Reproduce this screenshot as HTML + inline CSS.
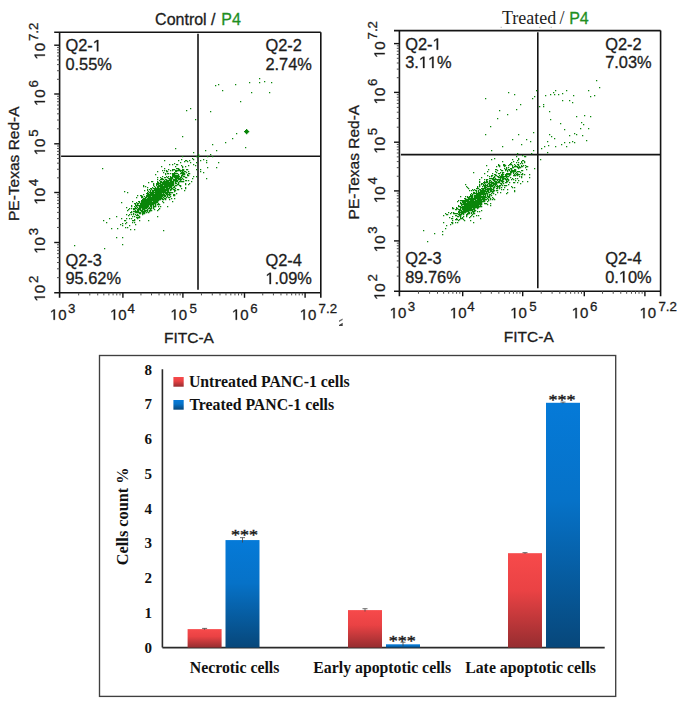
<!DOCTYPE html><html><head><meta charset="utf-8"><style>html,body{margin:0;padding:0;background:#fff;}body{width:685px;height:701px;overflow:hidden;position:relative;}</style></head><body><svg width="685" height="701" viewBox="0 0 685 701" style="position:absolute;left:0;top:0">
<rect width="685" height="701" fill="#fff"/>
<text x="155.1" y="25" font-family='"Liberation Sans", sans-serif' font-size="16" text-anchor="start" fill="#1c1c1c" font-weight="normal" stroke="#1c1c1c" stroke-width="0.3" >Control /</text>
<text x="221.3" y="25" font-family='"Liberation Sans", sans-serif' font-size="16" text-anchor="start" fill="#1f8f1f" font-weight="normal" stroke="#1f8f1f" stroke-width="0.3" >P4</text>
<text x="501.9" y="23.6" font-family='"Liberation Serif", serif' font-size="18" text-anchor="start" fill="#1c1c1c" font-weight="normal" >Treated</text>
<text x="559.4" y="23.6" font-family='"Liberation Serif", serif' font-size="18" text-anchor="start" fill="#1c1c1c" font-weight="normal" >/</text>
<text x="569.2" y="23.6" font-family='"Liberation Sans", sans-serif' font-size="16" text-anchor="start" fill="#1f8f1f" font-weight="normal" stroke="#1f8f1f" stroke-width="0.3" >P4</text>
<rect x="500.6" y="26.8" width="1.2" height="1" fill="#b0b0b0"/>
<rect x="539.2" y="26.8" width="1.2" height="1" fill="#b0b0b0"/>
<rect x="550.6" y="26.8" width="1.2" height="1" fill="#b0b0b0"/>
<line x1="54.2" y1="32.2" x2="320.8" y2="32.2" stroke="#141414" stroke-width="1.6"/>
<line x1="59.6" y1="32.2" x2="59.6" y2="297.8" stroke="#141414" stroke-width="1.6"/>
<line x1="54.2" y1="292.8" x2="320.8" y2="292.8" stroke="#141414" stroke-width="1.6"/>
<line x1="320.8" y1="32.2" x2="320.8" y2="297.8" stroke="#141414" stroke-width="1.6"/>
<line x1="57" y1="277.66" x2="59.6" y2="277.66" stroke="#505050" stroke-width="1.0"/>
<line x1="57" y1="268.8" x2="59.6" y2="268.8" stroke="#505050" stroke-width="1.0"/>
<line x1="57" y1="262.52" x2="59.6" y2="262.52" stroke="#505050" stroke-width="1.0"/>
<line x1="57" y1="257.64" x2="59.6" y2="257.64" stroke="#505050" stroke-width="1.0"/>
<line x1="57" y1="253.66" x2="59.6" y2="253.66" stroke="#505050" stroke-width="1.0"/>
<line x1="57" y1="250.29" x2="59.6" y2="250.29" stroke="#505050" stroke-width="1.0"/>
<line x1="57" y1="247.37" x2="59.6" y2="247.37" stroke="#505050" stroke-width="1.0"/>
<line x1="57" y1="244.8" x2="59.6" y2="244.8" stroke="#505050" stroke-width="1.0"/>
<line x1="54.2" y1="242.5" x2="59.6" y2="242.5" stroke="#141414" stroke-width="1.4"/>
<line x1="57" y1="227.45" x2="59.6" y2="227.45" stroke="#505050" stroke-width="1.0"/>
<line x1="57" y1="218.64" x2="59.6" y2="218.64" stroke="#505050" stroke-width="1.0"/>
<line x1="57" y1="212.4" x2="59.6" y2="212.4" stroke="#505050" stroke-width="1.0"/>
<line x1="57" y1="207.55" x2="59.6" y2="207.55" stroke="#505050" stroke-width="1.0"/>
<line x1="57" y1="203.59" x2="59.6" y2="203.59" stroke="#505050" stroke-width="1.0"/>
<line x1="57" y1="200.25" x2="59.6" y2="200.25" stroke="#505050" stroke-width="1.0"/>
<line x1="57" y1="197.35" x2="59.6" y2="197.35" stroke="#505050" stroke-width="1.0"/>
<line x1="57" y1="194.79" x2="59.6" y2="194.79" stroke="#505050" stroke-width="1.0"/>
<line x1="54.2" y1="192.5" x2="59.6" y2="192.5" stroke="#141414" stroke-width="1.4"/>
<line x1="57" y1="177.84" x2="59.6" y2="177.84" stroke="#505050" stroke-width="1.0"/>
<line x1="57" y1="169.26" x2="59.6" y2="169.26" stroke="#505050" stroke-width="1.0"/>
<line x1="57" y1="163.18" x2="59.6" y2="163.18" stroke="#505050" stroke-width="1.0"/>
<line x1="57" y1="158.46" x2="59.6" y2="158.46" stroke="#505050" stroke-width="1.0"/>
<line x1="57" y1="154.6" x2="59.6" y2="154.6" stroke="#505050" stroke-width="1.0"/>
<line x1="57" y1="151.34" x2="59.6" y2="151.34" stroke="#505050" stroke-width="1.0"/>
<line x1="57" y1="148.52" x2="59.6" y2="148.52" stroke="#505050" stroke-width="1.0"/>
<line x1="57" y1="146.03" x2="59.6" y2="146.03" stroke="#505050" stroke-width="1.0"/>
<line x1="54.2" y1="143.8" x2="59.6" y2="143.8" stroke="#141414" stroke-width="1.4"/>
<line x1="57" y1="128.81" x2="59.6" y2="128.81" stroke="#505050" stroke-width="1.0"/>
<line x1="57" y1="120.04" x2="59.6" y2="120.04" stroke="#505050" stroke-width="1.0"/>
<line x1="57" y1="113.82" x2="59.6" y2="113.82" stroke="#505050" stroke-width="1.0"/>
<line x1="57" y1="108.99" x2="59.6" y2="108.99" stroke="#505050" stroke-width="1.0"/>
<line x1="57" y1="105.05" x2="59.6" y2="105.05" stroke="#505050" stroke-width="1.0"/>
<line x1="57" y1="101.71" x2="59.6" y2="101.71" stroke="#505050" stroke-width="1.0"/>
<line x1="57" y1="98.83" x2="59.6" y2="98.83" stroke="#505050" stroke-width="1.0"/>
<line x1="57" y1="96.28" x2="59.6" y2="96.28" stroke="#505050" stroke-width="1.0"/>
<line x1="54.2" y1="94" x2="59.6" y2="94" stroke="#141414" stroke-width="1.4"/>
<line x1="57" y1="79.31" x2="59.6" y2="79.31" stroke="#505050" stroke-width="1.0"/>
<line x1="57" y1="70.72" x2="59.6" y2="70.72" stroke="#505050" stroke-width="1.0"/>
<line x1="57" y1="64.62" x2="59.6" y2="64.62" stroke="#505050" stroke-width="1.0"/>
<line x1="57" y1="59.89" x2="59.6" y2="59.89" stroke="#505050" stroke-width="1.0"/>
<line x1="57" y1="56.03" x2="59.6" y2="56.03" stroke="#505050" stroke-width="1.0"/>
<line x1="57" y1="52.76" x2="59.6" y2="52.76" stroke="#505050" stroke-width="1.0"/>
<line x1="57" y1="49.93" x2="59.6" y2="49.93" stroke="#505050" stroke-width="1.0"/>
<line x1="57" y1="47.43" x2="59.6" y2="47.43" stroke="#505050" stroke-width="1.0"/>
<line x1="54.2" y1="45.2" x2="59.6" y2="45.2" stroke="#141414" stroke-width="1.4"/>
<line x1="78.66" y1="292.8" x2="78.66" y2="295.4" stroke="#505050" stroke-width="1.0"/>
<line x1="89.8" y1="292.8" x2="89.8" y2="295.4" stroke="#505050" stroke-width="1.0"/>
<line x1="97.71" y1="292.8" x2="97.71" y2="295.4" stroke="#505050" stroke-width="1.0"/>
<line x1="103.84" y1="292.8" x2="103.84" y2="295.4" stroke="#505050" stroke-width="1.0"/>
<line x1="108.86" y1="292.8" x2="108.86" y2="295.4" stroke="#505050" stroke-width="1.0"/>
<line x1="113.09" y1="292.8" x2="113.09" y2="295.4" stroke="#505050" stroke-width="1.0"/>
<line x1="116.77" y1="292.8" x2="116.77" y2="295.4" stroke="#505050" stroke-width="1.0"/>
<line x1="120" y1="292.8" x2="120" y2="295.4" stroke="#505050" stroke-width="1.0"/>
<line x1="122.9" y1="292.8" x2="122.9" y2="297.8" stroke="#141414" stroke-width="1.4"/>
<line x1="140.96" y1="292.8" x2="140.96" y2="295.4" stroke="#505050" stroke-width="1.0"/>
<line x1="151.53" y1="292.8" x2="151.53" y2="295.4" stroke="#505050" stroke-width="1.0"/>
<line x1="159.02" y1="292.8" x2="159.02" y2="295.4" stroke="#505050" stroke-width="1.0"/>
<line x1="164.84" y1="292.8" x2="164.84" y2="295.4" stroke="#505050" stroke-width="1.0"/>
<line x1="169.59" y1="292.8" x2="169.59" y2="295.4" stroke="#505050" stroke-width="1.0"/>
<line x1="173.61" y1="292.8" x2="173.61" y2="295.4" stroke="#505050" stroke-width="1.0"/>
<line x1="177.09" y1="292.8" x2="177.09" y2="295.4" stroke="#505050" stroke-width="1.0"/>
<line x1="180.15" y1="292.8" x2="180.15" y2="295.4" stroke="#505050" stroke-width="1.0"/>
<line x1="182.9" y1="292.8" x2="182.9" y2="297.8" stroke="#141414" stroke-width="1.4"/>
<line x1="201.44" y1="292.8" x2="201.44" y2="295.4" stroke="#505050" stroke-width="1.0"/>
<line x1="212.29" y1="292.8" x2="212.29" y2="295.4" stroke="#505050" stroke-width="1.0"/>
<line x1="219.99" y1="292.8" x2="219.99" y2="295.4" stroke="#505050" stroke-width="1.0"/>
<line x1="225.96" y1="292.8" x2="225.96" y2="295.4" stroke="#505050" stroke-width="1.0"/>
<line x1="230.83" y1="292.8" x2="230.83" y2="295.4" stroke="#505050" stroke-width="1.0"/>
<line x1="234.96" y1="292.8" x2="234.96" y2="295.4" stroke="#505050" stroke-width="1.0"/>
<line x1="238.53" y1="292.8" x2="238.53" y2="295.4" stroke="#505050" stroke-width="1.0"/>
<line x1="241.68" y1="292.8" x2="241.68" y2="295.4" stroke="#505050" stroke-width="1.0"/>
<line x1="244.5" y1="292.8" x2="244.5" y2="297.8" stroke="#141414" stroke-width="1.4"/>
<line x1="262.74" y1="292.8" x2="262.74" y2="295.4" stroke="#505050" stroke-width="1.0"/>
<line x1="273.41" y1="292.8" x2="273.41" y2="295.4" stroke="#505050" stroke-width="1.0"/>
<line x1="280.98" y1="292.8" x2="280.98" y2="295.4" stroke="#505050" stroke-width="1.0"/>
<line x1="286.86" y1="292.8" x2="286.86" y2="295.4" stroke="#505050" stroke-width="1.0"/>
<line x1="291.66" y1="292.8" x2="291.66" y2="295.4" stroke="#505050" stroke-width="1.0"/>
<line x1="295.71" y1="292.8" x2="295.71" y2="295.4" stroke="#505050" stroke-width="1.0"/>
<line x1="299.23" y1="292.8" x2="299.23" y2="295.4" stroke="#505050" stroke-width="1.0"/>
<line x1="302.33" y1="292.8" x2="302.33" y2="295.4" stroke="#505050" stroke-width="1.0"/>
<line x1="305.1" y1="292.8" x2="305.1" y2="297.8" stroke="#141414" stroke-width="1.4"/>
<line x1="198" y1="33.8" x2="198" y2="289.8" stroke="#141414" stroke-width="1.6"/>
<line x1="61.1" y1="156.2" x2="320.8" y2="156.2" stroke="#141414" stroke-width="1.6"/>
<rect x="166" y="190" width="1.25" height="1.25" fill="#0a860a"/>
<rect x="155" y="188" width="1.25" height="1.25" fill="#0a860a"/>
<rect x="153" y="193" width="1.25" height="1.25" fill="#0a860a"/>
<rect x="158" y="187" width="1.25" height="1.25" fill="#0a860a"/>
<rect x="169" y="186" width="1.25" height="1.25" fill="#0a860a"/>
<rect x="184" y="173" width="1.25" height="1.25" fill="#0a860a"/>
<rect x="166" y="185" width="1.25" height="1.25" fill="#0a860a"/>
<rect x="153" y="205" width="1.25" height="1.25" fill="#0a860a"/>
<rect x="160" y="194" width="1.25" height="1.25" fill="#0a860a"/>
<rect x="163" y="193" width="1.25" height="1.25" fill="#0a860a"/>
<rect x="131" y="208" width="1.25" height="1.25" fill="#0a860a"/>
<rect x="169" y="194" width="1.25" height="1.25" fill="#0a860a"/>
<rect x="131" y="214" width="1.25" height="1.25" fill="#0a860a"/>
<rect x="158" y="191" width="1.25" height="1.25" fill="#0a860a"/>
<rect x="152" y="197" width="1.25" height="1.25" fill="#0a860a"/>
<rect x="168" y="184" width="1.25" height="1.25" fill="#0a860a"/>
<rect x="156" y="189" width="1.25" height="1.25" fill="#0a860a"/>
<rect x="168" y="192" width="1.25" height="1.25" fill="#0a860a"/>
<rect x="163" y="187" width="1.25" height="1.25" fill="#0a860a"/>
<rect x="142" y="210" width="1.25" height="1.25" fill="#0a860a"/>
<rect x="161" y="189" width="1.25" height="1.25" fill="#0a860a"/>
<rect x="126" y="218" width="1.25" height="1.25" fill="#0a860a"/>
<rect x="140" y="205" width="1.25" height="1.25" fill="#0a860a"/>
<rect x="156" y="190" width="1.25" height="1.25" fill="#0a860a"/>
<rect x="156" y="201" width="1.25" height="1.25" fill="#0a860a"/>
<rect x="146" y="203" width="1.25" height="1.25" fill="#0a860a"/>
<rect x="161" y="187" width="1.25" height="1.25" fill="#0a860a"/>
<rect x="138" y="212" width="1.25" height="1.25" fill="#0a860a"/>
<rect x="161" y="181" width="1.25" height="1.25" fill="#0a860a"/>
<rect x="150" y="197" width="1.25" height="1.25" fill="#0a860a"/>
<rect x="167" y="177" width="1.25" height="1.25" fill="#0a860a"/>
<rect x="148" y="194" width="1.25" height="1.25" fill="#0a860a"/>
<rect x="143" y="206" width="1.25" height="1.25" fill="#0a860a"/>
<rect x="150" y="199" width="1.25" height="1.25" fill="#0a860a"/>
<rect x="142" y="199" width="1.25" height="1.25" fill="#0a860a"/>
<rect x="170" y="189" width="1.25" height="1.25" fill="#0a860a"/>
<rect x="154" y="195" width="1.25" height="1.25" fill="#0a860a"/>
<rect x="172" y="182" width="1.25" height="1.25" fill="#0a860a"/>
<rect x="160" y="195" width="1.25" height="1.25" fill="#0a860a"/>
<rect x="142" y="203" width="1.25" height="1.25" fill="#0a860a"/>
<rect x="153" y="191" width="1.25" height="1.25" fill="#0a860a"/>
<rect x="156" y="196" width="1.25" height="1.25" fill="#0a860a"/>
<rect x="163" y="190" width="1.25" height="1.25" fill="#0a860a"/>
<rect x="138" y="210" width="1.25" height="1.25" fill="#0a860a"/>
<rect x="162" y="194" width="1.25" height="1.25" fill="#0a860a"/>
<rect x="166" y="184" width="1.25" height="1.25" fill="#0a860a"/>
<rect x="150" y="194" width="1.25" height="1.25" fill="#0a860a"/>
<rect x="147" y="198" width="1.25" height="1.25" fill="#0a860a"/>
<rect x="138" y="209" width="1.25" height="1.25" fill="#0a860a"/>
<rect x="171" y="189" width="1.25" height="1.25" fill="#0a860a"/>
<rect x="158" y="192" width="1.25" height="1.25" fill="#0a860a"/>
<rect x="161" y="194" width="1.25" height="1.25" fill="#0a860a"/>
<rect x="162" y="191" width="1.25" height="1.25" fill="#0a860a"/>
<rect x="184" y="174" width="1.25" height="1.25" fill="#0a860a"/>
<rect x="146" y="207" width="1.25" height="1.25" fill="#0a860a"/>
<rect x="146" y="204" width="1.25" height="1.25" fill="#0a860a"/>
<rect x="150" y="202" width="1.25" height="1.25" fill="#0a860a"/>
<rect x="148" y="200" width="1.25" height="1.25" fill="#0a860a"/>
<rect x="163" y="192" width="1.25" height="1.25" fill="#0a860a"/>
<rect x="137" y="218" width="1.25" height="1.25" fill="#0a860a"/>
<rect x="126" y="214" width="1.25" height="1.25" fill="#0a860a"/>
<rect x="153" y="195" width="1.25" height="1.25" fill="#0a860a"/>
<rect x="157" y="198" width="1.25" height="1.25" fill="#0a860a"/>
<rect x="153" y="208" width="1.25" height="1.25" fill="#0a860a"/>
<rect x="171" y="181" width="1.25" height="1.25" fill="#0a860a"/>
<rect x="157" y="195" width="1.25" height="1.25" fill="#0a860a"/>
<rect x="166" y="188" width="1.25" height="1.25" fill="#0a860a"/>
<rect x="144" y="201" width="1.25" height="1.25" fill="#0a860a"/>
<rect x="166" y="179" width="1.25" height="1.25" fill="#0a860a"/>
<rect x="149" y="207" width="1.25" height="1.25" fill="#0a860a"/>
<rect x="140" y="212" width="1.25" height="1.25" fill="#0a860a"/>
<rect x="175" y="190" width="1.25" height="1.25" fill="#0a860a"/>
<rect x="173" y="181" width="1.25" height="1.25" fill="#0a860a"/>
<rect x="147" y="209" width="1.25" height="1.25" fill="#0a860a"/>
<rect x="175" y="185" width="1.25" height="1.25" fill="#0a860a"/>
<rect x="175" y="178" width="1.25" height="1.25" fill="#0a860a"/>
<rect x="150" y="195" width="1.25" height="1.25" fill="#0a860a"/>
<rect x="164" y="192" width="1.25" height="1.25" fill="#0a860a"/>
<rect x="172" y="188" width="1.25" height="1.25" fill="#0a860a"/>
<rect x="147" y="202" width="1.25" height="1.25" fill="#0a860a"/>
<rect x="143" y="202" width="1.25" height="1.25" fill="#0a860a"/>
<rect x="169" y="188" width="1.25" height="1.25" fill="#0a860a"/>
<rect x="151" y="198" width="1.25" height="1.25" fill="#0a860a"/>
<rect x="154" y="206" width="1.25" height="1.25" fill="#0a860a"/>
<rect x="149" y="200" width="1.25" height="1.25" fill="#0a860a"/>
<rect x="148" y="205" width="1.25" height="1.25" fill="#0a860a"/>
<rect x="146" y="195" width="1.25" height="1.25" fill="#0a860a"/>
<rect x="160" y="192" width="1.25" height="1.25" fill="#0a860a"/>
<rect x="155" y="197" width="1.25" height="1.25" fill="#0a860a"/>
<rect x="161" y="193" width="1.25" height="1.25" fill="#0a860a"/>
<rect x="172" y="184" width="1.25" height="1.25" fill="#0a860a"/>
<rect x="171" y="185" width="1.25" height="1.25" fill="#0a860a"/>
<rect x="162" y="189" width="1.25" height="1.25" fill="#0a860a"/>
<rect x="154" y="190" width="1.25" height="1.25" fill="#0a860a"/>
<rect x="175" y="188" width="1.25" height="1.25" fill="#0a860a"/>
<rect x="160" y="190" width="1.25" height="1.25" fill="#0a860a"/>
<rect x="164" y="180" width="1.25" height="1.25" fill="#0a860a"/>
<rect x="179" y="181" width="1.25" height="1.25" fill="#0a860a"/>
<rect x="157" y="184" width="1.25" height="1.25" fill="#0a860a"/>
<rect x="157" y="202" width="1.25" height="1.25" fill="#0a860a"/>
<rect x="158" y="193" width="1.25" height="1.25" fill="#0a860a"/>
<rect x="142" y="207" width="1.25" height="1.25" fill="#0a860a"/>
<rect x="170" y="187" width="1.25" height="1.25" fill="#0a860a"/>
<rect x="170" y="184" width="1.25" height="1.25" fill="#0a860a"/>
<rect x="149" y="201" width="1.25" height="1.25" fill="#0a860a"/>
<rect x="182" y="175" width="1.25" height="1.25" fill="#0a860a"/>
<rect x="163" y="183" width="1.25" height="1.25" fill="#0a860a"/>
<rect x="171" y="183" width="1.25" height="1.25" fill="#0a860a"/>
<rect x="175" y="176" width="1.25" height="1.25" fill="#0a860a"/>
<rect x="155" y="195" width="1.25" height="1.25" fill="#0a860a"/>
<rect x="165" y="196" width="1.25" height="1.25" fill="#0a860a"/>
<rect x="165" y="190" width="1.25" height="1.25" fill="#0a860a"/>
<rect x="153" y="207" width="1.25" height="1.25" fill="#0a860a"/>
<rect x="142" y="197" width="1.25" height="1.25" fill="#0a860a"/>
<rect x="159" y="194" width="1.25" height="1.25" fill="#0a860a"/>
<rect x="149" y="208" width="1.25" height="1.25" fill="#0a860a"/>
<rect x="133" y="208" width="1.25" height="1.25" fill="#0a860a"/>
<rect x="154" y="194" width="1.25" height="1.25" fill="#0a860a"/>
<rect x="155" y="199" width="1.25" height="1.25" fill="#0a860a"/>
<rect x="158" y="200" width="1.25" height="1.25" fill="#0a860a"/>
<rect x="182" y="172" width="1.25" height="1.25" fill="#0a860a"/>
<rect x="125" y="220" width="1.25" height="1.25" fill="#0a860a"/>
<rect x="170" y="182" width="1.25" height="1.25" fill="#0a860a"/>
<rect x="147" y="205" width="1.25" height="1.25" fill="#0a860a"/>
<rect x="157" y="197" width="1.25" height="1.25" fill="#0a860a"/>
<rect x="155" y="206" width="1.25" height="1.25" fill="#0a860a"/>
<rect x="164" y="186" width="1.25" height="1.25" fill="#0a860a"/>
<rect x="166" y="187" width="1.25" height="1.25" fill="#0a860a"/>
<rect x="160" y="189" width="1.25" height="1.25" fill="#0a860a"/>
<rect x="153" y="196" width="1.25" height="1.25" fill="#0a860a"/>
<rect x="153" y="200" width="1.25" height="1.25" fill="#0a860a"/>
<rect x="147" y="200" width="1.25" height="1.25" fill="#0a860a"/>
<rect x="122" y="225" width="1.25" height="1.25" fill="#0a860a"/>
<rect x="157" y="190" width="1.25" height="1.25" fill="#0a860a"/>
<rect x="142" y="205" width="1.25" height="1.25" fill="#0a860a"/>
<rect x="153" y="194" width="1.25" height="1.25" fill="#0a860a"/>
<rect x="150" y="203" width="1.25" height="1.25" fill="#0a860a"/>
<rect x="171" y="178" width="1.25" height="1.25" fill="#0a860a"/>
<rect x="149" y="199" width="1.25" height="1.25" fill="#0a860a"/>
<rect x="151" y="199" width="1.25" height="1.25" fill="#0a860a"/>
<rect x="159" y="195" width="1.25" height="1.25" fill="#0a860a"/>
<rect x="163" y="181" width="1.25" height="1.25" fill="#0a860a"/>
<rect x="167" y="196" width="1.25" height="1.25" fill="#0a860a"/>
<rect x="151" y="206" width="1.25" height="1.25" fill="#0a860a"/>
<rect x="144" y="203" width="1.25" height="1.25" fill="#0a860a"/>
<rect x="143" y="198" width="1.25" height="1.25" fill="#0a860a"/>
<rect x="149" y="196" width="1.25" height="1.25" fill="#0a860a"/>
<rect x="166" y="180" width="1.25" height="1.25" fill="#0a860a"/>
<rect x="139" y="220" width="1.25" height="1.25" fill="#0a860a"/>
<rect x="154" y="197" width="1.25" height="1.25" fill="#0a860a"/>
<rect x="182" y="169" width="1.25" height="1.25" fill="#0a860a"/>
<rect x="137" y="210" width="1.25" height="1.25" fill="#0a860a"/>
<rect x="169" y="182" width="1.25" height="1.25" fill="#0a860a"/>
<rect x="133" y="213" width="1.25" height="1.25" fill="#0a860a"/>
<rect x="174" y="180" width="1.25" height="1.25" fill="#0a860a"/>
<rect x="162" y="188" width="1.25" height="1.25" fill="#0a860a"/>
<rect x="145" y="200" width="1.25" height="1.25" fill="#0a860a"/>
<rect x="141" y="195" width="1.25" height="1.25" fill="#0a860a"/>
<rect x="145" y="205" width="1.25" height="1.25" fill="#0a860a"/>
<rect x="163" y="188" width="1.25" height="1.25" fill="#0a860a"/>
<rect x="134" y="211" width="1.25" height="1.25" fill="#0a860a"/>
<rect x="158" y="186" width="1.25" height="1.25" fill="#0a860a"/>
<rect x="149" y="197" width="1.25" height="1.25" fill="#0a860a"/>
<rect x="157" y="194" width="1.25" height="1.25" fill="#0a860a"/>
<rect x="147" y="206" width="1.25" height="1.25" fill="#0a860a"/>
<rect x="163" y="194" width="1.25" height="1.25" fill="#0a860a"/>
<rect x="164" y="184" width="1.25" height="1.25" fill="#0a860a"/>
<rect x="164" y="194" width="1.25" height="1.25" fill="#0a860a"/>
<rect x="153" y="199" width="1.25" height="1.25" fill="#0a860a"/>
<rect x="137" y="205" width="1.25" height="1.25" fill="#0a860a"/>
<rect x="148" y="191" width="1.25" height="1.25" fill="#0a860a"/>
<rect x="174" y="186" width="1.25" height="1.25" fill="#0a860a"/>
<rect x="155" y="192" width="1.25" height="1.25" fill="#0a860a"/>
<rect x="150" y="201" width="1.25" height="1.25" fill="#0a860a"/>
<rect x="154" y="202" width="1.25" height="1.25" fill="#0a860a"/>
<rect x="149" y="204" width="1.25" height="1.25" fill="#0a860a"/>
<rect x="149" y="194" width="1.25" height="1.25" fill="#0a860a"/>
<rect x="156" y="193" width="1.25" height="1.25" fill="#0a860a"/>
<rect x="156" y="194" width="1.25" height="1.25" fill="#0a860a"/>
<rect x="161" y="191" width="1.25" height="1.25" fill="#0a860a"/>
<rect x="151" y="197" width="1.25" height="1.25" fill="#0a860a"/>
<rect x="150" y="200" width="1.25" height="1.25" fill="#0a860a"/>
<rect x="133" y="209" width="1.25" height="1.25" fill="#0a860a"/>
<rect x="154" y="192" width="1.25" height="1.25" fill="#0a860a"/>
<rect x="157" y="199" width="1.25" height="1.25" fill="#0a860a"/>
<rect x="141" y="203" width="1.25" height="1.25" fill="#0a860a"/>
<rect x="149" y="195" width="1.25" height="1.25" fill="#0a860a"/>
<rect x="155" y="191" width="1.25" height="1.25" fill="#0a860a"/>
<rect x="175" y="180" width="1.25" height="1.25" fill="#0a860a"/>
<rect x="135" y="212" width="1.25" height="1.25" fill="#0a860a"/>
<rect x="158" y="183" width="1.25" height="1.25" fill="#0a860a"/>
<rect x="173" y="176" width="1.25" height="1.25" fill="#0a860a"/>
<rect x="164" y="185" width="1.25" height="1.25" fill="#0a860a"/>
<rect x="181" y="172" width="1.25" height="1.25" fill="#0a860a"/>
<rect x="161" y="182" width="1.25" height="1.25" fill="#0a860a"/>
<rect x="129" y="218" width="1.25" height="1.25" fill="#0a860a"/>
<rect x="156" y="202" width="1.25" height="1.25" fill="#0a860a"/>
<rect x="164" y="191" width="1.25" height="1.25" fill="#0a860a"/>
<rect x="145" y="207" width="1.25" height="1.25" fill="#0a860a"/>
<rect x="159" y="196" width="1.25" height="1.25" fill="#0a860a"/>
<rect x="167" y="191" width="1.25" height="1.25" fill="#0a860a"/>
<rect x="166" y="186" width="1.25" height="1.25" fill="#0a860a"/>
<rect x="141" y="206" width="1.25" height="1.25" fill="#0a860a"/>
<rect x="146" y="202" width="1.25" height="1.25" fill="#0a860a"/>
<rect x="157" y="187" width="1.25" height="1.25" fill="#0a860a"/>
<rect x="143" y="204" width="1.25" height="1.25" fill="#0a860a"/>
<rect x="156" y="199" width="1.25" height="1.25" fill="#0a860a"/>
<rect x="151" y="192" width="1.25" height="1.25" fill="#0a860a"/>
<rect x="167" y="185" width="1.25" height="1.25" fill="#0a860a"/>
<rect x="158" y="209" width="1.25" height="1.25" fill="#0a860a"/>
<rect x="144" y="208" width="1.25" height="1.25" fill="#0a860a"/>
<rect x="168" y="188" width="1.25" height="1.25" fill="#0a860a"/>
<rect x="155" y="201" width="1.25" height="1.25" fill="#0a860a"/>
<rect x="151" y="205" width="1.25" height="1.25" fill="#0a860a"/>
<rect x="143" y="209" width="1.25" height="1.25" fill="#0a860a"/>
<rect x="177" y="178" width="1.25" height="1.25" fill="#0a860a"/>
<rect x="160" y="191" width="1.25" height="1.25" fill="#0a860a"/>
<rect x="153" y="192" width="1.25" height="1.25" fill="#0a860a"/>
<rect x="170" y="177" width="1.25" height="1.25" fill="#0a860a"/>
<rect x="148" y="193" width="1.25" height="1.25" fill="#0a860a"/>
<rect x="155" y="202" width="1.25" height="1.25" fill="#0a860a"/>
<rect x="176" y="178" width="1.25" height="1.25" fill="#0a860a"/>
<rect x="134" y="206" width="1.25" height="1.25" fill="#0a860a"/>
<rect x="142" y="206" width="1.25" height="1.25" fill="#0a860a"/>
<rect x="154" y="189" width="1.25" height="1.25" fill="#0a860a"/>
<rect x="153" y="198" width="1.25" height="1.25" fill="#0a860a"/>
<rect x="175" y="177" width="1.25" height="1.25" fill="#0a860a"/>
<rect x="140" y="210" width="1.25" height="1.25" fill="#0a860a"/>
<rect x="158" y="196" width="1.25" height="1.25" fill="#0a860a"/>
<rect x="168" y="185" width="1.25" height="1.25" fill="#0a860a"/>
<rect x="177" y="176" width="1.25" height="1.25" fill="#0a860a"/>
<rect x="174" y="187" width="1.25" height="1.25" fill="#0a860a"/>
<rect x="173" y="183" width="1.25" height="1.25" fill="#0a860a"/>
<rect x="167" y="187" width="1.25" height="1.25" fill="#0a860a"/>
<rect x="178" y="175" width="1.25" height="1.25" fill="#0a860a"/>
<rect x="140" y="204" width="1.25" height="1.25" fill="#0a860a"/>
<rect x="159" y="190" width="1.25" height="1.25" fill="#0a860a"/>
<rect x="178" y="168" width="1.25" height="1.25" fill="#0a860a"/>
<rect x="146" y="201" width="1.25" height="1.25" fill="#0a860a"/>
<rect x="167" y="186" width="1.25" height="1.25" fill="#0a860a"/>
<rect x="139" y="206" width="1.25" height="1.25" fill="#0a860a"/>
<rect x="162" y="187" width="1.25" height="1.25" fill="#0a860a"/>
<rect x="153" y="190" width="1.25" height="1.25" fill="#0a860a"/>
<rect x="152" y="198" width="1.25" height="1.25" fill="#0a860a"/>
<rect x="164" y="183" width="1.25" height="1.25" fill="#0a860a"/>
<rect x="136" y="215" width="1.25" height="1.25" fill="#0a860a"/>
<rect x="159" y="193" width="1.25" height="1.25" fill="#0a860a"/>
<rect x="144" y="199" width="1.25" height="1.25" fill="#0a860a"/>
<rect x="141" y="207" width="1.25" height="1.25" fill="#0a860a"/>
<rect x="155" y="187" width="1.25" height="1.25" fill="#0a860a"/>
<rect x="142" y="201" width="1.25" height="1.25" fill="#0a860a"/>
<rect x="157" y="193" width="1.25" height="1.25" fill="#0a860a"/>
<rect x="144" y="213" width="1.25" height="1.25" fill="#0a860a"/>
<rect x="169" y="192" width="1.25" height="1.25" fill="#0a860a"/>
<rect x="148" y="208" width="1.25" height="1.25" fill="#0a860a"/>
<rect x="183" y="179" width="1.25" height="1.25" fill="#0a860a"/>
<rect x="178" y="177" width="1.25" height="1.25" fill="#0a860a"/>
<rect x="165" y="191" width="1.25" height="1.25" fill="#0a860a"/>
<rect x="146" y="206" width="1.25" height="1.25" fill="#0a860a"/>
<rect x="140" y="206" width="1.25" height="1.25" fill="#0a860a"/>
<rect x="152" y="200" width="1.25" height="1.25" fill="#0a860a"/>
<rect x="170" y="181" width="1.25" height="1.25" fill="#0a860a"/>
<rect x="164" y="187" width="1.25" height="1.25" fill="#0a860a"/>
<rect x="148" y="197" width="1.25" height="1.25" fill="#0a860a"/>
<rect x="154" y="199" width="1.25" height="1.25" fill="#0a860a"/>
<rect x="134" y="208" width="1.25" height="1.25" fill="#0a860a"/>
<rect x="143" y="207" width="1.25" height="1.25" fill="#0a860a"/>
<rect x="146" y="212" width="1.25" height="1.25" fill="#0a860a"/>
<rect x="167" y="181" width="1.25" height="1.25" fill="#0a860a"/>
<rect x="157" y="201" width="1.25" height="1.25" fill="#0a860a"/>
<rect x="142" y="209" width="1.25" height="1.25" fill="#0a860a"/>
<rect x="173" y="175" width="1.25" height="1.25" fill="#0a860a"/>
<rect x="162" y="183" width="1.25" height="1.25" fill="#0a860a"/>
<rect x="137" y="215" width="1.25" height="1.25" fill="#0a860a"/>
<rect x="172" y="176" width="1.25" height="1.25" fill="#0a860a"/>
<rect x="173" y="180" width="1.25" height="1.25" fill="#0a860a"/>
<rect x="180" y="179" width="1.25" height="1.25" fill="#0a860a"/>
<rect x="161" y="185" width="1.25" height="1.25" fill="#0a860a"/>
<rect x="142" y="211" width="1.25" height="1.25" fill="#0a860a"/>
<rect x="155" y="203" width="1.25" height="1.25" fill="#0a860a"/>
<rect x="159" y="192" width="1.25" height="1.25" fill="#0a860a"/>
<rect x="143" y="212" width="1.25" height="1.25" fill="#0a860a"/>
<rect x="160" y="186" width="1.25" height="1.25" fill="#0a860a"/>
<rect x="158" y="198" width="1.25" height="1.25" fill="#0a860a"/>
<rect x="150" y="205" width="1.25" height="1.25" fill="#0a860a"/>
<rect x="165" y="187" width="1.25" height="1.25" fill="#0a860a"/>
<rect x="150" y="209" width="1.25" height="1.25" fill="#0a860a"/>
<rect x="160" y="193" width="1.25" height="1.25" fill="#0a860a"/>
<rect x="164" y="198" width="1.25" height="1.25" fill="#0a860a"/>
<rect x="169" y="179" width="1.25" height="1.25" fill="#0a860a"/>
<rect x="137" y="211" width="1.25" height="1.25" fill="#0a860a"/>
<rect x="165" y="186" width="1.25" height="1.25" fill="#0a860a"/>
<rect x="155" y="194" width="1.25" height="1.25" fill="#0a860a"/>
<rect x="148" y="206" width="1.25" height="1.25" fill="#0a860a"/>
<rect x="150" y="198" width="1.25" height="1.25" fill="#0a860a"/>
<rect x="151" y="201" width="1.25" height="1.25" fill="#0a860a"/>
<rect x="146" y="210" width="1.25" height="1.25" fill="#0a860a"/>
<rect x="163" y="186" width="1.25" height="1.25" fill="#0a860a"/>
<rect x="155" y="200" width="1.25" height="1.25" fill="#0a860a"/>
<rect x="145" y="206" width="1.25" height="1.25" fill="#0a860a"/>
<rect x="168" y="178" width="1.25" height="1.25" fill="#0a860a"/>
<rect x="183" y="174" width="1.25" height="1.25" fill="#0a860a"/>
<rect x="143" y="200" width="1.25" height="1.25" fill="#0a860a"/>
<rect x="136" y="212" width="1.25" height="1.25" fill="#0a860a"/>
<rect x="141" y="200" width="1.25" height="1.25" fill="#0a860a"/>
<rect x="156" y="192" width="1.25" height="1.25" fill="#0a860a"/>
<rect x="151" y="194" width="1.25" height="1.25" fill="#0a860a"/>
<rect x="134" y="209" width="1.25" height="1.25" fill="#0a860a"/>
<rect x="156" y="198" width="1.25" height="1.25" fill="#0a860a"/>
<rect x="142" y="204" width="1.25" height="1.25" fill="#0a860a"/>
<rect x="158" y="195" width="1.25" height="1.25" fill="#0a860a"/>
<rect x="167" y="189" width="1.25" height="1.25" fill="#0a860a"/>
<rect x="158" y="189" width="1.25" height="1.25" fill="#0a860a"/>
<rect x="157" y="196" width="1.25" height="1.25" fill="#0a860a"/>
<rect x="176" y="175" width="1.25" height="1.25" fill="#0a860a"/>
<rect x="170" y="180" width="1.25" height="1.25" fill="#0a860a"/>
<rect x="145" y="204" width="1.25" height="1.25" fill="#0a860a"/>
<rect x="157" y="200" width="1.25" height="1.25" fill="#0a860a"/>
<rect x="144" y="207" width="1.25" height="1.25" fill="#0a860a"/>
<rect x="145" y="199" width="1.25" height="1.25" fill="#0a860a"/>
<rect x="164" y="188" width="1.25" height="1.25" fill="#0a860a"/>
<rect x="151" y="207" width="1.25" height="1.25" fill="#0a860a"/>
<rect x="155" y="193" width="1.25" height="1.25" fill="#0a860a"/>
<rect x="157" y="191" width="1.25" height="1.25" fill="#0a860a"/>
<rect x="166" y="194" width="1.25" height="1.25" fill="#0a860a"/>
<rect x="151" y="195" width="1.25" height="1.25" fill="#0a860a"/>
<rect x="159" y="197" width="1.25" height="1.25" fill="#0a860a"/>
<rect x="170" y="176" width="1.25" height="1.25" fill="#0a860a"/>
<rect x="176" y="180" width="1.25" height="1.25" fill="#0a860a"/>
<rect x="161" y="196" width="1.25" height="1.25" fill="#0a860a"/>
<rect x="137" y="207" width="1.25" height="1.25" fill="#0a860a"/>
<rect x="151" y="200" width="1.25" height="1.25" fill="#0a860a"/>
<rect x="156" y="197" width="1.25" height="1.25" fill="#0a860a"/>
<rect x="136" y="211" width="1.25" height="1.25" fill="#0a860a"/>
<rect x="176" y="177" width="1.25" height="1.25" fill="#0a860a"/>
<rect x="169" y="180" width="1.25" height="1.25" fill="#0a860a"/>
<rect x="145" y="210" width="1.25" height="1.25" fill="#0a860a"/>
<rect x="169" y="195" width="1.25" height="1.25" fill="#0a860a"/>
<rect x="162" y="190" width="1.25" height="1.25" fill="#0a860a"/>
<rect x="159" y="186" width="1.25" height="1.25" fill="#0a860a"/>
<rect x="172" y="173" width="1.25" height="1.25" fill="#0a860a"/>
<rect x="168" y="191" width="1.25" height="1.25" fill="#0a860a"/>
<rect x="176" y="179" width="1.25" height="1.25" fill="#0a860a"/>
<rect x="141" y="210" width="1.25" height="1.25" fill="#0a860a"/>
<rect x="146" y="200" width="1.25" height="1.25" fill="#0a860a"/>
<rect x="155" y="196" width="1.25" height="1.25" fill="#0a860a"/>
<rect x="168" y="189" width="1.25" height="1.25" fill="#0a860a"/>
<rect x="166" y="189" width="1.25" height="1.25" fill="#0a860a"/>
<rect x="131" y="211" width="1.25" height="1.25" fill="#0a860a"/>
<rect x="143" y="211" width="1.25" height="1.25" fill="#0a860a"/>
<rect x="165" y="199" width="1.25" height="1.25" fill="#0a860a"/>
<rect x="159" y="199" width="1.25" height="1.25" fill="#0a860a"/>
<rect x="170" y="186" width="1.25" height="1.25" fill="#0a860a"/>
<rect x="155" y="190" width="1.25" height="1.25" fill="#0a860a"/>
<rect x="154" y="200" width="1.25" height="1.25" fill="#0a860a"/>
<rect x="157" y="204" width="1.25" height="1.25" fill="#0a860a"/>
<rect x="153" y="197" width="1.25" height="1.25" fill="#0a860a"/>
<rect x="153" y="185" width="1.25" height="1.25" fill="#0a860a"/>
<rect x="174" y="177" width="1.25" height="1.25" fill="#0a860a"/>
<rect x="152" y="193" width="1.25" height="1.25" fill="#0a860a"/>
<rect x="160" y="197" width="1.25" height="1.25" fill="#0a860a"/>
<rect x="146" y="193" width="1.25" height="1.25" fill="#0a860a"/>
<rect x="145" y="203" width="1.25" height="1.25" fill="#0a860a"/>
<rect x="167" y="180" width="1.25" height="1.25" fill="#0a860a"/>
<rect x="175" y="171" width="1.25" height="1.25" fill="#0a860a"/>
<rect x="150" y="204" width="1.25" height="1.25" fill="#0a860a"/>
<rect x="148" y="201" width="1.25" height="1.25" fill="#0a860a"/>
<rect x="173" y="179" width="1.25" height="1.25" fill="#0a860a"/>
<rect x="141" y="205" width="1.25" height="1.25" fill="#0a860a"/>
<rect x="151" y="210" width="1.25" height="1.25" fill="#0a860a"/>
<rect x="176" y="168" width="1.25" height="1.25" fill="#0a860a"/>
<rect x="151" y="203" width="1.25" height="1.25" fill="#0a860a"/>
<rect x="173" y="182" width="1.25" height="1.25" fill="#0a860a"/>
<rect x="181" y="159" width="1.25" height="1.25" fill="#0a860a"/>
<rect x="145" y="198" width="1.25" height="1.25" fill="#0a860a"/>
<rect x="145" y="197" width="1.25" height="1.25" fill="#0a860a"/>
<rect x="129" y="214" width="1.25" height="1.25" fill="#0a860a"/>
<rect x="166" y="192" width="1.25" height="1.25" fill="#0a860a"/>
<rect x="147" y="204" width="1.25" height="1.25" fill="#0a860a"/>
<rect x="171" y="177" width="1.25" height="1.25" fill="#0a860a"/>
<rect x="178" y="178" width="1.25" height="1.25" fill="#0a860a"/>
<rect x="185" y="177" width="1.25" height="1.25" fill="#0a860a"/>
<rect x="140" y="209" width="1.25" height="1.25" fill="#0a860a"/>
<rect x="142" y="196" width="1.25" height="1.25" fill="#0a860a"/>
<rect x="169" y="183" width="1.25" height="1.25" fill="#0a860a"/>
<rect x="125" y="227" width="1.25" height="1.25" fill="#0a860a"/>
<rect x="148" y="199" width="1.25" height="1.25" fill="#0a860a"/>
<rect x="152" y="190" width="1.25" height="1.25" fill="#0a860a"/>
<rect x="165" y="189" width="1.25" height="1.25" fill="#0a860a"/>
<rect x="168" y="182" width="1.25" height="1.25" fill="#0a860a"/>
<rect x="138" y="217" width="1.25" height="1.25" fill="#0a860a"/>
<rect x="174" y="169" width="1.25" height="1.25" fill="#0a860a"/>
<rect x="140" y="203" width="1.25" height="1.25" fill="#0a860a"/>
<rect x="155" y="198" width="1.25" height="1.25" fill="#0a860a"/>
<rect x="162" y="186" width="1.25" height="1.25" fill="#0a860a"/>
<rect x="146" y="208" width="1.25" height="1.25" fill="#0a860a"/>
<rect x="175" y="179" width="1.25" height="1.25" fill="#0a860a"/>
<rect x="186" y="172" width="1.25" height="1.25" fill="#0a860a"/>
<rect x="164" y="195" width="1.25" height="1.25" fill="#0a860a"/>
<rect x="138" y="208" width="1.25" height="1.25" fill="#0a860a"/>
<rect x="148" y="195" width="1.25" height="1.25" fill="#0a860a"/>
<rect x="172" y="175" width="1.25" height="1.25" fill="#0a860a"/>
<rect x="133" y="220" width="1.25" height="1.25" fill="#0a860a"/>
<rect x="133" y="214" width="1.25" height="1.25" fill="#0a860a"/>
<rect x="169" y="178" width="1.25" height="1.25" fill="#0a860a"/>
<rect x="158" y="194" width="1.25" height="1.25" fill="#0a860a"/>
<rect x="147" y="196" width="1.25" height="1.25" fill="#0a860a"/>
<rect x="152" y="196" width="1.25" height="1.25" fill="#0a860a"/>
<rect x="139" y="202" width="1.25" height="1.25" fill="#0a860a"/>
<rect x="163" y="184" width="1.25" height="1.25" fill="#0a860a"/>
<rect x="174" y="176" width="1.25" height="1.25" fill="#0a860a"/>
<rect x="152" y="199" width="1.25" height="1.25" fill="#0a860a"/>
<rect x="142" y="212" width="1.25" height="1.25" fill="#0a860a"/>
<rect x="161" y="195" width="1.25" height="1.25" fill="#0a860a"/>
<rect x="150" y="208" width="1.25" height="1.25" fill="#0a860a"/>
<rect x="153" y="203" width="1.25" height="1.25" fill="#0a860a"/>
<rect x="158" y="204" width="1.25" height="1.25" fill="#0a860a"/>
<rect x="167" y="193" width="1.25" height="1.25" fill="#0a860a"/>
<rect x="144" y="210" width="1.25" height="1.25" fill="#0a860a"/>
<rect x="161" y="190" width="1.25" height="1.25" fill="#0a860a"/>
<rect x="166" y="193" width="1.25" height="1.25" fill="#0a860a"/>
<rect x="156" y="200" width="1.25" height="1.25" fill="#0a860a"/>
<rect x="148" y="202" width="1.25" height="1.25" fill="#0a860a"/>
<rect x="139" y="205" width="1.25" height="1.25" fill="#0a860a"/>
<rect x="149" y="203" width="1.25" height="1.25" fill="#0a860a"/>
<rect x="164" y="182" width="1.25" height="1.25" fill="#0a860a"/>
<rect x="161" y="197" width="1.25" height="1.25" fill="#0a860a"/>
<rect x="160" y="185" width="1.25" height="1.25" fill="#0a860a"/>
<rect x="180" y="173" width="1.25" height="1.25" fill="#0a860a"/>
<rect x="132" y="222" width="1.25" height="1.25" fill="#0a860a"/>
<rect x="161" y="186" width="1.25" height="1.25" fill="#0a860a"/>
<rect x="150" y="210" width="1.25" height="1.25" fill="#0a860a"/>
<rect x="143" y="201" width="1.25" height="1.25" fill="#0a860a"/>
<rect x="140" y="213" width="1.25" height="1.25" fill="#0a860a"/>
<rect x="165" y="184" width="1.25" height="1.25" fill="#0a860a"/>
<rect x="152" y="191" width="1.25" height="1.25" fill="#0a860a"/>
<rect x="196" y="162" width="1.25" height="1.25" fill="#0a860a"/>
<rect x="150" y="191" width="1.25" height="1.25" fill="#0a860a"/>
<rect x="142" y="200" width="1.25" height="1.25" fill="#0a860a"/>
<rect x="130" y="212" width="1.25" height="1.25" fill="#0a860a"/>
<rect x="146" y="196" width="1.25" height="1.25" fill="#0a860a"/>
<rect x="174" y="174" width="1.25" height="1.25" fill="#0a860a"/>
<rect x="158" y="203" width="1.25" height="1.25" fill="#0a860a"/>
<rect x="143" y="213" width="1.25" height="1.25" fill="#0a860a"/>
<rect x="150" y="193" width="1.25" height="1.25" fill="#0a860a"/>
<rect x="179" y="178" width="1.25" height="1.25" fill="#0a860a"/>
<rect x="139" y="213" width="1.25" height="1.25" fill="#0a860a"/>
<rect x="160" y="188" width="1.25" height="1.25" fill="#0a860a"/>
<rect x="157" y="189" width="1.25" height="1.25" fill="#0a860a"/>
<rect x="179" y="179" width="1.25" height="1.25" fill="#0a860a"/>
<rect x="149" y="210" width="1.25" height="1.25" fill="#0a860a"/>
<rect x="169" y="193" width="1.25" height="1.25" fill="#0a860a"/>
<rect x="157" y="192" width="1.25" height="1.25" fill="#0a860a"/>
<rect x="142" y="208" width="1.25" height="1.25" fill="#0a860a"/>
<rect x="163" y="189" width="1.25" height="1.25" fill="#0a860a"/>
<rect x="165" y="185" width="1.25" height="1.25" fill="#0a860a"/>
<rect x="147" y="199" width="1.25" height="1.25" fill="#0a860a"/>
<rect x="179" y="170" width="1.25" height="1.25" fill="#0a860a"/>
<rect x="138" y="211" width="1.25" height="1.25" fill="#0a860a"/>
<rect x="138" y="201" width="1.25" height="1.25" fill="#0a860a"/>
<rect x="159" y="191" width="1.25" height="1.25" fill="#0a860a"/>
<rect x="137" y="204" width="1.25" height="1.25" fill="#0a860a"/>
<rect x="135" y="211" width="1.25" height="1.25" fill="#0a860a"/>
<rect x="173" y="187" width="1.25" height="1.25" fill="#0a860a"/>
<rect x="178" y="182" width="1.25" height="1.25" fill="#0a860a"/>
<rect x="171" y="182" width="1.25" height="1.25" fill="#0a860a"/>
<rect x="152" y="204" width="1.25" height="1.25" fill="#0a860a"/>
<rect x="168" y="186" width="1.25" height="1.25" fill="#0a860a"/>
<rect x="127" y="210" width="1.25" height="1.25" fill="#0a860a"/>
<rect x="151" y="204" width="1.25" height="1.25" fill="#0a860a"/>
<rect x="176" y="171" width="1.25" height="1.25" fill="#0a860a"/>
<rect x="155" y="189" width="1.25" height="1.25" fill="#0a860a"/>
<rect x="146" y="199" width="1.25" height="1.25" fill="#0a860a"/>
<rect x="151" y="202" width="1.25" height="1.25" fill="#0a860a"/>
<rect x="156" y="195" width="1.25" height="1.25" fill="#0a860a"/>
<rect x="182" y="174" width="1.25" height="1.25" fill="#0a860a"/>
<rect x="163" y="182" width="1.25" height="1.25" fill="#0a860a"/>
<rect x="167" y="183" width="1.25" height="1.25" fill="#0a860a"/>
<rect x="135" y="210" width="1.25" height="1.25" fill="#0a860a"/>
<rect x="160" y="206" width="1.25" height="1.25" fill="#0a860a"/>
<rect x="172" y="185" width="1.25" height="1.25" fill="#0a860a"/>
<rect x="148" y="204" width="1.25" height="1.25" fill="#0a860a"/>
<rect x="179" y="185" width="1.25" height="1.25" fill="#0a860a"/>
<rect x="178" y="179" width="1.25" height="1.25" fill="#0a860a"/>
<rect x="168" y="180" width="1.25" height="1.25" fill="#0a860a"/>
<rect x="183" y="172" width="1.25" height="1.25" fill="#0a860a"/>
<rect x="171" y="179" width="1.25" height="1.25" fill="#0a860a"/>
<rect x="138" y="205" width="1.25" height="1.25" fill="#0a860a"/>
<rect x="155" y="205" width="1.25" height="1.25" fill="#0a860a"/>
<rect x="146" y="205" width="1.25" height="1.25" fill="#0a860a"/>
<rect x="152" y="202" width="1.25" height="1.25" fill="#0a860a"/>
<rect x="145" y="211" width="1.25" height="1.25" fill="#0a860a"/>
<rect x="159" y="189" width="1.25" height="1.25" fill="#0a860a"/>
<rect x="150" y="192" width="1.25" height="1.25" fill="#0a860a"/>
<rect x="167" y="188" width="1.25" height="1.25" fill="#0a860a"/>
<rect x="154" y="196" width="1.25" height="1.25" fill="#0a860a"/>
<rect x="162" y="176" width="1.25" height="1.25" fill="#0a860a"/>
<rect x="147" y="193" width="1.25" height="1.25" fill="#0a860a"/>
<rect x="139" y="208" width="1.25" height="1.25" fill="#0a860a"/>
<rect x="132" y="216" width="1.25" height="1.25" fill="#0a860a"/>
<rect x="142" y="213" width="1.25" height="1.25" fill="#0a860a"/>
<rect x="163" y="191" width="1.25" height="1.25" fill="#0a860a"/>
<rect x="154" y="188" width="1.25" height="1.25" fill="#0a860a"/>
<rect x="162" y="199" width="1.25" height="1.25" fill="#0a860a"/>
<rect x="140" y="208" width="1.25" height="1.25" fill="#0a860a"/>
<rect x="138" y="215" width="1.25" height="1.25" fill="#0a860a"/>
<rect x="159" y="204" width="1.25" height="1.25" fill="#0a860a"/>
<rect x="177" y="181" width="1.25" height="1.25" fill="#0a860a"/>
<rect x="144" y="198" width="1.25" height="1.25" fill="#0a860a"/>
<rect x="162" y="198" width="1.25" height="1.25" fill="#0a860a"/>
<rect x="148" y="196" width="1.25" height="1.25" fill="#0a860a"/>
<rect x="185" y="171" width="1.25" height="1.25" fill="#0a860a"/>
<rect x="133" y="211" width="1.25" height="1.25" fill="#0a860a"/>
<rect x="139" y="207" width="1.25" height="1.25" fill="#0a860a"/>
<rect x="131" y="218" width="1.25" height="1.25" fill="#0a860a"/>
<rect x="157" y="188" width="1.25" height="1.25" fill="#0a860a"/>
<rect x="166" y="197" width="1.25" height="1.25" fill="#0a860a"/>
<rect x="156" y="188" width="1.25" height="1.25" fill="#0a860a"/>
<rect x="137" y="203" width="1.25" height="1.25" fill="#0a860a"/>
<rect x="140" y="207" width="1.25" height="1.25" fill="#0a860a"/>
<rect x="144" y="206" width="1.25" height="1.25" fill="#0a860a"/>
<rect x="151" y="188" width="1.25" height="1.25" fill="#0a860a"/>
<rect x="149" y="211" width="1.25" height="1.25" fill="#0a860a"/>
<rect x="166" y="181" width="1.25" height="1.25" fill="#0a860a"/>
<rect x="150" y="206" width="1.25" height="1.25" fill="#0a860a"/>
<rect x="171" y="186" width="1.25" height="1.25" fill="#0a860a"/>
<rect x="182" y="167" width="1.25" height="1.25" fill="#0a860a"/>
<rect x="154" y="186" width="1.25" height="1.25" fill="#0a860a"/>
<rect x="178" y="183" width="1.25" height="1.25" fill="#0a860a"/>
<rect x="132" y="220" width="1.25" height="1.25" fill="#0a860a"/>
<rect x="177" y="173" width="1.25" height="1.25" fill="#0a860a"/>
<rect x="143" y="208" width="1.25" height="1.25" fill="#0a860a"/>
<rect x="178" y="170" width="1.25" height="1.25" fill="#0a860a"/>
<rect x="130" y="229" width="1.25" height="1.25" fill="#0a860a"/>
<rect x="124" y="220" width="1.25" height="1.25" fill="#0a860a"/>
<rect x="128" y="215" width="1.25" height="1.25" fill="#0a860a"/>
<rect x="150" y="188" width="1.25" height="1.25" fill="#0a860a"/>
<rect x="143" y="205" width="1.25" height="1.25" fill="#0a860a"/>
<rect x="160" y="187" width="1.25" height="1.25" fill="#0a860a"/>
<rect x="148" y="203" width="1.25" height="1.25" fill="#0a860a"/>
<rect x="159" y="183" width="1.25" height="1.25" fill="#0a860a"/>
<rect x="158" y="199" width="1.25" height="1.25" fill="#0a860a"/>
<rect x="168" y="194" width="1.25" height="1.25" fill="#0a860a"/>
<rect x="152" y="194" width="1.25" height="1.25" fill="#0a860a"/>
<rect x="136" y="205" width="1.25" height="1.25" fill="#0a860a"/>
<rect x="170" y="178" width="1.25" height="1.25" fill="#0a860a"/>
<rect x="153" y="188" width="1.25" height="1.25" fill="#0a860a"/>
<rect x="175" y="173" width="1.25" height="1.25" fill="#0a860a"/>
<rect x="137" y="209" width="1.25" height="1.25" fill="#0a860a"/>
<rect x="172" y="181" width="1.25" height="1.25" fill="#0a860a"/>
<rect x="152" y="203" width="1.25" height="1.25" fill="#0a860a"/>
<rect x="144" y="202" width="1.25" height="1.25" fill="#0a860a"/>
<rect x="145" y="201" width="1.25" height="1.25" fill="#0a860a"/>
<rect x="147" y="192" width="1.25" height="1.25" fill="#0a860a"/>
<rect x="146" y="197" width="1.25" height="1.25" fill="#0a860a"/>
<rect x="125" y="223" width="1.25" height="1.25" fill="#0a860a"/>
<rect x="162" y="178" width="1.25" height="1.25" fill="#0a860a"/>
<rect x="147" y="201" width="1.25" height="1.25" fill="#0a860a"/>
<rect x="120" y="224" width="1.25" height="1.25" fill="#0a860a"/>
<rect x="136" y="206" width="1.25" height="1.25" fill="#0a860a"/>
<rect x="152" y="192" width="1.25" height="1.25" fill="#0a860a"/>
<rect x="158" y="188" width="1.25" height="1.25" fill="#0a860a"/>
<rect x="166" y="182" width="1.25" height="1.25" fill="#0a860a"/>
<rect x="165" y="183" width="1.25" height="1.25" fill="#0a860a"/>
<rect x="175" y="183" width="1.25" height="1.25" fill="#0a860a"/>
<rect x="165" y="177" width="1.25" height="1.25" fill="#0a860a"/>
<rect x="144" y="196" width="1.25" height="1.25" fill="#0a860a"/>
<rect x="140" y="195" width="1.25" height="1.25" fill="#0a860a"/>
<rect x="144" y="212" width="1.25" height="1.25" fill="#0a860a"/>
<rect x="159" y="198" width="1.25" height="1.25" fill="#0a860a"/>
<rect x="153" y="184" width="1.25" height="1.25" fill="#0a860a"/>
<rect x="144" y="211" width="1.25" height="1.25" fill="#0a860a"/>
<rect x="139" y="217" width="1.25" height="1.25" fill="#0a860a"/>
<rect x="156" y="191" width="1.25" height="1.25" fill="#0a860a"/>
<rect x="136" y="208" width="1.25" height="1.25" fill="#0a860a"/>
<rect x="134" y="222" width="1.25" height="1.25" fill="#0a860a"/>
<rect x="151" y="193" width="1.25" height="1.25" fill="#0a860a"/>
<rect x="174" y="173" width="1.25" height="1.25" fill="#0a860a"/>
<rect x="144" y="209" width="1.25" height="1.25" fill="#0a860a"/>
<rect x="142" y="202" width="1.25" height="1.25" fill="#0a860a"/>
<rect x="181" y="173" width="1.25" height="1.25" fill="#0a860a"/>
<rect x="180" y="170" width="1.25" height="1.25" fill="#0a860a"/>
<rect x="162" y="195" width="1.25" height="1.25" fill="#0a860a"/>
<rect x="134" y="216" width="1.25" height="1.25" fill="#0a860a"/>
<rect x="176" y="173" width="1.25" height="1.25" fill="#0a860a"/>
<rect x="158" y="185" width="1.25" height="1.25" fill="#0a860a"/>
<rect x="161" y="198" width="1.25" height="1.25" fill="#0a860a"/>
<rect x="144" y="200" width="1.25" height="1.25" fill="#0a860a"/>
<rect x="164" y="190" width="1.25" height="1.25" fill="#0a860a"/>
<rect x="136" y="217" width="1.25" height="1.25" fill="#0a860a"/>
<rect x="160" y="184" width="1.25" height="1.25" fill="#0a860a"/>
<rect x="135" y="205" width="1.25" height="1.25" fill="#0a860a"/>
<rect x="171" y="180" width="1.25" height="1.25" fill="#0a860a"/>
<rect x="135" y="224" width="1.25" height="1.25" fill="#0a860a"/>
<rect x="134" y="219" width="1.25" height="1.25" fill="#0a860a"/>
<rect x="161" y="192" width="1.25" height="1.25" fill="#0a860a"/>
<rect x="149" y="198" width="1.25" height="1.25" fill="#0a860a"/>
<rect x="158" y="206" width="1.25" height="1.25" fill="#0a860a"/>
<rect x="170" y="179" width="1.25" height="1.25" fill="#0a860a"/>
<rect x="162" y="192" width="1.25" height="1.25" fill="#0a860a"/>
<rect x="139" y="212" width="1.25" height="1.25" fill="#0a860a"/>
<rect x="165" y="192" width="1.25" height="1.25" fill="#0a860a"/>
<rect x="169" y="187" width="1.25" height="1.25" fill="#0a860a"/>
<rect x="170" y="194" width="1.25" height="1.25" fill="#0a860a"/>
<rect x="141" y="211" width="1.25" height="1.25" fill="#0a860a"/>
<rect x="170" y="183" width="1.25" height="1.25" fill="#0a860a"/>
<rect x="177" y="170" width="1.25" height="1.25" fill="#0a860a"/>
<rect x="154" y="198" width="1.25" height="1.25" fill="#0a860a"/>
<rect x="175" y="182" width="1.25" height="1.25" fill="#0a860a"/>
<rect x="135" y="214" width="1.25" height="1.25" fill="#0a860a"/>
<rect x="169" y="199" width="1.25" height="1.25" fill="#0a860a"/>
<rect x="171" y="187" width="1.25" height="1.25" fill="#0a860a"/>
<rect x="139" y="201" width="1.25" height="1.25" fill="#0a860a"/>
<rect x="181" y="175" width="1.25" height="1.25" fill="#0a860a"/>
<rect x="165" y="181" width="1.25" height="1.25" fill="#0a860a"/>
<rect x="143" y="203" width="1.25" height="1.25" fill="#0a860a"/>
<rect x="178" y="184" width="1.25" height="1.25" fill="#0a860a"/>
<rect x="147" y="210" width="1.25" height="1.25" fill="#0a860a"/>
<rect x="176" y="176" width="1.25" height="1.25" fill="#0a860a"/>
<rect x="150" y="190" width="1.25" height="1.25" fill="#0a860a"/>
<rect x="128" y="209" width="1.25" height="1.25" fill="#0a860a"/>
<rect x="159" y="188" width="1.25" height="1.25" fill="#0a860a"/>
<rect x="139" y="209" width="1.25" height="1.25" fill="#0a860a"/>
<rect x="177" y="177" width="1.25" height="1.25" fill="#0a860a"/>
<rect x="168" y="190" width="1.25" height="1.25" fill="#0a860a"/>
<rect x="153" y="202" width="1.25" height="1.25" fill="#0a860a"/>
<rect x="174" y="175" width="1.25" height="1.25" fill="#0a860a"/>
<rect x="160" y="199" width="1.25" height="1.25" fill="#0a860a"/>
<rect x="141" y="204" width="1.25" height="1.25" fill="#0a860a"/>
<rect x="177" y="175" width="1.25" height="1.25" fill="#0a860a"/>
<rect x="162" y="185" width="1.25" height="1.25" fill="#0a860a"/>
<rect x="177" y="180" width="1.25" height="1.25" fill="#0a860a"/>
<rect x="183" y="173" width="1.25" height="1.25" fill="#0a860a"/>
<rect x="167" y="190" width="1.25" height="1.25" fill="#0a860a"/>
<rect x="151" y="208" width="1.25" height="1.25" fill="#0a860a"/>
<rect x="147" y="203" width="1.25" height="1.25" fill="#0a860a"/>
<rect x="161" y="188" width="1.25" height="1.25" fill="#0a860a"/>
<rect x="158" y="190" width="1.25" height="1.25" fill="#0a860a"/>
<rect x="188" y="165" width="1.25" height="1.25" fill="#0a860a"/>
<rect x="186" y="177" width="1.25" height="1.25" fill="#0a860a"/>
<rect x="138" y="203" width="1.25" height="1.25" fill="#0a860a"/>
<rect x="165" y="198" width="1.25" height="1.25" fill="#0a860a"/>
<rect x="150" y="196" width="1.25" height="1.25" fill="#0a860a"/>
<rect x="142" y="214" width="1.25" height="1.25" fill="#0a860a"/>
<rect x="141" y="202" width="1.25" height="1.25" fill="#0a860a"/>
<rect x="135" y="204" width="1.25" height="1.25" fill="#0a860a"/>
<rect x="148" y="212" width="1.25" height="1.25" fill="#0a860a"/>
<rect x="145" y="208" width="1.25" height="1.25" fill="#0a860a"/>
<rect x="168" y="176" width="1.25" height="1.25" fill="#0a860a"/>
<rect x="183" y="169" width="1.25" height="1.25" fill="#0a860a"/>
<rect x="173" y="185" width="1.25" height="1.25" fill="#0a860a"/>
<rect x="153" y="204" width="1.25" height="1.25" fill="#0a860a"/>
<rect x="160" y="198" width="1.25" height="1.25" fill="#0a860a"/>
<rect x="176" y="185" width="1.25" height="1.25" fill="#0a860a"/>
<rect x="174" y="190" width="1.25" height="1.25" fill="#0a860a"/>
<rect x="174" y="189" width="1.25" height="1.25" fill="#0a860a"/>
<rect x="137" y="212" width="1.25" height="1.25" fill="#0a860a"/>
<rect x="171" y="184" width="1.25" height="1.25" fill="#0a860a"/>
<rect x="183" y="170" width="1.25" height="1.25" fill="#0a860a"/>
<rect x="122" y="223" width="1.25" height="1.25" fill="#0a860a"/>
<rect x="167" y="184" width="1.25" height="1.25" fill="#0a860a"/>
<rect x="135" y="208" width="1.25" height="1.25" fill="#0a860a"/>
<rect x="137" y="217" width="1.25" height="1.25" fill="#0a860a"/>
<rect x="163" y="195" width="1.25" height="1.25" fill="#0a860a"/>
<rect x="147" y="195" width="1.25" height="1.25" fill="#0a860a"/>
<rect x="162" y="182" width="1.25" height="1.25" fill="#0a860a"/>
<rect x="153" y="201" width="1.25" height="1.25" fill="#0a860a"/>
<rect x="147" y="190" width="1.25" height="1.25" fill="#0a860a"/>
<rect x="144" y="205" width="1.25" height="1.25" fill="#0a860a"/>
<rect x="153" y="206" width="1.25" height="1.25" fill="#0a860a"/>
<rect x="167" y="182" width="1.25" height="1.25" fill="#0a860a"/>
<rect x="159" y="185" width="1.25" height="1.25" fill="#0a860a"/>
<rect x="141" y="197" width="1.25" height="1.25" fill="#0a860a"/>
<rect x="171" y="188" width="1.25" height="1.25" fill="#0a860a"/>
<rect x="131" y="205" width="1.25" height="1.25" fill="#0a860a"/>
<rect x="135" y="207" width="1.25" height="1.25" fill="#0a860a"/>
<rect x="141" y="201" width="1.25" height="1.25" fill="#0a860a"/>
<rect x="147" y="211" width="1.25" height="1.25" fill="#0a860a"/>
<rect x="154" y="203" width="1.25" height="1.25" fill="#0a860a"/>
<rect x="187" y="175" width="1.25" height="1.25" fill="#0a860a"/>
<rect x="180" y="177" width="1.25" height="1.25" fill="#0a860a"/>
<rect x="169" y="185" width="1.25" height="1.25" fill="#0a860a"/>
<rect x="173" y="174" width="1.25" height="1.25" fill="#0a860a"/>
<rect x="173" y="169" width="1.25" height="1.25" fill="#0a860a"/>
<rect x="165" y="179" width="1.25" height="1.25" fill="#0a860a"/>
<rect x="145" y="202" width="1.25" height="1.25" fill="#0a860a"/>
<rect x="160" y="196" width="1.25" height="1.25" fill="#0a860a"/>
<rect x="156" y="185" width="1.25" height="1.25" fill="#0a860a"/>
<rect x="180" y="171" width="1.25" height="1.25" fill="#0a860a"/>
<rect x="182" y="178" width="1.25" height="1.25" fill="#0a860a"/>
<rect x="187" y="169" width="1.25" height="1.25" fill="#0a860a"/>
<rect x="158" y="184" width="1.25" height="1.25" fill="#0a860a"/>
<rect x="148" y="198" width="1.25" height="1.25" fill="#0a860a"/>
<rect x="182" y="173" width="1.25" height="1.25" fill="#0a860a"/>
<rect x="154" y="209" width="1.25" height="1.25" fill="#0a860a"/>
<rect x="172" y="174" width="1.25" height="1.25" fill="#0a860a"/>
<rect x="147" y="207" width="1.25" height="1.25" fill="#0a860a"/>
<rect x="154" y="201" width="1.25" height="1.25" fill="#0a860a"/>
<rect x="158" y="197" width="1.25" height="1.25" fill="#0a860a"/>
<rect x="183" y="176" width="1.25" height="1.25" fill="#0a860a"/>
<rect x="172" y="192" width="1.25" height="1.25" fill="#0a860a"/>
<rect x="144" y="204" width="1.25" height="1.25" fill="#0a860a"/>
<rect x="178" y="174" width="1.25" height="1.25" fill="#0a860a"/>
<rect x="165" y="193" width="1.25" height="1.25" fill="#0a860a"/>
<rect x="192" y="158" width="1.25" height="1.25" fill="#0a860a"/>
<rect x="184" y="190" width="1.25" height="1.25" fill="#0a860a"/>
<rect x="188" y="173" width="1.25" height="1.25" fill="#0a860a"/>
<rect x="188" y="175" width="1.25" height="1.25" fill="#0a860a"/>
<rect x="152" y="187" width="1.25" height="1.25" fill="#0a860a"/>
<rect x="186" y="169" width="1.25" height="1.25" fill="#0a860a"/>
<rect x="182" y="171" width="1.25" height="1.25" fill="#0a860a"/>
<rect x="182" y="181" width="1.25" height="1.25" fill="#0a860a"/>
<rect x="160" y="183" width="1.25" height="1.25" fill="#0a860a"/>
<rect x="163" y="202" width="1.25" height="1.25" fill="#0a860a"/>
<rect x="178" y="176" width="1.25" height="1.25" fill="#0a860a"/>
<rect x="187" y="161" width="1.25" height="1.25" fill="#0a860a"/>
<rect x="153" y="183" width="1.25" height="1.25" fill="#0a860a"/>
<rect x="167" y="171" width="1.25" height="1.25" fill="#0a860a"/>
<rect x="172" y="183" width="1.25" height="1.25" fill="#0a860a"/>
<rect x="165" y="174" width="1.25" height="1.25" fill="#0a860a"/>
<rect x="173" y="173" width="1.25" height="1.25" fill="#0a860a"/>
<rect x="189" y="160" width="1.25" height="1.25" fill="#0a860a"/>
<rect x="164" y="189" width="1.25" height="1.25" fill="#0a860a"/>
<rect x="169" y="197" width="1.25" height="1.25" fill="#0a860a"/>
<rect x="196" y="169" width="1.25" height="1.25" fill="#0a860a"/>
<rect x="200" y="169" width="1.25" height="1.25" fill="#0a860a"/>
<rect x="184" y="176" width="1.25" height="1.25" fill="#0a860a"/>
<rect x="143" y="194" width="1.25" height="1.25" fill="#0a860a"/>
<rect x="159" y="208" width="1.25" height="1.25" fill="#0a860a"/>
<rect x="176" y="181" width="1.25" height="1.25" fill="#0a860a"/>
<rect x="157" y="186" width="1.25" height="1.25" fill="#0a860a"/>
<rect x="180" y="180" width="1.25" height="1.25" fill="#0a860a"/>
<rect x="163" y="199" width="1.25" height="1.25" fill="#0a860a"/>
<rect x="207" y="156" width="1.25" height="1.25" fill="#0a860a"/>
<rect x="160" y="181" width="1.25" height="1.25" fill="#0a860a"/>
<rect x="148" y="182" width="1.25" height="1.25" fill="#0a860a"/>
<rect x="163" y="179" width="1.25" height="1.25" fill="#0a860a"/>
<rect x="193" y="159" width="1.25" height="1.25" fill="#0a860a"/>
<rect x="179" y="176" width="1.25" height="1.25" fill="#0a860a"/>
<rect x="157" y="177" width="1.25" height="1.25" fill="#0a860a"/>
<rect x="143" y="185" width="1.25" height="1.25" fill="#0a860a"/>
<rect x="162" y="184" width="1.25" height="1.25" fill="#0a860a"/>
<rect x="177" y="189" width="1.25" height="1.25" fill="#0a860a"/>
<rect x="175" y="181" width="1.25" height="1.25" fill="#0a860a"/>
<rect x="158" y="182" width="1.25" height="1.25" fill="#0a860a"/>
<rect x="144" y="190" width="1.25" height="1.25" fill="#0a860a"/>
<rect x="151" y="181" width="1.25" height="1.25" fill="#0a860a"/>
<rect x="136" y="202" width="1.25" height="1.25" fill="#0a860a"/>
<rect x="176" y="170" width="1.25" height="1.25" fill="#0a860a"/>
<rect x="169" y="184" width="1.25" height="1.25" fill="#0a860a"/>
<rect x="182" y="170" width="1.25" height="1.25" fill="#0a860a"/>
<rect x="167" y="194" width="1.25" height="1.25" fill="#0a860a"/>
<rect x="174" y="191" width="1.25" height="1.25" fill="#0a860a"/>
<rect x="186" y="180" width="1.25" height="1.25" fill="#0a860a"/>
<rect x="181" y="165" width="1.25" height="1.25" fill="#0a860a"/>
<rect x="175" y="175" width="1.25" height="1.25" fill="#0a860a"/>
<rect x="174" y="172" width="1.25" height="1.25" fill="#0a860a"/>
<rect x="176" y="183" width="1.25" height="1.25" fill="#0a860a"/>
<rect x="185" y="160" width="1.25" height="1.25" fill="#0a860a"/>
<rect x="160" y="177" width="1.25" height="1.25" fill="#0a860a"/>
<rect x="180" y="186" width="1.25" height="1.25" fill="#0a860a"/>
<rect x="173" y="189" width="1.25" height="1.25" fill="#0a860a"/>
<rect x="193" y="164" width="1.25" height="1.25" fill="#0a860a"/>
<rect x="181" y="179" width="1.25" height="1.25" fill="#0a860a"/>
<rect x="151" y="189" width="1.25" height="1.25" fill="#0a860a"/>
<rect x="164" y="168" width="1.25" height="1.25" fill="#0a860a"/>
<rect x="132" y="201" width="1.25" height="1.25" fill="#0a860a"/>
<rect x="200" y="171" width="1.25" height="1.25" fill="#0a860a"/>
<rect x="172" y="164" width="1.25" height="1.25" fill="#0a860a"/>
<rect x="165" y="173" width="1.25" height="1.25" fill="#0a860a"/>
<rect x="172" y="201" width="1.25" height="1.25" fill="#0a860a"/>
<rect x="157" y="181" width="1.25" height="1.25" fill="#0a860a"/>
<rect x="167" y="192" width="1.25" height="1.25" fill="#0a860a"/>
<rect x="161" y="179" width="1.25" height="1.25" fill="#0a860a"/>
<rect x="149" y="192" width="1.25" height="1.25" fill="#0a860a"/>
<rect x="193" y="176" width="1.25" height="1.25" fill="#0a860a"/>
<rect x="187" y="174" width="1.25" height="1.25" fill="#0a860a"/>
<rect x="181" y="177" width="1.25" height="1.25" fill="#0a860a"/>
<rect x="168" y="169" width="1.25" height="1.25" fill="#0a860a"/>
<rect x="163" y="172" width="1.25" height="1.25" fill="#0a860a"/>
<rect x="172" y="169" width="1.25" height="1.25" fill="#0a860a"/>
<rect x="157" y="179" width="1.25" height="1.25" fill="#0a860a"/>
<rect x="168" y="181" width="1.25" height="1.25" fill="#0a860a"/>
<rect x="159" y="180" width="1.25" height="1.25" fill="#0a860a"/>
<rect x="157" y="183" width="1.25" height="1.25" fill="#0a860a"/>
<rect x="181" y="170" width="1.25" height="1.25" fill="#0a860a"/>
<rect x="180" y="181" width="1.25" height="1.25" fill="#0a860a"/>
<rect x="171" y="192" width="1.25" height="1.25" fill="#0a860a"/>
<rect x="173" y="184" width="1.25" height="1.25" fill="#0a860a"/>
<rect x="152" y="181" width="1.25" height="1.25" fill="#0a860a"/>
<rect x="174" y="194" width="1.25" height="1.25" fill="#0a860a"/>
<rect x="162" y="201" width="1.25" height="1.25" fill="#0a860a"/>
<rect x="163" y="197" width="1.25" height="1.25" fill="#0a860a"/>
<rect x="193" y="152" width="1.25" height="1.25" fill="#0a860a"/>
<rect x="188" y="180" width="1.25" height="1.25" fill="#0a860a"/>
<rect x="180" y="162" width="1.25" height="1.25" fill="#0a860a"/>
<rect x="170" y="190" width="1.25" height="1.25" fill="#0a860a"/>
<rect x="172" y="177" width="1.25" height="1.25" fill="#0a860a"/>
<rect x="147" y="187" width="1.25" height="1.25" fill="#0a860a"/>
<rect x="170" y="185" width="1.25" height="1.25" fill="#0a860a"/>
<rect x="178" y="169" width="1.25" height="1.25" fill="#0a860a"/>
<rect x="147" y="194" width="1.25" height="1.25" fill="#0a860a"/>
<rect x="181" y="188" width="1.25" height="1.25" fill="#0a860a"/>
<rect x="175" y="166" width="1.25" height="1.25" fill="#0a860a"/>
<rect x="161" y="184" width="1.25" height="1.25" fill="#0a860a"/>
<rect x="177" y="164" width="1.25" height="1.25" fill="#0a860a"/>
<rect x="185" y="180" width="1.25" height="1.25" fill="#0a860a"/>
<rect x="177" y="184" width="1.25" height="1.25" fill="#0a860a"/>
<rect x="161" y="178" width="1.25" height="1.25" fill="#0a860a"/>
<rect x="176" y="193" width="1.25" height="1.25" fill="#0a860a"/>
<rect x="184" y="171" width="1.25" height="1.25" fill="#0a860a"/>
<rect x="178" y="189" width="1.25" height="1.25" fill="#0a860a"/>
<rect x="185" y="188" width="1.25" height="1.25" fill="#0a860a"/>
<rect x="164" y="177" width="1.25" height="1.25" fill="#0a860a"/>
<rect x="164" y="181" width="1.25" height="1.25" fill="#0a860a"/>
<rect x="168" y="183" width="1.25" height="1.25" fill="#0a860a"/>
<rect x="191" y="181" width="1.25" height="1.25" fill="#0a860a"/>
<rect x="156" y="184" width="1.25" height="1.25" fill="#0a860a"/>
<rect x="167" y="195" width="1.25" height="1.25" fill="#0a860a"/>
<rect x="189" y="173" width="1.25" height="1.25" fill="#0a860a"/>
<rect x="155" y="204" width="1.25" height="1.25" fill="#0a860a"/>
<rect x="162" y="196" width="1.25" height="1.25" fill="#0a860a"/>
<rect x="180" y="178" width="1.25" height="1.25" fill="#0a860a"/>
<rect x="168" y="197" width="1.25" height="1.25" fill="#0a860a"/>
<rect x="169" y="164" width="1.25" height="1.25" fill="#0a860a"/>
<rect x="196" y="156" width="1.25" height="1.25" fill="#0a860a"/>
<rect x="183" y="181" width="1.25" height="1.25" fill="#0a860a"/>
<rect x="170" y="170" width="1.25" height="1.25" fill="#0a860a"/>
<rect x="188" y="184" width="1.25" height="1.25" fill="#0a860a"/>
<rect x="174" y="179" width="1.25" height="1.25" fill="#0a860a"/>
<rect x="149" y="189" width="1.25" height="1.25" fill="#0a860a"/>
<rect x="186" y="160" width="1.25" height="1.25" fill="#0a860a"/>
<rect x="168" y="173" width="1.25" height="1.25" fill="#0a860a"/>
<rect x="166" y="170" width="1.25" height="1.25" fill="#0a860a"/>
<rect x="162" y="179" width="1.25" height="1.25" fill="#0a860a"/>
<rect x="172" y="170" width="1.25" height="1.25" fill="#0a860a"/>
<rect x="170" y="192" width="1.25" height="1.25" fill="#0a860a"/>
<rect x="182" y="166" width="1.25" height="1.25" fill="#0a860a"/>
<rect x="195" y="165" width="1.25" height="1.25" fill="#0a860a"/>
<rect x="157" y="182" width="1.25" height="1.25" fill="#0a860a"/>
<rect x="176" y="164" width="1.25" height="1.25" fill="#0a860a"/>
<rect x="179" y="169" width="1.25" height="1.25" fill="#0a860a"/>
<rect x="166" y="171" width="1.25" height="1.25" fill="#0a860a"/>
<rect x="182" y="156" width="1.25" height="1.25" fill="#0a860a"/>
<rect x="156" y="183" width="1.25" height="1.25" fill="#0a860a"/>
<rect x="166" y="183" width="1.25" height="1.25" fill="#0a860a"/>
<rect x="170" y="196" width="1.25" height="1.25" fill="#0a860a"/>
<rect x="181" y="181" width="1.25" height="1.25" fill="#0a860a"/>
<rect x="145" y="186" width="1.25" height="1.25" fill="#0a860a"/>
<rect x="172" y="178" width="1.25" height="1.25" fill="#0a860a"/>
<rect x="198" y="156" width="1.25" height="1.25" fill="#0a860a"/>
<rect x="167" y="173" width="1.25" height="1.25" fill="#0a860a"/>
<rect x="162" y="170" width="1.25" height="1.25" fill="#0a860a"/>
<rect x="143" y="186" width="1.25" height="1.25" fill="#0a860a"/>
<rect x="181" y="176" width="1.25" height="1.25" fill="#0a860a"/>
<rect x="149" y="202" width="1.25" height="1.25" fill="#0a860a"/>
<rect x="192" y="178" width="1.25" height="1.25" fill="#0a860a"/>
<rect x="175" y="170" width="1.25" height="1.25" fill="#0a860a"/>
<rect x="157" y="210" width="1.25" height="1.25" fill="#0a860a"/>
<rect x="189" y="183" width="1.25" height="1.25" fill="#0a860a"/>
<rect x="190" y="162" width="1.25" height="1.25" fill="#0a860a"/>
<rect x="137" y="214" width="1.25" height="1.25" fill="#0a860a"/>
<rect x="148" y="220" width="1.25" height="1.25" fill="#0a860a"/>
<rect x="165" y="182" width="1.25" height="1.25" fill="#0a860a"/>
<rect x="166" y="176" width="1.25" height="1.25" fill="#0a860a"/>
<rect x="184" y="161" width="1.25" height="1.25" fill="#0a860a"/>
<rect x="152" y="195" width="1.25" height="1.25" fill="#0a860a"/>
<rect x="157" y="171" width="1.25" height="1.25" fill="#0a860a"/>
<rect x="165" y="195" width="1.25" height="1.25" fill="#0a860a"/>
<rect x="141" y="196" width="1.25" height="1.25" fill="#0a860a"/>
<rect x="155" y="174" width="1.25" height="1.25" fill="#0a860a"/>
<rect x="173" y="195" width="1.25" height="1.25" fill="#0a860a"/>
<rect x="121" y="218" width="1.25" height="1.25" fill="#0a860a"/>
<rect x="164" y="196" width="1.25" height="1.25" fill="#0a860a"/>
<rect x="160" y="179" width="1.25" height="1.25" fill="#0a860a"/>
<rect x="160" y="182" width="1.25" height="1.25" fill="#0a860a"/>
<rect x="136" y="197" width="1.25" height="1.25" fill="#0a860a"/>
<rect x="185" y="184" width="1.25" height="1.25" fill="#0a860a"/>
<rect x="185" y="187" width="1.25" height="1.25" fill="#0a860a"/>
<rect x="129" y="208" width="1.25" height="1.25" fill="#0a860a"/>
<rect x="188" y="171" width="1.25" height="1.25" fill="#0a860a"/>
<rect x="131" y="206" width="1.25" height="1.25" fill="#0a860a"/>
<rect x="178" y="160" width="1.25" height="1.25" fill="#0a860a"/>
<rect x="196" y="176" width="1.25" height="1.25" fill="#0a860a"/>
<rect x="137" y="195" width="1.25" height="1.25" fill="#0a860a"/>
<rect x="134" y="220" width="1.25" height="1.25" fill="#0a860a"/>
<rect x="171" y="198" width="1.25" height="1.25" fill="#0a860a"/>
<rect x="185" y="183" width="1.25" height="1.25" fill="#0a860a"/>
<rect x="126" y="207" width="1.25" height="1.25" fill="#0a860a"/>
<rect x="117" y="228" width="1.25" height="1.25" fill="#0a860a"/>
<rect x="139" y="216" width="1.25" height="1.25" fill="#0a860a"/>
<rect x="174" y="195" width="1.25" height="1.25" fill="#0a860a"/>
<rect x="135" y="203" width="1.25" height="1.25" fill="#0a860a"/>
<rect x="131" y="212" width="1.25" height="1.25" fill="#0a860a"/>
<rect x="121" y="202" width="1.25" height="1.25" fill="#0a860a"/>
<rect x="164" y="170" width="1.25" height="1.25" fill="#0a860a"/>
<rect x="104" y="248" width="1.25" height="1.25" fill="#0a860a"/>
<rect x="129" y="225" width="1.25" height="1.25" fill="#0a860a"/>
<rect x="174" y="163" width="1.25" height="1.25" fill="#0a860a"/>
<rect x="134" y="229" width="1.25" height="1.25" fill="#0a860a"/>
<rect x="106" y="222" width="1.25" height="1.25" fill="#0a860a"/>
<rect x="185" y="166" width="1.25" height="1.25" fill="#0a860a"/>
<rect x="122" y="244" width="1.25" height="1.25" fill="#0a860a"/>
<rect x="206" y="162" width="1.25" height="1.25" fill="#0a860a"/>
<rect x="170" y="173" width="1.25" height="1.25" fill="#0a860a"/>
<rect x="167" y="206" width="1.25" height="1.25" fill="#0a860a"/>
<rect x="127" y="227" width="1.25" height="1.25" fill="#0a860a"/>
<rect x="180" y="185" width="1.25" height="1.25" fill="#0a860a"/>
<rect x="147" y="189" width="1.25" height="1.25" fill="#0a860a"/>
<rect x="157" y="216" width="1.25" height="1.25" fill="#0a860a"/>
<rect x="173" y="194" width="1.25" height="1.25" fill="#0a860a"/>
<rect x="161" y="166" width="1.25" height="1.25" fill="#0a860a"/>
<rect x="116" y="237" width="1.25" height="1.25" fill="#0a860a"/>
<rect x="143" y="199" width="1.25" height="1.25" fill="#0a860a"/>
<rect x="175" y="148" width="1.25" height="1.25" fill="#0a860a"/>
<rect x="177" y="168" width="1.25" height="1.25" fill="#0a860a"/>
<rect x="174" y="198" width="1.25" height="1.25" fill="#0a860a"/>
<rect x="127" y="192" width="1.25" height="1.25" fill="#0a860a"/>
<rect x="124" y="191" width="1.25" height="1.25" fill="#0a860a"/>
<rect x="134" y="203" width="1.25" height="1.25" fill="#0a860a"/>
<rect x="215" y="85" width="1.25" height="1.25" fill="#0a860a"/>
<rect x="218" y="84" width="1.25" height="1.25" fill="#0a860a"/>
<rect x="222" y="90" width="1.25" height="1.25" fill="#0a860a"/>
<rect x="235" y="84" width="1.25" height="1.25" fill="#0a860a"/>
<rect x="249" y="82" width="1.25" height="1.25" fill="#0a860a"/>
<rect x="259" y="78" width="1.25" height="1.25" fill="#0a860a"/>
<rect x="259" y="82" width="1.25" height="1.25" fill="#0a860a"/>
<rect x="264" y="81" width="1.25" height="1.25" fill="#0a860a"/>
<rect x="271" y="82" width="1.25" height="1.25" fill="#0a860a"/>
<rect x="251" y="92" width="1.25" height="1.25" fill="#0a860a"/>
<rect x="269" y="92" width="1.25" height="1.25" fill="#0a860a"/>
<rect x="240" y="101" width="1.25" height="1.25" fill="#0a860a"/>
<rect x="210" y="111" width="1.25" height="1.25" fill="#0a860a"/>
<rect x="186" y="110" width="1.25" height="1.25" fill="#0a860a"/>
<rect x="190" y="108" width="1.25" height="1.25" fill="#0a860a"/>
<rect x="195" y="119" width="1.25" height="1.25" fill="#0a860a"/>
<rect x="182" y="136" width="1.25" height="1.25" fill="#0a860a"/>
<rect x="236" y="133" width="1.25" height="1.25" fill="#0a860a"/>
<rect x="246" y="131" width="1.25" height="1.25" fill="#0a860a"/>
<rect x="245" y="131" width="1.25" height="1.25" fill="#0a860a"/>
<rect x="247" y="131" width="1.25" height="1.25" fill="#0a860a"/>
<rect x="246" y="130" width="1.25" height="1.25" fill="#0a860a"/>
<rect x="246" y="132" width="1.25" height="1.25" fill="#0a860a"/>
<rect x="244" y="131" width="1.25" height="1.25" fill="#0a860a"/>
<rect x="248" y="131" width="1.25" height="1.25" fill="#0a860a"/>
<rect x="246" y="129" width="1.25" height="1.25" fill="#0a860a"/>
<rect x="246" y="133" width="1.25" height="1.25" fill="#0a860a"/>
<rect x="245" y="130" width="1.25" height="1.25" fill="#0a860a"/>
<rect x="247" y="130" width="1.25" height="1.25" fill="#0a860a"/>
<rect x="245" y="132" width="1.25" height="1.25" fill="#0a860a"/>
<rect x="247" y="132" width="1.25" height="1.25" fill="#0a860a"/>
<rect x="232" y="138" width="1.25" height="1.25" fill="#0a860a"/>
<rect x="225" y="142" width="1.25" height="1.25" fill="#0a860a"/>
<rect x="212" y="144" width="1.25" height="1.25" fill="#0a860a"/>
<rect x="245" y="147" width="1.25" height="1.25" fill="#0a860a"/>
<rect x="216" y="150" width="1.25" height="1.25" fill="#0a860a"/>
<rect x="205" y="150" width="1.25" height="1.25" fill="#0a860a"/>
<rect x="210" y="154" width="1.25" height="1.25" fill="#0a860a"/>
<rect x="212" y="156" width="1.25" height="1.25" fill="#0a860a"/>
<rect x="218" y="162" width="1.25" height="1.25" fill="#0a860a"/>
<rect x="216" y="167" width="1.25" height="1.25" fill="#0a860a"/>
<rect x="207" y="167" width="1.25" height="1.25" fill="#0a860a"/>
<rect x="203" y="159" width="1.25" height="1.25" fill="#0a860a"/>
<rect x="206" y="160" width="1.25" height="1.25" fill="#0a860a"/>
<rect x="200" y="160" width="1.25" height="1.25" fill="#0a860a"/>
<rect x="203" y="172" width="1.25" height="1.25" fill="#0a860a"/>
<rect x="206" y="178" width="1.25" height="1.25" fill="#0a860a"/>
<rect x="198" y="154" width="1.25" height="1.25" fill="#0a860a"/>
<rect x="102" y="168" width="1.25" height="1.25" fill="#0a860a"/>
<rect x="103" y="220" width="1.25" height="1.25" fill="#0a860a"/>
<rect x="109" y="218" width="1.25" height="1.25" fill="#0a860a"/>
<rect x="116" y="216" width="1.25" height="1.25" fill="#0a860a"/>
<rect x="111" y="228" width="1.25" height="1.25" fill="#0a860a"/>
<rect x="122" y="237" width="1.25" height="1.25" fill="#0a860a"/>
<rect x="163" y="230" width="1.25" height="1.25" fill="#0a860a"/>
<rect x="126" y="222" width="1.25" height="1.25" fill="#0a860a"/>
<rect x="164" y="160" width="1.25" height="1.25" fill="#0a860a"/>
<rect x="74" y="245" width="1.25" height="1.25" fill="#0a860a"/>
<text x="65.4" y="51.3" font-family='"Liberation Sans", sans-serif' font-size="16.4" fill="#1c1c1c" stroke="#1c1c1c" stroke-width="0.3" style="font-kerning:none">Q2- </text><path d="M515 0V1237L197 1010V1180L530 1409H696V0Z" transform="translate(92.74,51.3) scale(0.00801,-0.00801)" fill="#1c1c1c" stroke="#1c1c1c" stroke-width="37.5"/>
<text x="65.4" y="69.6" font-family='"Liberation Sans", sans-serif' font-size="16.4" fill="#1c1c1c" stroke="#1c1c1c" stroke-width="0.3" style="font-kerning:none">0.55%</text>
<text x="265.4" y="51.3" font-family='"Liberation Sans", sans-serif' font-size="16.4" fill="#1c1c1c" stroke="#1c1c1c" stroke-width="0.3" style="font-kerning:none">Q2-2</text>
<text x="265.4" y="69.6" font-family='"Liberation Sans", sans-serif' font-size="16.4" fill="#1c1c1c" stroke="#1c1c1c" stroke-width="0.3" style="font-kerning:none">2.74%</text>
<text x="65.4" y="265.8" font-family='"Liberation Sans", sans-serif' font-size="16.4" fill="#1c1c1c" stroke="#1c1c1c" stroke-width="0.3" style="font-kerning:none">Q2-3</text>
<text x="65.4" y="284.1" font-family='"Liberation Sans", sans-serif' font-size="16.4" fill="#1c1c1c" stroke="#1c1c1c" stroke-width="0.3" style="font-kerning:none">95.62%</text>
<text x="265.4" y="265.8" font-family='"Liberation Sans", sans-serif' font-size="16.4" fill="#1c1c1c" stroke="#1c1c1c" stroke-width="0.3" style="font-kerning:none">Q2-4</text>
<text x="265.4" y="284.1" font-family='"Liberation Sans", sans-serif' font-size="16.4" fill="#1c1c1c" stroke="#1c1c1c" stroke-width="0.3" style="font-kerning:none"> .09%</text><path d="M515 0V1237L197 1010V1180L530 1409H696V0Z" transform="translate(265.4,284.1) scale(0.00801,-0.00801)" fill="#1c1c1c" stroke="#1c1c1c" stroke-width="37.5"/>
<text x="49.8" y="319.8" font-family='"Liberation Sans", sans-serif' font-size="15" fill="#1c1c1c" stroke="#1c1c1c" stroke-width="0.3" style="font-kerning:none"> 0</text><path d="M515 0V1237L197 1010V1180L530 1409H696V0Z" transform="translate(49.8,319.8) scale(0.00732,-0.00732)" fill="#1c1c1c" stroke="#1c1c1c" stroke-width="41.0"/>
<text x="68" y="312.5" font-family='"Liberation Sans", sans-serif' font-size="13.3" fill="#1c1c1c" stroke="#1c1c1c" stroke-width="0.3" style="font-kerning:none">3</text>
<text x="110" y="319.8" font-family='"Liberation Sans", sans-serif' font-size="15" fill="#1c1c1c" stroke="#1c1c1c" stroke-width="0.3" style="font-kerning:none"> 0</text><path d="M515 0V1237L197 1010V1180L530 1409H696V0Z" transform="translate(110,319.8) scale(0.00732,-0.00732)" fill="#1c1c1c" stroke="#1c1c1c" stroke-width="41.0"/>
<text x="127.5" y="312.5" font-family='"Liberation Sans", sans-serif' font-size="13.3" fill="#1c1c1c" stroke="#1c1c1c" stroke-width="0.3" style="font-kerning:none">4</text>
<text x="170.4" y="319.8" font-family='"Liberation Sans", sans-serif' font-size="15" fill="#1c1c1c" stroke="#1c1c1c" stroke-width="0.3" style="font-kerning:none"> 0</text><path d="M515 0V1237L197 1010V1180L530 1409H696V0Z" transform="translate(170.4,319.8) scale(0.00732,-0.00732)" fill="#1c1c1c" stroke="#1c1c1c" stroke-width="41.0"/>
<text x="189.4" y="312.5" font-family='"Liberation Sans", sans-serif' font-size="13.3" fill="#1c1c1c" stroke="#1c1c1c" stroke-width="0.3" style="font-kerning:none">5</text>
<text x="231.9" y="319.8" font-family='"Liberation Sans", sans-serif' font-size="15" fill="#1c1c1c" stroke="#1c1c1c" stroke-width="0.3" style="font-kerning:none"> 0</text><path d="M515 0V1237L197 1010V1180L530 1409H696V0Z" transform="translate(231.9,319.8) scale(0.00732,-0.00732)" fill="#1c1c1c" stroke="#1c1c1c" stroke-width="41.0"/>
<text x="250.2" y="312.5" font-family='"Liberation Sans", sans-serif' font-size="13.3" fill="#1c1c1c" stroke="#1c1c1c" stroke-width="0.3" style="font-kerning:none">6</text>
<text x="299.7" y="319.8" font-family='"Liberation Sans", sans-serif' font-size="15" fill="#1c1c1c" stroke="#1c1c1c" stroke-width="0.3" style="font-kerning:none"> 0</text><path d="M515 0V1237L197 1010V1180L530 1409H696V0Z" transform="translate(299.7,319.8) scale(0.00732,-0.00732)" fill="#1c1c1c" stroke="#1c1c1c" stroke-width="41.0"/>
<text x="318.6" y="312.5" font-family='"Liberation Sans", sans-serif' font-size="13.3" fill="#1c1c1c" stroke="#1c1c1c" stroke-width="0.3" style="font-kerning:none">7.2</text>
<g transform="translate(44.9,300.6) rotate(-90)"><text x="-1" y="0" font-family='"Liberation Sans", sans-serif' font-size="15" fill="#1c1c1c" stroke="#1c1c1c" stroke-width="0.3" style="font-kerning:none"> 0</text><path d="M515 0V1237L197 1010V1180L530 1409H696V0Z" transform="translate(-1,0) scale(0.00732,-0.00732)" fill="#1c1c1c" stroke="#1c1c1c" stroke-width="41.0"/><text x="17.5" y="-7.3" font-family='"Liberation Sans", sans-serif' font-size="13.3" fill="#1c1c1c" stroke="#1c1c1c" stroke-width="0.3" style="font-kerning:none">2</text></g>
<g transform="translate(44.9,252.8) rotate(-90)"><text x="-1" y="0" font-family='"Liberation Sans", sans-serif' font-size="15" fill="#1c1c1c" stroke="#1c1c1c" stroke-width="0.3" style="font-kerning:none"> 0</text><path d="M515 0V1237L197 1010V1180L530 1409H696V0Z" transform="translate(-1,0) scale(0.00732,-0.00732)" fill="#1c1c1c" stroke="#1c1c1c" stroke-width="41.0"/><text x="17.5" y="-7.3" font-family='"Liberation Sans", sans-serif' font-size="13.3" fill="#1c1c1c" stroke="#1c1c1c" stroke-width="0.3" style="font-kerning:none">3</text></g>
<g transform="translate(44.9,203.7) rotate(-90)"><text x="-1" y="0" font-family='"Liberation Sans", sans-serif' font-size="15" fill="#1c1c1c" stroke="#1c1c1c" stroke-width="0.3" style="font-kerning:none"> 0</text><path d="M515 0V1237L197 1010V1180L530 1409H696V0Z" transform="translate(-1,0) scale(0.00732,-0.00732)" fill="#1c1c1c" stroke="#1c1c1c" stroke-width="41.0"/><text x="17.5" y="-7.3" font-family='"Liberation Sans", sans-serif' font-size="13.3" fill="#1c1c1c" stroke="#1c1c1c" stroke-width="0.3" style="font-kerning:none">4</text></g>
<g transform="translate(44.9,154.3) rotate(-90)"><text x="-1" y="0" font-family='"Liberation Sans", sans-serif' font-size="15" fill="#1c1c1c" stroke="#1c1c1c" stroke-width="0.3" style="font-kerning:none"> 0</text><path d="M515 0V1237L197 1010V1180L530 1409H696V0Z" transform="translate(-1,0) scale(0.00732,-0.00732)" fill="#1c1c1c" stroke="#1c1c1c" stroke-width="41.0"/><text x="17.5" y="-7.3" font-family='"Liberation Sans", sans-serif' font-size="13.3" fill="#1c1c1c" stroke="#1c1c1c" stroke-width="0.3" style="font-kerning:none">5</text></g>
<g transform="translate(44.9,105) rotate(-90)"><text x="-1" y="0" font-family='"Liberation Sans", sans-serif' font-size="15" fill="#1c1c1c" stroke="#1c1c1c" stroke-width="0.3" style="font-kerning:none"> 0</text><path d="M515 0V1237L197 1010V1180L530 1409H696V0Z" transform="translate(-1,0) scale(0.00732,-0.00732)" fill="#1c1c1c" stroke="#1c1c1c" stroke-width="41.0"/><text x="17.5" y="-7.3" font-family='"Liberation Sans", sans-serif' font-size="13.3" fill="#1c1c1c" stroke="#1c1c1c" stroke-width="0.3" style="font-kerning:none">6</text></g>
<g transform="translate(44.9,58.6) rotate(-90)"><text x="-1" y="0" font-family='"Liberation Sans", sans-serif' font-size="15" fill="#1c1c1c" stroke="#1c1c1c" stroke-width="0.3" style="font-kerning:none"> 0</text><path d="M515 0V1237L197 1010V1180L530 1409H696V0Z" transform="translate(-1,0) scale(0.00732,-0.00732)" fill="#1c1c1c" stroke="#1c1c1c" stroke-width="41.0"/><text x="17.5" y="-7.3" font-family='"Liberation Sans", sans-serif' font-size="13.3" fill="#1c1c1c" stroke="#1c1c1c" stroke-width="0.3" style="font-kerning:none">7.2</text></g>
<text x="164" y="343.4" font-family='"Liberation Sans", sans-serif' font-size="15.5" text-anchor="start" fill="#1c1c1c" font-weight="normal" stroke="#1c1c1c" stroke-width="0.3" >FITC-A</text>
<g transform="translate(18.8,163.7) rotate(-90)"><text x="0" y="0" font-family='"Liberation Sans", sans-serif' font-size="15.5" fill="#1c1c1c" stroke="#1c1c1c" stroke-width="0.3" text-anchor="middle">PE-Texas Red-A</text></g>
<line x1="394" y1="30.6" x2="660.6" y2="30.6" stroke="#141414" stroke-width="1.6"/>
<line x1="399.4" y1="30.6" x2="399.4" y2="296.2" stroke="#141414" stroke-width="1.6"/>
<line x1="394" y1="291.2" x2="660.6" y2="291.2" stroke="#141414" stroke-width="1.6"/>
<line x1="660.6" y1="30.6" x2="660.6" y2="296.2" stroke="#141414" stroke-width="1.6"/>
<line x1="396.8" y1="276.06" x2="399.4" y2="276.06" stroke="#505050" stroke-width="1.0"/>
<line x1="396.8" y1="267.2" x2="399.4" y2="267.2" stroke="#505050" stroke-width="1.0"/>
<line x1="396.8" y1="260.92" x2="399.4" y2="260.92" stroke="#505050" stroke-width="1.0"/>
<line x1="396.8" y1="256.04" x2="399.4" y2="256.04" stroke="#505050" stroke-width="1.0"/>
<line x1="396.8" y1="252.06" x2="399.4" y2="252.06" stroke="#505050" stroke-width="1.0"/>
<line x1="396.8" y1="248.69" x2="399.4" y2="248.69" stroke="#505050" stroke-width="1.0"/>
<line x1="396.8" y1="245.77" x2="399.4" y2="245.77" stroke="#505050" stroke-width="1.0"/>
<line x1="396.8" y1="243.2" x2="399.4" y2="243.2" stroke="#505050" stroke-width="1.0"/>
<line x1="394" y1="240.9" x2="399.4" y2="240.9" stroke="#141414" stroke-width="1.4"/>
<line x1="396.8" y1="225.85" x2="399.4" y2="225.85" stroke="#505050" stroke-width="1.0"/>
<line x1="396.8" y1="217.04" x2="399.4" y2="217.04" stroke="#505050" stroke-width="1.0"/>
<line x1="396.8" y1="210.8" x2="399.4" y2="210.8" stroke="#505050" stroke-width="1.0"/>
<line x1="396.8" y1="205.95" x2="399.4" y2="205.95" stroke="#505050" stroke-width="1.0"/>
<line x1="396.8" y1="201.99" x2="399.4" y2="201.99" stroke="#505050" stroke-width="1.0"/>
<line x1="396.8" y1="198.65" x2="399.4" y2="198.65" stroke="#505050" stroke-width="1.0"/>
<line x1="396.8" y1="195.75" x2="399.4" y2="195.75" stroke="#505050" stroke-width="1.0"/>
<line x1="396.8" y1="193.19" x2="399.4" y2="193.19" stroke="#505050" stroke-width="1.0"/>
<line x1="394" y1="190.9" x2="399.4" y2="190.9" stroke="#141414" stroke-width="1.4"/>
<line x1="396.8" y1="176.24" x2="399.4" y2="176.24" stroke="#505050" stroke-width="1.0"/>
<line x1="396.8" y1="167.66" x2="399.4" y2="167.66" stroke="#505050" stroke-width="1.0"/>
<line x1="396.8" y1="161.58" x2="399.4" y2="161.58" stroke="#505050" stroke-width="1.0"/>
<line x1="396.8" y1="156.86" x2="399.4" y2="156.86" stroke="#505050" stroke-width="1.0"/>
<line x1="396.8" y1="153" x2="399.4" y2="153" stroke="#505050" stroke-width="1.0"/>
<line x1="396.8" y1="149.74" x2="399.4" y2="149.74" stroke="#505050" stroke-width="1.0"/>
<line x1="396.8" y1="146.92" x2="399.4" y2="146.92" stroke="#505050" stroke-width="1.0"/>
<line x1="396.8" y1="144.43" x2="399.4" y2="144.43" stroke="#505050" stroke-width="1.0"/>
<line x1="394" y1="142.2" x2="399.4" y2="142.2" stroke="#141414" stroke-width="1.4"/>
<line x1="396.8" y1="127.21" x2="399.4" y2="127.21" stroke="#505050" stroke-width="1.0"/>
<line x1="396.8" y1="118.44" x2="399.4" y2="118.44" stroke="#505050" stroke-width="1.0"/>
<line x1="396.8" y1="112.22" x2="399.4" y2="112.22" stroke="#505050" stroke-width="1.0"/>
<line x1="396.8" y1="107.39" x2="399.4" y2="107.39" stroke="#505050" stroke-width="1.0"/>
<line x1="396.8" y1="103.45" x2="399.4" y2="103.45" stroke="#505050" stroke-width="1.0"/>
<line x1="396.8" y1="100.11" x2="399.4" y2="100.11" stroke="#505050" stroke-width="1.0"/>
<line x1="396.8" y1="97.23" x2="399.4" y2="97.23" stroke="#505050" stroke-width="1.0"/>
<line x1="396.8" y1="94.68" x2="399.4" y2="94.68" stroke="#505050" stroke-width="1.0"/>
<line x1="394" y1="92.4" x2="399.4" y2="92.4" stroke="#141414" stroke-width="1.4"/>
<line x1="396.8" y1="77.71" x2="399.4" y2="77.71" stroke="#505050" stroke-width="1.0"/>
<line x1="396.8" y1="69.12" x2="399.4" y2="69.12" stroke="#505050" stroke-width="1.0"/>
<line x1="396.8" y1="63.02" x2="399.4" y2="63.02" stroke="#505050" stroke-width="1.0"/>
<line x1="396.8" y1="58.29" x2="399.4" y2="58.29" stroke="#505050" stroke-width="1.0"/>
<line x1="396.8" y1="54.43" x2="399.4" y2="54.43" stroke="#505050" stroke-width="1.0"/>
<line x1="396.8" y1="51.16" x2="399.4" y2="51.16" stroke="#505050" stroke-width="1.0"/>
<line x1="396.8" y1="48.33" x2="399.4" y2="48.33" stroke="#505050" stroke-width="1.0"/>
<line x1="396.8" y1="45.83" x2="399.4" y2="45.83" stroke="#505050" stroke-width="1.0"/>
<line x1="394" y1="43.6" x2="399.4" y2="43.6" stroke="#141414" stroke-width="1.4"/>
<line x1="418.46" y1="291.2" x2="418.46" y2="293.8" stroke="#505050" stroke-width="1.0"/>
<line x1="429.6" y1="291.2" x2="429.6" y2="293.8" stroke="#505050" stroke-width="1.0"/>
<line x1="437.51" y1="291.2" x2="437.51" y2="293.8" stroke="#505050" stroke-width="1.0"/>
<line x1="443.64" y1="291.2" x2="443.64" y2="293.8" stroke="#505050" stroke-width="1.0"/>
<line x1="448.66" y1="291.2" x2="448.66" y2="293.8" stroke="#505050" stroke-width="1.0"/>
<line x1="452.89" y1="291.2" x2="452.89" y2="293.8" stroke="#505050" stroke-width="1.0"/>
<line x1="456.57" y1="291.2" x2="456.57" y2="293.8" stroke="#505050" stroke-width="1.0"/>
<line x1="459.8" y1="291.2" x2="459.8" y2="293.8" stroke="#505050" stroke-width="1.0"/>
<line x1="462.7" y1="291.2" x2="462.7" y2="296.2" stroke="#141414" stroke-width="1.4"/>
<line x1="480.76" y1="291.2" x2="480.76" y2="293.8" stroke="#505050" stroke-width="1.0"/>
<line x1="491.33" y1="291.2" x2="491.33" y2="293.8" stroke="#505050" stroke-width="1.0"/>
<line x1="498.82" y1="291.2" x2="498.82" y2="293.8" stroke="#505050" stroke-width="1.0"/>
<line x1="504.64" y1="291.2" x2="504.64" y2="293.8" stroke="#505050" stroke-width="1.0"/>
<line x1="509.39" y1="291.2" x2="509.39" y2="293.8" stroke="#505050" stroke-width="1.0"/>
<line x1="513.41" y1="291.2" x2="513.41" y2="293.8" stroke="#505050" stroke-width="1.0"/>
<line x1="516.89" y1="291.2" x2="516.89" y2="293.8" stroke="#505050" stroke-width="1.0"/>
<line x1="519.95" y1="291.2" x2="519.95" y2="293.8" stroke="#505050" stroke-width="1.0"/>
<line x1="522.7" y1="291.2" x2="522.7" y2="296.2" stroke="#141414" stroke-width="1.4"/>
<line x1="541.24" y1="291.2" x2="541.24" y2="293.8" stroke="#505050" stroke-width="1.0"/>
<line x1="552.09" y1="291.2" x2="552.09" y2="293.8" stroke="#505050" stroke-width="1.0"/>
<line x1="559.79" y1="291.2" x2="559.79" y2="293.8" stroke="#505050" stroke-width="1.0"/>
<line x1="565.76" y1="291.2" x2="565.76" y2="293.8" stroke="#505050" stroke-width="1.0"/>
<line x1="570.63" y1="291.2" x2="570.63" y2="293.8" stroke="#505050" stroke-width="1.0"/>
<line x1="574.76" y1="291.2" x2="574.76" y2="293.8" stroke="#505050" stroke-width="1.0"/>
<line x1="578.33" y1="291.2" x2="578.33" y2="293.8" stroke="#505050" stroke-width="1.0"/>
<line x1="581.48" y1="291.2" x2="581.48" y2="293.8" stroke="#505050" stroke-width="1.0"/>
<line x1="584.3" y1="291.2" x2="584.3" y2="296.2" stroke="#141414" stroke-width="1.4"/>
<line x1="602.54" y1="291.2" x2="602.54" y2="293.8" stroke="#505050" stroke-width="1.0"/>
<line x1="613.21" y1="291.2" x2="613.21" y2="293.8" stroke="#505050" stroke-width="1.0"/>
<line x1="620.78" y1="291.2" x2="620.78" y2="293.8" stroke="#505050" stroke-width="1.0"/>
<line x1="626.66" y1="291.2" x2="626.66" y2="293.8" stroke="#505050" stroke-width="1.0"/>
<line x1="631.46" y1="291.2" x2="631.46" y2="293.8" stroke="#505050" stroke-width="1.0"/>
<line x1="635.51" y1="291.2" x2="635.51" y2="293.8" stroke="#505050" stroke-width="1.0"/>
<line x1="639.03" y1="291.2" x2="639.03" y2="293.8" stroke="#505050" stroke-width="1.0"/>
<line x1="642.13" y1="291.2" x2="642.13" y2="293.8" stroke="#505050" stroke-width="1.0"/>
<line x1="644.9" y1="291.2" x2="644.9" y2="296.2" stroke="#141414" stroke-width="1.4"/>
<line x1="537.8" y1="32.2" x2="537.8" y2="288.2" stroke="#141414" stroke-width="1.6"/>
<line x1="400.9" y1="154.6" x2="660.6" y2="154.6" stroke="#141414" stroke-width="1.6"/>
<rect x="477" y="199" width="1.25" height="1.25" fill="#0a860a"/>
<rect x="469" y="202" width="1.25" height="1.25" fill="#0a860a"/>
<rect x="474" y="198" width="1.25" height="1.25" fill="#0a860a"/>
<rect x="480" y="196" width="1.25" height="1.25" fill="#0a860a"/>
<rect x="473" y="202" width="1.25" height="1.25" fill="#0a860a"/>
<rect x="473" y="207" width="1.25" height="1.25" fill="#0a860a"/>
<rect x="481" y="204" width="1.25" height="1.25" fill="#0a860a"/>
<rect x="472" y="210" width="1.25" height="1.25" fill="#0a860a"/>
<rect x="470" y="205" width="1.25" height="1.25" fill="#0a860a"/>
<rect x="463" y="213" width="1.25" height="1.25" fill="#0a860a"/>
<rect x="461" y="212" width="1.25" height="1.25" fill="#0a860a"/>
<rect x="475" y="201" width="1.25" height="1.25" fill="#0a860a"/>
<rect x="479" y="200" width="1.25" height="1.25" fill="#0a860a"/>
<rect x="474" y="196" width="1.25" height="1.25" fill="#0a860a"/>
<rect x="472" y="200" width="1.25" height="1.25" fill="#0a860a"/>
<rect x="477" y="205" width="1.25" height="1.25" fill="#0a860a"/>
<rect x="470" y="195" width="1.25" height="1.25" fill="#0a860a"/>
<rect x="479" y="201" width="1.25" height="1.25" fill="#0a860a"/>
<rect x="477" y="207" width="1.25" height="1.25" fill="#0a860a"/>
<rect x="460" y="209" width="1.25" height="1.25" fill="#0a860a"/>
<rect x="469" y="190" width="1.25" height="1.25" fill="#0a860a"/>
<rect x="450" y="224" width="1.25" height="1.25" fill="#0a860a"/>
<rect x="473" y="211" width="1.25" height="1.25" fill="#0a860a"/>
<rect x="483" y="198" width="1.25" height="1.25" fill="#0a860a"/>
<rect x="477" y="194" width="1.25" height="1.25" fill="#0a860a"/>
<rect x="466" y="214" width="1.25" height="1.25" fill="#0a860a"/>
<rect x="472" y="194" width="1.25" height="1.25" fill="#0a860a"/>
<rect x="469" y="210" width="1.25" height="1.25" fill="#0a860a"/>
<rect x="480" y="195" width="1.25" height="1.25" fill="#0a860a"/>
<rect x="471" y="210" width="1.25" height="1.25" fill="#0a860a"/>
<rect x="478" y="200" width="1.25" height="1.25" fill="#0a860a"/>
<rect x="483" y="192" width="1.25" height="1.25" fill="#0a860a"/>
<rect x="465" y="204" width="1.25" height="1.25" fill="#0a860a"/>
<rect x="449" y="217" width="1.25" height="1.25" fill="#0a860a"/>
<rect x="469" y="201" width="1.25" height="1.25" fill="#0a860a"/>
<rect x="476" y="198" width="1.25" height="1.25" fill="#0a860a"/>
<rect x="481" y="197" width="1.25" height="1.25" fill="#0a860a"/>
<rect x="469" y="205" width="1.25" height="1.25" fill="#0a860a"/>
<rect x="476" y="197" width="1.25" height="1.25" fill="#0a860a"/>
<rect x="470" y="204" width="1.25" height="1.25" fill="#0a860a"/>
<rect x="490" y="188" width="1.25" height="1.25" fill="#0a860a"/>
<rect x="481" y="193" width="1.25" height="1.25" fill="#0a860a"/>
<rect x="476" y="200" width="1.25" height="1.25" fill="#0a860a"/>
<rect x="472" y="202" width="1.25" height="1.25" fill="#0a860a"/>
<rect x="471" y="197" width="1.25" height="1.25" fill="#0a860a"/>
<rect x="477" y="198" width="1.25" height="1.25" fill="#0a860a"/>
<rect x="464" y="211" width="1.25" height="1.25" fill="#0a860a"/>
<rect x="467" y="206" width="1.25" height="1.25" fill="#0a860a"/>
<rect x="471" y="200" width="1.25" height="1.25" fill="#0a860a"/>
<rect x="462" y="213" width="1.25" height="1.25" fill="#0a860a"/>
<rect x="482" y="193" width="1.25" height="1.25" fill="#0a860a"/>
<rect x="479" y="203" width="1.25" height="1.25" fill="#0a860a"/>
<rect x="485" y="197" width="1.25" height="1.25" fill="#0a860a"/>
<rect x="475" y="200" width="1.25" height="1.25" fill="#0a860a"/>
<rect x="470" y="199" width="1.25" height="1.25" fill="#0a860a"/>
<rect x="462" y="212" width="1.25" height="1.25" fill="#0a860a"/>
<rect x="476" y="206" width="1.25" height="1.25" fill="#0a860a"/>
<rect x="470" y="206" width="1.25" height="1.25" fill="#0a860a"/>
<rect x="464" y="204" width="1.25" height="1.25" fill="#0a860a"/>
<rect x="490" y="190" width="1.25" height="1.25" fill="#0a860a"/>
<rect x="471" y="195" width="1.25" height="1.25" fill="#0a860a"/>
<rect x="474" y="201" width="1.25" height="1.25" fill="#0a860a"/>
<rect x="464" y="209" width="1.25" height="1.25" fill="#0a860a"/>
<rect x="468" y="203" width="1.25" height="1.25" fill="#0a860a"/>
<rect x="478" y="201" width="1.25" height="1.25" fill="#0a860a"/>
<rect x="473" y="201" width="1.25" height="1.25" fill="#0a860a"/>
<rect x="480" y="194" width="1.25" height="1.25" fill="#0a860a"/>
<rect x="465" y="210" width="1.25" height="1.25" fill="#0a860a"/>
<rect x="479" y="198" width="1.25" height="1.25" fill="#0a860a"/>
<rect x="485" y="186" width="1.25" height="1.25" fill="#0a860a"/>
<rect x="467" y="201" width="1.25" height="1.25" fill="#0a860a"/>
<rect x="472" y="201" width="1.25" height="1.25" fill="#0a860a"/>
<rect x="465" y="200" width="1.25" height="1.25" fill="#0a860a"/>
<rect x="463" y="214" width="1.25" height="1.25" fill="#0a860a"/>
<rect x="466" y="205" width="1.25" height="1.25" fill="#0a860a"/>
<rect x="472" y="196" width="1.25" height="1.25" fill="#0a860a"/>
<rect x="471" y="199" width="1.25" height="1.25" fill="#0a860a"/>
<rect x="470" y="208" width="1.25" height="1.25" fill="#0a860a"/>
<rect x="482" y="201" width="1.25" height="1.25" fill="#0a860a"/>
<rect x="465" y="203" width="1.25" height="1.25" fill="#0a860a"/>
<rect x="460" y="207" width="1.25" height="1.25" fill="#0a860a"/>
<rect x="475" y="199" width="1.25" height="1.25" fill="#0a860a"/>
<rect x="487" y="195" width="1.25" height="1.25" fill="#0a860a"/>
<rect x="481" y="192" width="1.25" height="1.25" fill="#0a860a"/>
<rect x="452" y="216" width="1.25" height="1.25" fill="#0a860a"/>
<rect x="473" y="200" width="1.25" height="1.25" fill="#0a860a"/>
<rect x="463" y="201" width="1.25" height="1.25" fill="#0a860a"/>
<rect x="474" y="209" width="1.25" height="1.25" fill="#0a860a"/>
<rect x="477" y="195" width="1.25" height="1.25" fill="#0a860a"/>
<rect x="465" y="211" width="1.25" height="1.25" fill="#0a860a"/>
<rect x="472" y="195" width="1.25" height="1.25" fill="#0a860a"/>
<rect x="471" y="206" width="1.25" height="1.25" fill="#0a860a"/>
<rect x="467" y="200" width="1.25" height="1.25" fill="#0a860a"/>
<rect x="448" y="212" width="1.25" height="1.25" fill="#0a860a"/>
<rect x="476" y="192" width="1.25" height="1.25" fill="#0a860a"/>
<rect x="466" y="204" width="1.25" height="1.25" fill="#0a860a"/>
<rect x="465" y="208" width="1.25" height="1.25" fill="#0a860a"/>
<rect x="451" y="222" width="1.25" height="1.25" fill="#0a860a"/>
<rect x="458" y="211" width="1.25" height="1.25" fill="#0a860a"/>
<rect x="464" y="206" width="1.25" height="1.25" fill="#0a860a"/>
<rect x="476" y="193" width="1.25" height="1.25" fill="#0a860a"/>
<rect x="469" y="209" width="1.25" height="1.25" fill="#0a860a"/>
<rect x="460" y="203" width="1.25" height="1.25" fill="#0a860a"/>
<rect x="484" y="200" width="1.25" height="1.25" fill="#0a860a"/>
<rect x="467" y="204" width="1.25" height="1.25" fill="#0a860a"/>
<rect x="484" y="201" width="1.25" height="1.25" fill="#0a860a"/>
<rect x="461" y="204" width="1.25" height="1.25" fill="#0a860a"/>
<rect x="462" y="204" width="1.25" height="1.25" fill="#0a860a"/>
<rect x="467" y="213" width="1.25" height="1.25" fill="#0a860a"/>
<rect x="476" y="205" width="1.25" height="1.25" fill="#0a860a"/>
<rect x="468" y="205" width="1.25" height="1.25" fill="#0a860a"/>
<rect x="482" y="197" width="1.25" height="1.25" fill="#0a860a"/>
<rect x="478" y="202" width="1.25" height="1.25" fill="#0a860a"/>
<rect x="478" y="193" width="1.25" height="1.25" fill="#0a860a"/>
<rect x="463" y="204" width="1.25" height="1.25" fill="#0a860a"/>
<rect x="473" y="205" width="1.25" height="1.25" fill="#0a860a"/>
<rect x="477" y="203" width="1.25" height="1.25" fill="#0a860a"/>
<rect x="459" y="210" width="1.25" height="1.25" fill="#0a860a"/>
<rect x="467" y="209" width="1.25" height="1.25" fill="#0a860a"/>
<rect x="488" y="199" width="1.25" height="1.25" fill="#0a860a"/>
<rect x="478" y="205" width="1.25" height="1.25" fill="#0a860a"/>
<rect x="481" y="206" width="1.25" height="1.25" fill="#0a860a"/>
<rect x="478" y="197" width="1.25" height="1.25" fill="#0a860a"/>
<rect x="463" y="200" width="1.25" height="1.25" fill="#0a860a"/>
<rect x="464" y="208" width="1.25" height="1.25" fill="#0a860a"/>
<rect x="485" y="193" width="1.25" height="1.25" fill="#0a860a"/>
<rect x="479" y="195" width="1.25" height="1.25" fill="#0a860a"/>
<rect x="490" y="189" width="1.25" height="1.25" fill="#0a860a"/>
<rect x="482" y="196" width="1.25" height="1.25" fill="#0a860a"/>
<rect x="472" y="199" width="1.25" height="1.25" fill="#0a860a"/>
<rect x="463" y="219" width="1.25" height="1.25" fill="#0a860a"/>
<rect x="480" y="198" width="1.25" height="1.25" fill="#0a860a"/>
<rect x="479" y="197" width="1.25" height="1.25" fill="#0a860a"/>
<rect x="461" y="207" width="1.25" height="1.25" fill="#0a860a"/>
<rect x="474" y="193" width="1.25" height="1.25" fill="#0a860a"/>
<rect x="466" y="200" width="1.25" height="1.25" fill="#0a860a"/>
<rect x="479" y="192" width="1.25" height="1.25" fill="#0a860a"/>
<rect x="472" y="203" width="1.25" height="1.25" fill="#0a860a"/>
<rect x="468" y="209" width="1.25" height="1.25" fill="#0a860a"/>
<rect x="466" y="209" width="1.25" height="1.25" fill="#0a860a"/>
<rect x="479" y="186" width="1.25" height="1.25" fill="#0a860a"/>
<rect x="472" y="206" width="1.25" height="1.25" fill="#0a860a"/>
<rect x="480" y="197" width="1.25" height="1.25" fill="#0a860a"/>
<rect x="479" y="196" width="1.25" height="1.25" fill="#0a860a"/>
<rect x="474" y="203" width="1.25" height="1.25" fill="#0a860a"/>
<rect x="467" y="214" width="1.25" height="1.25" fill="#0a860a"/>
<rect x="474" y="197" width="1.25" height="1.25" fill="#0a860a"/>
<rect x="461" y="200" width="1.25" height="1.25" fill="#0a860a"/>
<rect x="473" y="193" width="1.25" height="1.25" fill="#0a860a"/>
<rect x="475" y="203" width="1.25" height="1.25" fill="#0a860a"/>
<rect x="456" y="215" width="1.25" height="1.25" fill="#0a860a"/>
<rect x="483" y="197" width="1.25" height="1.25" fill="#0a860a"/>
<rect x="476" y="203" width="1.25" height="1.25" fill="#0a860a"/>
<rect x="470" y="202" width="1.25" height="1.25" fill="#0a860a"/>
<rect x="456" y="213" width="1.25" height="1.25" fill="#0a860a"/>
<rect x="466" y="211" width="1.25" height="1.25" fill="#0a860a"/>
<rect x="484" y="203" width="1.25" height="1.25" fill="#0a860a"/>
<rect x="471" y="193" width="1.25" height="1.25" fill="#0a860a"/>
<rect x="461" y="203" width="1.25" height="1.25" fill="#0a860a"/>
<rect x="464" y="212" width="1.25" height="1.25" fill="#0a860a"/>
<rect x="460" y="208" width="1.25" height="1.25" fill="#0a860a"/>
<rect x="475" y="195" width="1.25" height="1.25" fill="#0a860a"/>
<rect x="461" y="205" width="1.25" height="1.25" fill="#0a860a"/>
<rect x="466" y="203" width="1.25" height="1.25" fill="#0a860a"/>
<rect x="479" y="199" width="1.25" height="1.25" fill="#0a860a"/>
<rect x="472" y="207" width="1.25" height="1.25" fill="#0a860a"/>
<rect x="469" y="207" width="1.25" height="1.25" fill="#0a860a"/>
<rect x="466" y="210" width="1.25" height="1.25" fill="#0a860a"/>
<rect x="472" y="197" width="1.25" height="1.25" fill="#0a860a"/>
<rect x="467" y="210" width="1.25" height="1.25" fill="#0a860a"/>
<rect x="474" y="206" width="1.25" height="1.25" fill="#0a860a"/>
<rect x="460" y="216" width="1.25" height="1.25" fill="#0a860a"/>
<rect x="490" y="194" width="1.25" height="1.25" fill="#0a860a"/>
<rect x="483" y="194" width="1.25" height="1.25" fill="#0a860a"/>
<rect x="471" y="198" width="1.25" height="1.25" fill="#0a860a"/>
<rect x="472" y="204" width="1.25" height="1.25" fill="#0a860a"/>
<rect x="472" y="209" width="1.25" height="1.25" fill="#0a860a"/>
<rect x="473" y="198" width="1.25" height="1.25" fill="#0a860a"/>
<rect x="463" y="209" width="1.25" height="1.25" fill="#0a860a"/>
<rect x="470" y="198" width="1.25" height="1.25" fill="#0a860a"/>
<rect x="481" y="202" width="1.25" height="1.25" fill="#0a860a"/>
<rect x="477" y="211" width="1.25" height="1.25" fill="#0a860a"/>
<rect x="481" y="200" width="1.25" height="1.25" fill="#0a860a"/>
<rect x="475" y="205" width="1.25" height="1.25" fill="#0a860a"/>
<rect x="460" y="196" width="1.25" height="1.25" fill="#0a860a"/>
<rect x="478" y="199" width="1.25" height="1.25" fill="#0a860a"/>
<rect x="458" y="209" width="1.25" height="1.25" fill="#0a860a"/>
<rect x="478" y="190" width="1.25" height="1.25" fill="#0a860a"/>
<rect x="460" y="215" width="1.25" height="1.25" fill="#0a860a"/>
<rect x="489" y="185" width="1.25" height="1.25" fill="#0a860a"/>
<rect x="468" y="206" width="1.25" height="1.25" fill="#0a860a"/>
<rect x="477" y="201" width="1.25" height="1.25" fill="#0a860a"/>
<rect x="458" y="214" width="1.25" height="1.25" fill="#0a860a"/>
<rect x="468" y="198" width="1.25" height="1.25" fill="#0a860a"/>
<rect x="465" y="209" width="1.25" height="1.25" fill="#0a860a"/>
<rect x="480" y="191" width="1.25" height="1.25" fill="#0a860a"/>
<rect x="460" y="214" width="1.25" height="1.25" fill="#0a860a"/>
<rect x="471" y="207" width="1.25" height="1.25" fill="#0a860a"/>
<rect x="462" y="207" width="1.25" height="1.25" fill="#0a860a"/>
<rect x="467" y="196" width="1.25" height="1.25" fill="#0a860a"/>
<rect x="474" y="208" width="1.25" height="1.25" fill="#0a860a"/>
<rect x="466" y="201" width="1.25" height="1.25" fill="#0a860a"/>
<rect x="469" y="208" width="1.25" height="1.25" fill="#0a860a"/>
<rect x="456" y="219" width="1.25" height="1.25" fill="#0a860a"/>
<rect x="456" y="209" width="1.25" height="1.25" fill="#0a860a"/>
<rect x="461" y="210" width="1.25" height="1.25" fill="#0a860a"/>
<rect x="468" y="204" width="1.25" height="1.25" fill="#0a860a"/>
<rect x="469" y="203" width="1.25" height="1.25" fill="#0a860a"/>
<rect x="468" y="212" width="1.25" height="1.25" fill="#0a860a"/>
<rect x="469" y="198" width="1.25" height="1.25" fill="#0a860a"/>
<rect x="477" y="206" width="1.25" height="1.25" fill="#0a860a"/>
<rect x="468" y="201" width="1.25" height="1.25" fill="#0a860a"/>
<rect x="468" y="197" width="1.25" height="1.25" fill="#0a860a"/>
<rect x="487" y="196" width="1.25" height="1.25" fill="#0a860a"/>
<rect x="467" y="207" width="1.25" height="1.25" fill="#0a860a"/>
<rect x="475" y="190" width="1.25" height="1.25" fill="#0a860a"/>
<rect x="477" y="204" width="1.25" height="1.25" fill="#0a860a"/>
<rect x="479" y="194" width="1.25" height="1.25" fill="#0a860a"/>
<rect x="474" y="189" width="1.25" height="1.25" fill="#0a860a"/>
<rect x="481" y="190" width="1.25" height="1.25" fill="#0a860a"/>
<rect x="474" y="204" width="1.25" height="1.25" fill="#0a860a"/>
<rect x="471" y="208" width="1.25" height="1.25" fill="#0a860a"/>
<rect x="472" y="205" width="1.25" height="1.25" fill="#0a860a"/>
<rect x="476" y="195" width="1.25" height="1.25" fill="#0a860a"/>
<rect x="484" y="187" width="1.25" height="1.25" fill="#0a860a"/>
<rect x="473" y="209" width="1.25" height="1.25" fill="#0a860a"/>
<rect x="468" y="200" width="1.25" height="1.25" fill="#0a860a"/>
<rect x="488" y="196" width="1.25" height="1.25" fill="#0a860a"/>
<rect x="484" y="196" width="1.25" height="1.25" fill="#0a860a"/>
<rect x="484" y="194" width="1.25" height="1.25" fill="#0a860a"/>
<rect x="481" y="210" width="1.25" height="1.25" fill="#0a860a"/>
<rect x="478" y="192" width="1.25" height="1.25" fill="#0a860a"/>
<rect x="463" y="203" width="1.25" height="1.25" fill="#0a860a"/>
<rect x="477" y="193" width="1.25" height="1.25" fill="#0a860a"/>
<rect x="471" y="201" width="1.25" height="1.25" fill="#0a860a"/>
<rect x="476" y="202" width="1.25" height="1.25" fill="#0a860a"/>
<rect x="473" y="203" width="1.25" height="1.25" fill="#0a860a"/>
<rect x="480" y="200" width="1.25" height="1.25" fill="#0a860a"/>
<rect x="467" y="211" width="1.25" height="1.25" fill="#0a860a"/>
<rect x="480" y="205" width="1.25" height="1.25" fill="#0a860a"/>
<rect x="467" y="208" width="1.25" height="1.25" fill="#0a860a"/>
<rect x="465" y="207" width="1.25" height="1.25" fill="#0a860a"/>
<rect x="475" y="196" width="1.25" height="1.25" fill="#0a860a"/>
<rect x="490" y="199" width="1.25" height="1.25" fill="#0a860a"/>
<rect x="485" y="194" width="1.25" height="1.25" fill="#0a860a"/>
<rect x="463" y="206" width="1.25" height="1.25" fill="#0a860a"/>
<rect x="457" y="208" width="1.25" height="1.25" fill="#0a860a"/>
<rect x="465" y="205" width="1.25" height="1.25" fill="#0a860a"/>
<rect x="455" y="209" width="1.25" height="1.25" fill="#0a860a"/>
<rect x="481" y="194" width="1.25" height="1.25" fill="#0a860a"/>
<rect x="469" y="204" width="1.25" height="1.25" fill="#0a860a"/>
<rect x="469" y="199" width="1.25" height="1.25" fill="#0a860a"/>
<rect x="462" y="218" width="1.25" height="1.25" fill="#0a860a"/>
<rect x="473" y="204" width="1.25" height="1.25" fill="#0a860a"/>
<rect x="460" y="212" width="1.25" height="1.25" fill="#0a860a"/>
<rect x="469" y="197" width="1.25" height="1.25" fill="#0a860a"/>
<rect x="474" y="192" width="1.25" height="1.25" fill="#0a860a"/>
<rect x="486" y="192" width="1.25" height="1.25" fill="#0a860a"/>
<rect x="483" y="196" width="1.25" height="1.25" fill="#0a860a"/>
<rect x="475" y="207" width="1.25" height="1.25" fill="#0a860a"/>
<rect x="466" y="206" width="1.25" height="1.25" fill="#0a860a"/>
<rect x="487" y="191" width="1.25" height="1.25" fill="#0a860a"/>
<rect x="476" y="190" width="1.25" height="1.25" fill="#0a860a"/>
<rect x="474" y="211" width="1.25" height="1.25" fill="#0a860a"/>
<rect x="462" y="211" width="1.25" height="1.25" fill="#0a860a"/>
<rect x="475" y="202" width="1.25" height="1.25" fill="#0a860a"/>
<rect x="458" y="212" width="1.25" height="1.25" fill="#0a860a"/>
<rect x="474" y="199" width="1.25" height="1.25" fill="#0a860a"/>
<rect x="463" y="207" width="1.25" height="1.25" fill="#0a860a"/>
<rect x="459" y="209" width="1.25" height="1.25" fill="#0a860a"/>
<rect x="463" y="210" width="1.25" height="1.25" fill="#0a860a"/>
<rect x="457" y="219" width="1.25" height="1.25" fill="#0a860a"/>
<rect x="467" y="203" width="1.25" height="1.25" fill="#0a860a"/>
<rect x="473" y="206" width="1.25" height="1.25" fill="#0a860a"/>
<rect x="474" y="213" width="1.25" height="1.25" fill="#0a860a"/>
<rect x="470" y="194" width="1.25" height="1.25" fill="#0a860a"/>
<rect x="476" y="194" width="1.25" height="1.25" fill="#0a860a"/>
<rect x="465" y="202" width="1.25" height="1.25" fill="#0a860a"/>
<rect x="467" y="197" width="1.25" height="1.25" fill="#0a860a"/>
<rect x="478" y="198" width="1.25" height="1.25" fill="#0a860a"/>
<rect x="462" y="201" width="1.25" height="1.25" fill="#0a860a"/>
<rect x="479" y="202" width="1.25" height="1.25" fill="#0a860a"/>
<rect x="468" y="213" width="1.25" height="1.25" fill="#0a860a"/>
<rect x="485" y="185" width="1.25" height="1.25" fill="#0a860a"/>
<rect x="472" y="211" width="1.25" height="1.25" fill="#0a860a"/>
<rect x="482" y="192" width="1.25" height="1.25" fill="#0a860a"/>
<rect x="463" y="216" width="1.25" height="1.25" fill="#0a860a"/>
<rect x="465" y="206" width="1.25" height="1.25" fill="#0a860a"/>
<rect x="456" y="207" width="1.25" height="1.25" fill="#0a860a"/>
<rect x="467" y="202" width="1.25" height="1.25" fill="#0a860a"/>
<rect x="483" y="184" width="1.25" height="1.25" fill="#0a860a"/>
<rect x="478" y="195" width="1.25" height="1.25" fill="#0a860a"/>
<rect x="484" y="197" width="1.25" height="1.25" fill="#0a860a"/>
<rect x="464" y="220" width="1.25" height="1.25" fill="#0a860a"/>
<rect x="491" y="190" width="1.25" height="1.25" fill="#0a860a"/>
<rect x="483" y="199" width="1.25" height="1.25" fill="#0a860a"/>
<rect x="480" y="189" width="1.25" height="1.25" fill="#0a860a"/>
<rect x="490" y="198" width="1.25" height="1.25" fill="#0a860a"/>
<rect x="473" y="212" width="1.25" height="1.25" fill="#0a860a"/>
<rect x="471" y="203" width="1.25" height="1.25" fill="#0a860a"/>
<rect x="484" y="193" width="1.25" height="1.25" fill="#0a860a"/>
<rect x="485" y="195" width="1.25" height="1.25" fill="#0a860a"/>
<rect x="452" y="208" width="1.25" height="1.25" fill="#0a860a"/>
<rect x="468" y="207" width="1.25" height="1.25" fill="#0a860a"/>
<rect x="459" y="215" width="1.25" height="1.25" fill="#0a860a"/>
<rect x="483" y="189" width="1.25" height="1.25" fill="#0a860a"/>
<rect x="468" y="211" width="1.25" height="1.25" fill="#0a860a"/>
<rect x="468" y="199" width="1.25" height="1.25" fill="#0a860a"/>
<rect x="485" y="188" width="1.25" height="1.25" fill="#0a860a"/>
<rect x="461" y="214" width="1.25" height="1.25" fill="#0a860a"/>
<rect x="470" y="209" width="1.25" height="1.25" fill="#0a860a"/>
<rect x="470" y="203" width="1.25" height="1.25" fill="#0a860a"/>
<rect x="477" y="200" width="1.25" height="1.25" fill="#0a860a"/>
<rect x="467" y="205" width="1.25" height="1.25" fill="#0a860a"/>
<rect x="482" y="199" width="1.25" height="1.25" fill="#0a860a"/>
<rect x="483" y="188" width="1.25" height="1.25" fill="#0a860a"/>
<rect x="455" y="215" width="1.25" height="1.25" fill="#0a860a"/>
<rect x="480" y="199" width="1.25" height="1.25" fill="#0a860a"/>
<rect x="462" y="206" width="1.25" height="1.25" fill="#0a860a"/>
<rect x="460" y="218" width="1.25" height="1.25" fill="#0a860a"/>
<rect x="487" y="190" width="1.25" height="1.25" fill="#0a860a"/>
<rect x="466" y="207" width="1.25" height="1.25" fill="#0a860a"/>
<rect x="466" y="216" width="1.25" height="1.25" fill="#0a860a"/>
<rect x="487" y="193" width="1.25" height="1.25" fill="#0a860a"/>
<rect x="473" y="213" width="1.25" height="1.25" fill="#0a860a"/>
<rect x="482" y="194" width="1.25" height="1.25" fill="#0a860a"/>
<rect x="468" y="208" width="1.25" height="1.25" fill="#0a860a"/>
<rect x="469" y="196" width="1.25" height="1.25" fill="#0a860a"/>
<rect x="468" y="202" width="1.25" height="1.25" fill="#0a860a"/>
<rect x="471" y="204" width="1.25" height="1.25" fill="#0a860a"/>
<rect x="473" y="199" width="1.25" height="1.25" fill="#0a860a"/>
<rect x="473" y="192" width="1.25" height="1.25" fill="#0a860a"/>
<rect x="475" y="210" width="1.25" height="1.25" fill="#0a860a"/>
<rect x="474" y="205" width="1.25" height="1.25" fill="#0a860a"/>
<rect x="459" y="212" width="1.25" height="1.25" fill="#0a860a"/>
<rect x="459" y="214" width="1.25" height="1.25" fill="#0a860a"/>
<rect x="479" y="206" width="1.25" height="1.25" fill="#0a860a"/>
<rect x="474" y="210" width="1.25" height="1.25" fill="#0a860a"/>
<rect x="454" y="213" width="1.25" height="1.25" fill="#0a860a"/>
<rect x="464" y="203" width="1.25" height="1.25" fill="#0a860a"/>
<rect x="469" y="213" width="1.25" height="1.25" fill="#0a860a"/>
<rect x="475" y="197" width="1.25" height="1.25" fill="#0a860a"/>
<rect x="493" y="179" width="1.25" height="1.25" fill="#0a860a"/>
<rect x="463" y="208" width="1.25" height="1.25" fill="#0a860a"/>
<rect x="459" y="206" width="1.25" height="1.25" fill="#0a860a"/>
<rect x="471" y="215" width="1.25" height="1.25" fill="#0a860a"/>
<rect x="457" y="216" width="1.25" height="1.25" fill="#0a860a"/>
<rect x="457" y="213" width="1.25" height="1.25" fill="#0a860a"/>
<rect x="458" y="216" width="1.25" height="1.25" fill="#0a860a"/>
<rect x="452" y="218" width="1.25" height="1.25" fill="#0a860a"/>
<rect x="476" y="204" width="1.25" height="1.25" fill="#0a860a"/>
<rect x="491" y="191" width="1.25" height="1.25" fill="#0a860a"/>
<rect x="478" y="206" width="1.25" height="1.25" fill="#0a860a"/>
<rect x="469" y="212" width="1.25" height="1.25" fill="#0a860a"/>
<rect x="479" y="193" width="1.25" height="1.25" fill="#0a860a"/>
<rect x="469" y="206" width="1.25" height="1.25" fill="#0a860a"/>
<rect x="460" y="206" width="1.25" height="1.25" fill="#0a860a"/>
<rect x="463" y="211" width="1.25" height="1.25" fill="#0a860a"/>
<rect x="470" y="210" width="1.25" height="1.25" fill="#0a860a"/>
<rect x="483" y="201" width="1.25" height="1.25" fill="#0a860a"/>
<rect x="474" y="202" width="1.25" height="1.25" fill="#0a860a"/>
<rect x="462" y="200" width="1.25" height="1.25" fill="#0a860a"/>
<rect x="486" y="199" width="1.25" height="1.25" fill="#0a860a"/>
<rect x="459" y="211" width="1.25" height="1.25" fill="#0a860a"/>
<rect x="480" y="204" width="1.25" height="1.25" fill="#0a860a"/>
<rect x="446" y="214" width="1.25" height="1.25" fill="#0a860a"/>
<rect x="476" y="191" width="1.25" height="1.25" fill="#0a860a"/>
<rect x="460" y="210" width="1.25" height="1.25" fill="#0a860a"/>
<rect x="462" y="202" width="1.25" height="1.25" fill="#0a860a"/>
<rect x="451" y="212" width="1.25" height="1.25" fill="#0a860a"/>
<rect x="476" y="215" width="1.25" height="1.25" fill="#0a860a"/>
<rect x="452" y="222" width="1.25" height="1.25" fill="#0a860a"/>
<rect x="481" y="203" width="1.25" height="1.25" fill="#0a860a"/>
<rect x="466" y="215" width="1.25" height="1.25" fill="#0a860a"/>
<rect x="476" y="207" width="1.25" height="1.25" fill="#0a860a"/>
<rect x="484" y="191" width="1.25" height="1.25" fill="#0a860a"/>
<rect x="478" y="196" width="1.25" height="1.25" fill="#0a860a"/>
<rect x="481" y="191" width="1.25" height="1.25" fill="#0a860a"/>
<rect x="488" y="191" width="1.25" height="1.25" fill="#0a860a"/>
<rect x="482" y="198" width="1.25" height="1.25" fill="#0a860a"/>
<rect x="479" y="211" width="1.25" height="1.25" fill="#0a860a"/>
<rect x="485" y="191" width="1.25" height="1.25" fill="#0a860a"/>
<rect x="450" y="213" width="1.25" height="1.25" fill="#0a860a"/>
<rect x="493" y="189" width="1.25" height="1.25" fill="#0a860a"/>
<rect x="475" y="206" width="1.25" height="1.25" fill="#0a860a"/>
<rect x="482" y="191" width="1.25" height="1.25" fill="#0a860a"/>
<rect x="477" y="202" width="1.25" height="1.25" fill="#0a860a"/>
<rect x="471" y="209" width="1.25" height="1.25" fill="#0a860a"/>
<rect x="481" y="201" width="1.25" height="1.25" fill="#0a860a"/>
<rect x="455" y="213" width="1.25" height="1.25" fill="#0a860a"/>
<rect x="464" y="210" width="1.25" height="1.25" fill="#0a860a"/>
<rect x="488" y="197" width="1.25" height="1.25" fill="#0a860a"/>
<rect x="461" y="211" width="1.25" height="1.25" fill="#0a860a"/>
<rect x="452" y="223" width="1.25" height="1.25" fill="#0a860a"/>
<rect x="476" y="201" width="1.25" height="1.25" fill="#0a860a"/>
<rect x="470" y="216" width="1.25" height="1.25" fill="#0a860a"/>
<rect x="482" y="188" width="1.25" height="1.25" fill="#0a860a"/>
<rect x="464" y="201" width="1.25" height="1.25" fill="#0a860a"/>
<rect x="461" y="213" width="1.25" height="1.25" fill="#0a860a"/>
<rect x="443" y="222" width="1.25" height="1.25" fill="#0a860a"/>
<rect x="478" y="204" width="1.25" height="1.25" fill="#0a860a"/>
<rect x="465" y="201" width="1.25" height="1.25" fill="#0a860a"/>
<rect x="470" y="201" width="1.25" height="1.25" fill="#0a860a"/>
<rect x="464" y="207" width="1.25" height="1.25" fill="#0a860a"/>
<rect x="492" y="199" width="1.25" height="1.25" fill="#0a860a"/>
<rect x="479" y="204" width="1.25" height="1.25" fill="#0a860a"/>
<rect x="471" y="196" width="1.25" height="1.25" fill="#0a860a"/>
<rect x="480" y="203" width="1.25" height="1.25" fill="#0a860a"/>
<rect x="470" y="200" width="1.25" height="1.25" fill="#0a860a"/>
<rect x="472" y="214" width="1.25" height="1.25" fill="#0a860a"/>
<rect x="466" y="208" width="1.25" height="1.25" fill="#0a860a"/>
<rect x="471" y="202" width="1.25" height="1.25" fill="#0a860a"/>
<rect x="474" y="207" width="1.25" height="1.25" fill="#0a860a"/>
<rect x="468" y="210" width="1.25" height="1.25" fill="#0a860a"/>
<rect x="493" y="188" width="1.25" height="1.25" fill="#0a860a"/>
<rect x="465" y="199" width="1.25" height="1.25" fill="#0a860a"/>
<rect x="484" y="198" width="1.25" height="1.25" fill="#0a860a"/>
<rect x="489" y="178" width="1.25" height="1.25" fill="#0a860a"/>
<rect x="460" y="202" width="1.25" height="1.25" fill="#0a860a"/>
<rect x="473" y="216" width="1.25" height="1.25" fill="#0a860a"/>
<rect x="470" y="207" width="1.25" height="1.25" fill="#0a860a"/>
<rect x="466" y="186" width="1.25" height="1.25" fill="#0a860a"/>
<rect x="475" y="204" width="1.25" height="1.25" fill="#0a860a"/>
<rect x="470" y="196" width="1.25" height="1.25" fill="#0a860a"/>
<rect x="476" y="196" width="1.25" height="1.25" fill="#0a860a"/>
<rect x="473" y="208" width="1.25" height="1.25" fill="#0a860a"/>
<rect x="493" y="193" width="1.25" height="1.25" fill="#0a860a"/>
<rect x="473" y="190" width="1.25" height="1.25" fill="#0a860a"/>
<rect x="464" y="202" width="1.25" height="1.25" fill="#0a860a"/>
<rect x="464" y="205" width="1.25" height="1.25" fill="#0a860a"/>
<rect x="477" y="196" width="1.25" height="1.25" fill="#0a860a"/>
<rect x="484" y="190" width="1.25" height="1.25" fill="#0a860a"/>
<rect x="460" y="217" width="1.25" height="1.25" fill="#0a860a"/>
<rect x="480" y="202" width="1.25" height="1.25" fill="#0a860a"/>
<rect x="489" y="195" width="1.25" height="1.25" fill="#0a860a"/>
<rect x="458" y="205" width="1.25" height="1.25" fill="#0a860a"/>
<rect x="471" y="213" width="1.25" height="1.25" fill="#0a860a"/>
<rect x="481" y="196" width="1.25" height="1.25" fill="#0a860a"/>
<rect x="480" y="206" width="1.25" height="1.25" fill="#0a860a"/>
<rect x="465" y="212" width="1.25" height="1.25" fill="#0a860a"/>
<rect x="456" y="208" width="1.25" height="1.25" fill="#0a860a"/>
<rect x="459" y="213" width="1.25" height="1.25" fill="#0a860a"/>
<rect x="463" y="212" width="1.25" height="1.25" fill="#0a860a"/>
<rect x="462" y="208" width="1.25" height="1.25" fill="#0a860a"/>
<rect x="480" y="190" width="1.25" height="1.25" fill="#0a860a"/>
<rect x="469" y="217" width="1.25" height="1.25" fill="#0a860a"/>
<rect x="460" y="200" width="1.25" height="1.25" fill="#0a860a"/>
<rect x="483" y="200" width="1.25" height="1.25" fill="#0a860a"/>
<rect x="489" y="194" width="1.25" height="1.25" fill="#0a860a"/>
<rect x="462" y="217" width="1.25" height="1.25" fill="#0a860a"/>
<rect x="455" y="219" width="1.25" height="1.25" fill="#0a860a"/>
<rect x="483" y="193" width="1.25" height="1.25" fill="#0a860a"/>
<rect x="477" y="197" width="1.25" height="1.25" fill="#0a860a"/>
<rect x="463" y="202" width="1.25" height="1.25" fill="#0a860a"/>
<rect x="480" y="201" width="1.25" height="1.25" fill="#0a860a"/>
<rect x="481" y="199" width="1.25" height="1.25" fill="#0a860a"/>
<rect x="458" y="220" width="1.25" height="1.25" fill="#0a860a"/>
<rect x="487" y="188" width="1.25" height="1.25" fill="#0a860a"/>
<rect x="464" y="200" width="1.25" height="1.25" fill="#0a860a"/>
<rect x="484" y="199" width="1.25" height="1.25" fill="#0a860a"/>
<rect x="486" y="197" width="1.25" height="1.25" fill="#0a860a"/>
<rect x="490" y="191" width="1.25" height="1.25" fill="#0a860a"/>
<rect x="461" y="218" width="1.25" height="1.25" fill="#0a860a"/>
<rect x="475" y="198" width="1.25" height="1.25" fill="#0a860a"/>
<rect x="479" y="189" width="1.25" height="1.25" fill="#0a860a"/>
<rect x="471" y="212" width="1.25" height="1.25" fill="#0a860a"/>
<rect x="503" y="177" width="1.25" height="1.25" fill="#0a860a"/>
<rect x="503" y="176" width="1.25" height="1.25" fill="#0a860a"/>
<rect x="491" y="178" width="1.25" height="1.25" fill="#0a860a"/>
<rect x="483" y="190" width="1.25" height="1.25" fill="#0a860a"/>
<rect x="491" y="182" width="1.25" height="1.25" fill="#0a860a"/>
<rect x="494" y="187" width="1.25" height="1.25" fill="#0a860a"/>
<rect x="495" y="185" width="1.25" height="1.25" fill="#0a860a"/>
<rect x="508" y="173" width="1.25" height="1.25" fill="#0a860a"/>
<rect x="509" y="174" width="1.25" height="1.25" fill="#0a860a"/>
<rect x="486" y="193" width="1.25" height="1.25" fill="#0a860a"/>
<rect x="491" y="176" width="1.25" height="1.25" fill="#0a860a"/>
<rect x="489" y="183" width="1.25" height="1.25" fill="#0a860a"/>
<rect x="507" y="176" width="1.25" height="1.25" fill="#0a860a"/>
<rect x="498" y="177" width="1.25" height="1.25" fill="#0a860a"/>
<rect x="505" y="174" width="1.25" height="1.25" fill="#0a860a"/>
<rect x="503" y="165" width="1.25" height="1.25" fill="#0a860a"/>
<rect x="487" y="189" width="1.25" height="1.25" fill="#0a860a"/>
<rect x="486" y="187" width="1.25" height="1.25" fill="#0a860a"/>
<rect x="489" y="182" width="1.25" height="1.25" fill="#0a860a"/>
<rect x="502" y="182" width="1.25" height="1.25" fill="#0a860a"/>
<rect x="493" y="178" width="1.25" height="1.25" fill="#0a860a"/>
<rect x="482" y="189" width="1.25" height="1.25" fill="#0a860a"/>
<rect x="493" y="183" width="1.25" height="1.25" fill="#0a860a"/>
<rect x="497" y="180" width="1.25" height="1.25" fill="#0a860a"/>
<rect x="490" y="180" width="1.25" height="1.25" fill="#0a860a"/>
<rect x="502" y="177" width="1.25" height="1.25" fill="#0a860a"/>
<rect x="484" y="192" width="1.25" height="1.25" fill="#0a860a"/>
<rect x="499" y="175" width="1.25" height="1.25" fill="#0a860a"/>
<rect x="494" y="177" width="1.25" height="1.25" fill="#0a860a"/>
<rect x="518" y="158" width="1.25" height="1.25" fill="#0a860a"/>
<rect x="508" y="179" width="1.25" height="1.25" fill="#0a860a"/>
<rect x="503" y="179" width="1.25" height="1.25" fill="#0a860a"/>
<rect x="501" y="174" width="1.25" height="1.25" fill="#0a860a"/>
<rect x="495" y="182" width="1.25" height="1.25" fill="#0a860a"/>
<rect x="514" y="166" width="1.25" height="1.25" fill="#0a860a"/>
<rect x="503" y="174" width="1.25" height="1.25" fill="#0a860a"/>
<rect x="493" y="191" width="1.25" height="1.25" fill="#0a860a"/>
<rect x="499" y="181" width="1.25" height="1.25" fill="#0a860a"/>
<rect x="493" y="180" width="1.25" height="1.25" fill="#0a860a"/>
<rect x="509" y="170" width="1.25" height="1.25" fill="#0a860a"/>
<rect x="503" y="189" width="1.25" height="1.25" fill="#0a860a"/>
<rect x="517" y="167" width="1.25" height="1.25" fill="#0a860a"/>
<rect x="501" y="181" width="1.25" height="1.25" fill="#0a860a"/>
<rect x="487" y="185" width="1.25" height="1.25" fill="#0a860a"/>
<rect x="495" y="174" width="1.25" height="1.25" fill="#0a860a"/>
<rect x="499" y="179" width="1.25" height="1.25" fill="#0a860a"/>
<rect x="499" y="173" width="1.25" height="1.25" fill="#0a860a"/>
<rect x="505" y="178" width="1.25" height="1.25" fill="#0a860a"/>
<rect x="478" y="194" width="1.25" height="1.25" fill="#0a860a"/>
<rect x="516" y="166" width="1.25" height="1.25" fill="#0a860a"/>
<rect x="500" y="180" width="1.25" height="1.25" fill="#0a860a"/>
<rect x="487" y="182" width="1.25" height="1.25" fill="#0a860a"/>
<rect x="490" y="186" width="1.25" height="1.25" fill="#0a860a"/>
<rect x="506" y="177" width="1.25" height="1.25" fill="#0a860a"/>
<rect x="502" y="179" width="1.25" height="1.25" fill="#0a860a"/>
<rect x="493" y="187" width="1.25" height="1.25" fill="#0a860a"/>
<rect x="494" y="183" width="1.25" height="1.25" fill="#0a860a"/>
<rect x="499" y="182" width="1.25" height="1.25" fill="#0a860a"/>
<rect x="498" y="176" width="1.25" height="1.25" fill="#0a860a"/>
<rect x="484" y="183" width="1.25" height="1.25" fill="#0a860a"/>
<rect x="488" y="183" width="1.25" height="1.25" fill="#0a860a"/>
<rect x="493" y="190" width="1.25" height="1.25" fill="#0a860a"/>
<rect x="491" y="189" width="1.25" height="1.25" fill="#0a860a"/>
<rect x="493" y="185" width="1.25" height="1.25" fill="#0a860a"/>
<rect x="485" y="187" width="1.25" height="1.25" fill="#0a860a"/>
<rect x="504" y="176" width="1.25" height="1.25" fill="#0a860a"/>
<rect x="506" y="175" width="1.25" height="1.25" fill="#0a860a"/>
<rect x="505" y="179" width="1.25" height="1.25" fill="#0a860a"/>
<rect x="495" y="179" width="1.25" height="1.25" fill="#0a860a"/>
<rect x="509" y="164" width="1.25" height="1.25" fill="#0a860a"/>
<rect x="496" y="181" width="1.25" height="1.25" fill="#0a860a"/>
<rect x="483" y="185" width="1.25" height="1.25" fill="#0a860a"/>
<rect x="501" y="175" width="1.25" height="1.25" fill="#0a860a"/>
<rect x="502" y="170" width="1.25" height="1.25" fill="#0a860a"/>
<rect x="485" y="196" width="1.25" height="1.25" fill="#0a860a"/>
<rect x="505" y="169" width="1.25" height="1.25" fill="#0a860a"/>
<rect x="478" y="191" width="1.25" height="1.25" fill="#0a860a"/>
<rect x="488" y="186" width="1.25" height="1.25" fill="#0a860a"/>
<rect x="482" y="186" width="1.25" height="1.25" fill="#0a860a"/>
<rect x="477" y="186" width="1.25" height="1.25" fill="#0a860a"/>
<rect x="520" y="163" width="1.25" height="1.25" fill="#0a860a"/>
<rect x="492" y="182" width="1.25" height="1.25" fill="#0a860a"/>
<rect x="502" y="181" width="1.25" height="1.25" fill="#0a860a"/>
<rect x="484" y="182" width="1.25" height="1.25" fill="#0a860a"/>
<rect x="498" y="182" width="1.25" height="1.25" fill="#0a860a"/>
<rect x="502" y="172" width="1.25" height="1.25" fill="#0a860a"/>
<rect x="506" y="179" width="1.25" height="1.25" fill="#0a860a"/>
<rect x="501" y="170" width="1.25" height="1.25" fill="#0a860a"/>
<rect x="497" y="182" width="1.25" height="1.25" fill="#0a860a"/>
<rect x="488" y="189" width="1.25" height="1.25" fill="#0a860a"/>
<rect x="491" y="193" width="1.25" height="1.25" fill="#0a860a"/>
<rect x="493" y="177" width="1.25" height="1.25" fill="#0a860a"/>
<rect x="506" y="169" width="1.25" height="1.25" fill="#0a860a"/>
<rect x="502" y="180" width="1.25" height="1.25" fill="#0a860a"/>
<rect x="493" y="198" width="1.25" height="1.25" fill="#0a860a"/>
<rect x="488" y="190" width="1.25" height="1.25" fill="#0a860a"/>
<rect x="504" y="164" width="1.25" height="1.25" fill="#0a860a"/>
<rect x="494" y="184" width="1.25" height="1.25" fill="#0a860a"/>
<rect x="513" y="167" width="1.25" height="1.25" fill="#0a860a"/>
<rect x="487" y="194" width="1.25" height="1.25" fill="#0a860a"/>
<rect x="496" y="179" width="1.25" height="1.25" fill="#0a860a"/>
<rect x="481" y="184" width="1.25" height="1.25" fill="#0a860a"/>
<rect x="495" y="183" width="1.25" height="1.25" fill="#0a860a"/>
<rect x="507" y="189" width="1.25" height="1.25" fill="#0a860a"/>
<rect x="492" y="189" width="1.25" height="1.25" fill="#0a860a"/>
<rect x="505" y="176" width="1.25" height="1.25" fill="#0a860a"/>
<rect x="498" y="186" width="1.25" height="1.25" fill="#0a860a"/>
<rect x="518" y="164" width="1.25" height="1.25" fill="#0a860a"/>
<rect x="494" y="180" width="1.25" height="1.25" fill="#0a860a"/>
<rect x="494" y="186" width="1.25" height="1.25" fill="#0a860a"/>
<rect x="489" y="180" width="1.25" height="1.25" fill="#0a860a"/>
<rect x="507" y="179" width="1.25" height="1.25" fill="#0a860a"/>
<rect x="502" y="178" width="1.25" height="1.25" fill="#0a860a"/>
<rect x="508" y="176" width="1.25" height="1.25" fill="#0a860a"/>
<rect x="511" y="168" width="1.25" height="1.25" fill="#0a860a"/>
<rect x="496" y="188" width="1.25" height="1.25" fill="#0a860a"/>
<rect x="492" y="185" width="1.25" height="1.25" fill="#0a860a"/>
<rect x="487" y="186" width="1.25" height="1.25" fill="#0a860a"/>
<rect x="500" y="185" width="1.25" height="1.25" fill="#0a860a"/>
<rect x="504" y="187" width="1.25" height="1.25" fill="#0a860a"/>
<rect x="499" y="177" width="1.25" height="1.25" fill="#0a860a"/>
<rect x="500" y="177" width="1.25" height="1.25" fill="#0a860a"/>
<rect x="488" y="188" width="1.25" height="1.25" fill="#0a860a"/>
<rect x="496" y="175" width="1.25" height="1.25" fill="#0a860a"/>
<rect x="492" y="173" width="1.25" height="1.25" fill="#0a860a"/>
<rect x="490" y="178" width="1.25" height="1.25" fill="#0a860a"/>
<rect x="499" y="180" width="1.25" height="1.25" fill="#0a860a"/>
<rect x="497" y="170" width="1.25" height="1.25" fill="#0a860a"/>
<rect x="510" y="164" width="1.25" height="1.25" fill="#0a860a"/>
<rect x="502" y="174" width="1.25" height="1.25" fill="#0a860a"/>
<rect x="500" y="172" width="1.25" height="1.25" fill="#0a860a"/>
<rect x="501" y="180" width="1.25" height="1.25" fill="#0a860a"/>
<rect x="489" y="181" width="1.25" height="1.25" fill="#0a860a"/>
<rect x="508" y="167" width="1.25" height="1.25" fill="#0a860a"/>
<rect x="489" y="188" width="1.25" height="1.25" fill="#0a860a"/>
<rect x="491" y="186" width="1.25" height="1.25" fill="#0a860a"/>
<rect x="503" y="172" width="1.25" height="1.25" fill="#0a860a"/>
<rect x="519" y="166" width="1.25" height="1.25" fill="#0a860a"/>
<rect x="518" y="162" width="1.25" height="1.25" fill="#0a860a"/>
<rect x="496" y="169" width="1.25" height="1.25" fill="#0a860a"/>
<rect x="510" y="168" width="1.25" height="1.25" fill="#0a860a"/>
<rect x="492" y="183" width="1.25" height="1.25" fill="#0a860a"/>
<rect x="495" y="178" width="1.25" height="1.25" fill="#0a860a"/>
<rect x="490" y="185" width="1.25" height="1.25" fill="#0a860a"/>
<rect x="495" y="184" width="1.25" height="1.25" fill="#0a860a"/>
<rect x="500" y="183" width="1.25" height="1.25" fill="#0a860a"/>
<rect x="506" y="174" width="1.25" height="1.25" fill="#0a860a"/>
<rect x="489" y="186" width="1.25" height="1.25" fill="#0a860a"/>
<rect x="511" y="169" width="1.25" height="1.25" fill="#0a860a"/>
<rect x="497" y="176" width="1.25" height="1.25" fill="#0a860a"/>
<rect x="507" y="171" width="1.25" height="1.25" fill="#0a860a"/>
<rect x="487" y="181" width="1.25" height="1.25" fill="#0a860a"/>
<rect x="501" y="176" width="1.25" height="1.25" fill="#0a860a"/>
<rect x="515" y="166" width="1.25" height="1.25" fill="#0a860a"/>
<rect x="486" y="191" width="1.25" height="1.25" fill="#0a860a"/>
<rect x="503" y="183" width="1.25" height="1.25" fill="#0a860a"/>
<rect x="503" y="181" width="1.25" height="1.25" fill="#0a860a"/>
<rect x="491" y="185" width="1.25" height="1.25" fill="#0a860a"/>
<rect x="510" y="171" width="1.25" height="1.25" fill="#0a860a"/>
<rect x="502" y="173" width="1.25" height="1.25" fill="#0a860a"/>
<rect x="517" y="173" width="1.25" height="1.25" fill="#0a860a"/>
<rect x="496" y="186" width="1.25" height="1.25" fill="#0a860a"/>
<rect x="486" y="185" width="1.25" height="1.25" fill="#0a860a"/>
<rect x="484" y="185" width="1.25" height="1.25" fill="#0a860a"/>
<rect x="490" y="182" width="1.25" height="1.25" fill="#0a860a"/>
<rect x="495" y="181" width="1.25" height="1.25" fill="#0a860a"/>
<rect x="492" y="191" width="1.25" height="1.25" fill="#0a860a"/>
<rect x="480" y="192" width="1.25" height="1.25" fill="#0a860a"/>
<rect x="496" y="183" width="1.25" height="1.25" fill="#0a860a"/>
<rect x="489" y="196" width="1.25" height="1.25" fill="#0a860a"/>
<rect x="496" y="184" width="1.25" height="1.25" fill="#0a860a"/>
<rect x="486" y="182" width="1.25" height="1.25" fill="#0a860a"/>
<rect x="493" y="182" width="1.25" height="1.25" fill="#0a860a"/>
<rect x="497" y="185" width="1.25" height="1.25" fill="#0a860a"/>
<rect x="494" y="190" width="1.25" height="1.25" fill="#0a860a"/>
<rect x="502" y="176" width="1.25" height="1.25" fill="#0a860a"/>
<rect x="489" y="192" width="1.25" height="1.25" fill="#0a860a"/>
<rect x="491" y="184" width="1.25" height="1.25" fill="#0a860a"/>
<rect x="495" y="171" width="1.25" height="1.25" fill="#0a860a"/>
<rect x="480" y="193" width="1.25" height="1.25" fill="#0a860a"/>
<rect x="486" y="180" width="1.25" height="1.25" fill="#0a860a"/>
<rect x="497" y="179" width="1.25" height="1.25" fill="#0a860a"/>
<rect x="491" y="181" width="1.25" height="1.25" fill="#0a860a"/>
<rect x="500" y="178" width="1.25" height="1.25" fill="#0a860a"/>
<rect x="496" y="182" width="1.25" height="1.25" fill="#0a860a"/>
<rect x="492" y="192" width="1.25" height="1.25" fill="#0a860a"/>
<rect x="513" y="170" width="1.25" height="1.25" fill="#0a860a"/>
<rect x="490" y="187" width="1.25" height="1.25" fill="#0a860a"/>
<rect x="500" y="179" width="1.25" height="1.25" fill="#0a860a"/>
<rect x="484" y="186" width="1.25" height="1.25" fill="#0a860a"/>
<rect x="495" y="194" width="1.25" height="1.25" fill="#0a860a"/>
<rect x="482" y="190" width="1.25" height="1.25" fill="#0a860a"/>
<rect x="507" y="173" width="1.25" height="1.25" fill="#0a860a"/>
<rect x="501" y="183" width="1.25" height="1.25" fill="#0a860a"/>
<rect x="523" y="165" width="1.25" height="1.25" fill="#0a860a"/>
<rect x="491" y="188" width="1.25" height="1.25" fill="#0a860a"/>
<rect x="504" y="178" width="1.25" height="1.25" fill="#0a860a"/>
<rect x="494" y="174" width="1.25" height="1.25" fill="#0a860a"/>
<rect x="509" y="169" width="1.25" height="1.25" fill="#0a860a"/>
<rect x="477" y="188" width="1.25" height="1.25" fill="#0a860a"/>
<rect x="478" y="188" width="1.25" height="1.25" fill="#0a860a"/>
<rect x="497" y="190" width="1.25" height="1.25" fill="#0a860a"/>
<rect x="483" y="182" width="1.25" height="1.25" fill="#0a860a"/>
<rect x="489" y="176" width="1.25" height="1.25" fill="#0a860a"/>
<rect x="498" y="179" width="1.25" height="1.25" fill="#0a860a"/>
<rect x="509" y="182" width="1.25" height="1.25" fill="#0a860a"/>
<rect x="482" y="183" width="1.25" height="1.25" fill="#0a860a"/>
<rect x="502" y="185" width="1.25" height="1.25" fill="#0a860a"/>
<rect x="515" y="171" width="1.25" height="1.25" fill="#0a860a"/>
<rect x="510" y="172" width="1.25" height="1.25" fill="#0a860a"/>
<rect x="512" y="170" width="1.25" height="1.25" fill="#0a860a"/>
<rect x="506" y="168" width="1.25" height="1.25" fill="#0a860a"/>
<rect x="489" y="184" width="1.25" height="1.25" fill="#0a860a"/>
<rect x="513" y="173" width="1.25" height="1.25" fill="#0a860a"/>
<rect x="500" y="192" width="1.25" height="1.25" fill="#0a860a"/>
<rect x="505" y="175" width="1.25" height="1.25" fill="#0a860a"/>
<rect x="498" y="181" width="1.25" height="1.25" fill="#0a860a"/>
<rect x="497" y="187" width="1.25" height="1.25" fill="#0a860a"/>
<rect x="491" y="195" width="1.25" height="1.25" fill="#0a860a"/>
<rect x="517" y="166" width="1.25" height="1.25" fill="#0a860a"/>
<rect x="491" y="183" width="1.25" height="1.25" fill="#0a860a"/>
<rect x="492" y="178" width="1.25" height="1.25" fill="#0a860a"/>
<rect x="485" y="190" width="1.25" height="1.25" fill="#0a860a"/>
<rect x="513" y="172" width="1.25" height="1.25" fill="#0a860a"/>
<rect x="490" y="184" width="1.25" height="1.25" fill="#0a860a"/>
<rect x="498" y="173" width="1.25" height="1.25" fill="#0a860a"/>
<rect x="515" y="180" width="1.25" height="1.25" fill="#0a860a"/>
<rect x="481" y="188" width="1.25" height="1.25" fill="#0a860a"/>
<rect x="474" y="195" width="1.25" height="1.25" fill="#0a860a"/>
<rect x="499" y="185" width="1.25" height="1.25" fill="#0a860a"/>
<rect x="507" y="174" width="1.25" height="1.25" fill="#0a860a"/>
<rect x="471" y="205" width="1.25" height="1.25" fill="#0a860a"/>
<rect x="485" y="184" width="1.25" height="1.25" fill="#0a860a"/>
<rect x="486" y="181" width="1.25" height="1.25" fill="#0a860a"/>
<rect x="499" y="186" width="1.25" height="1.25" fill="#0a860a"/>
<rect x="483" y="191" width="1.25" height="1.25" fill="#0a860a"/>
<rect x="499" y="188" width="1.25" height="1.25" fill="#0a860a"/>
<rect x="502" y="175" width="1.25" height="1.25" fill="#0a860a"/>
<rect x="506" y="173" width="1.25" height="1.25" fill="#0a860a"/>
<rect x="489" y="197" width="1.25" height="1.25" fill="#0a860a"/>
<rect x="478" y="203" width="1.25" height="1.25" fill="#0a860a"/>
<rect x="511" y="172" width="1.25" height="1.25" fill="#0a860a"/>
<rect x="489" y="189" width="1.25" height="1.25" fill="#0a860a"/>
<rect x="505" y="185" width="1.25" height="1.25" fill="#0a860a"/>
<rect x="501" y="189" width="1.25" height="1.25" fill="#0a860a"/>
<rect x="497" y="192" width="1.25" height="1.25" fill="#0a860a"/>
<rect x="492" y="186" width="1.25" height="1.25" fill="#0a860a"/>
<rect x="467" y="199" width="1.25" height="1.25" fill="#0a860a"/>
<rect x="493" y="184" width="1.25" height="1.25" fill="#0a860a"/>
<rect x="500" y="176" width="1.25" height="1.25" fill="#0a860a"/>
<rect x="505" y="182" width="1.25" height="1.25" fill="#0a860a"/>
<rect x="488" y="192" width="1.25" height="1.25" fill="#0a860a"/>
<rect x="483" y="195" width="1.25" height="1.25" fill="#0a860a"/>
<rect x="533" y="150" width="1.25" height="1.25" fill="#0a860a"/>
<rect x="494" y="176" width="1.25" height="1.25" fill="#0a860a"/>
<rect x="513" y="171" width="1.25" height="1.25" fill="#0a860a"/>
<rect x="486" y="189" width="1.25" height="1.25" fill="#0a860a"/>
<rect x="504" y="185" width="1.25" height="1.25" fill="#0a860a"/>
<rect x="511" y="162" width="1.25" height="1.25" fill="#0a860a"/>
<rect x="513" y="175" width="1.25" height="1.25" fill="#0a860a"/>
<rect x="498" y="165" width="1.25" height="1.25" fill="#0a860a"/>
<rect x="506" y="185" width="1.25" height="1.25" fill="#0a860a"/>
<rect x="525" y="165" width="1.25" height="1.25" fill="#0a860a"/>
<rect x="522" y="174" width="1.25" height="1.25" fill="#0a860a"/>
<rect x="516" y="174" width="1.25" height="1.25" fill="#0a860a"/>
<rect x="506" y="181" width="1.25" height="1.25" fill="#0a860a"/>
<rect x="514" y="170" width="1.25" height="1.25" fill="#0a860a"/>
<rect x="519" y="174" width="1.25" height="1.25" fill="#0a860a"/>
<rect x="516" y="172" width="1.25" height="1.25" fill="#0a860a"/>
<rect x="522" y="155" width="1.25" height="1.25" fill="#0a860a"/>
<rect x="515" y="169" width="1.25" height="1.25" fill="#0a860a"/>
<rect x="518" y="174" width="1.25" height="1.25" fill="#0a860a"/>
<rect x="518" y="167" width="1.25" height="1.25" fill="#0a860a"/>
<rect x="521" y="170" width="1.25" height="1.25" fill="#0a860a"/>
<rect x="521" y="165" width="1.25" height="1.25" fill="#0a860a"/>
<rect x="511" y="170" width="1.25" height="1.25" fill="#0a860a"/>
<rect x="520" y="183" width="1.25" height="1.25" fill="#0a860a"/>
<rect x="521" y="166" width="1.25" height="1.25" fill="#0a860a"/>
<rect x="515" y="173" width="1.25" height="1.25" fill="#0a860a"/>
<rect x="522" y="173" width="1.25" height="1.25" fill="#0a860a"/>
<rect x="515" y="175" width="1.25" height="1.25" fill="#0a860a"/>
<rect x="508" y="174" width="1.25" height="1.25" fill="#0a860a"/>
<rect x="514" y="190" width="1.25" height="1.25" fill="#0a860a"/>
<rect x="514" y="171" width="1.25" height="1.25" fill="#0a860a"/>
<rect x="531" y="153" width="1.25" height="1.25" fill="#0a860a"/>
<rect x="507" y="192" width="1.25" height="1.25" fill="#0a860a"/>
<rect x="534" y="168" width="1.25" height="1.25" fill="#0a860a"/>
<rect x="529" y="174" width="1.25" height="1.25" fill="#0a860a"/>
<rect x="499" y="165" width="1.25" height="1.25" fill="#0a860a"/>
<rect x="518" y="180" width="1.25" height="1.25" fill="#0a860a"/>
<rect x="524" y="174" width="1.25" height="1.25" fill="#0a860a"/>
<rect x="518" y="171" width="1.25" height="1.25" fill="#0a860a"/>
<rect x="522" y="166" width="1.25" height="1.25" fill="#0a860a"/>
<rect x="507" y="170" width="1.25" height="1.25" fill="#0a860a"/>
<rect x="526" y="169" width="1.25" height="1.25" fill="#0a860a"/>
<rect x="517" y="171" width="1.25" height="1.25" fill="#0a860a"/>
<rect x="527" y="166" width="1.25" height="1.25" fill="#0a860a"/>
<rect x="522" y="163" width="1.25" height="1.25" fill="#0a860a"/>
<rect x="520" y="167" width="1.25" height="1.25" fill="#0a860a"/>
<rect x="504" y="166" width="1.25" height="1.25" fill="#0a860a"/>
<rect x="511" y="164" width="1.25" height="1.25" fill="#0a860a"/>
<rect x="508" y="169" width="1.25" height="1.25" fill="#0a860a"/>
<rect x="512" y="171" width="1.25" height="1.25" fill="#0a860a"/>
<rect x="508" y="180" width="1.25" height="1.25" fill="#0a860a"/>
<rect x="521" y="176" width="1.25" height="1.25" fill="#0a860a"/>
<rect x="523" y="160" width="1.25" height="1.25" fill="#0a860a"/>
<rect x="511" y="186" width="1.25" height="1.25" fill="#0a860a"/>
<rect x="514" y="175" width="1.25" height="1.25" fill="#0a860a"/>
<rect x="510" y="177" width="1.25" height="1.25" fill="#0a860a"/>
<rect x="509" y="173" width="1.25" height="1.25" fill="#0a860a"/>
<rect x="524" y="161" width="1.25" height="1.25" fill="#0a860a"/>
<rect x="517" y="178" width="1.25" height="1.25" fill="#0a860a"/>
<rect x="517" y="153" width="1.25" height="1.25" fill="#0a860a"/>
<rect x="503" y="164" width="1.25" height="1.25" fill="#0a860a"/>
<rect x="514" y="164" width="1.25" height="1.25" fill="#0a860a"/>
<rect x="511" y="179" width="1.25" height="1.25" fill="#0a860a"/>
<rect x="526" y="166" width="1.25" height="1.25" fill="#0a860a"/>
<rect x="501" y="177" width="1.25" height="1.25" fill="#0a860a"/>
<rect x="514" y="191" width="1.25" height="1.25" fill="#0a860a"/>
<rect x="527" y="181" width="1.25" height="1.25" fill="#0a860a"/>
<rect x="506" y="167" width="1.25" height="1.25" fill="#0a860a"/>
<rect x="520" y="172" width="1.25" height="1.25" fill="#0a860a"/>
<rect x="529" y="177" width="1.25" height="1.25" fill="#0a860a"/>
<rect x="507" y="181" width="1.25" height="1.25" fill="#0a860a"/>
<rect x="504" y="165" width="1.25" height="1.25" fill="#0a860a"/>
<rect x="517" y="175" width="1.25" height="1.25" fill="#0a860a"/>
<rect x="519" y="167" width="1.25" height="1.25" fill="#0a860a"/>
<rect x="512" y="165" width="1.25" height="1.25" fill="#0a860a"/>
<rect x="519" y="171" width="1.25" height="1.25" fill="#0a860a"/>
<rect x="513" y="182" width="1.25" height="1.25" fill="#0a860a"/>
<rect x="522" y="170" width="1.25" height="1.25" fill="#0a860a"/>
<rect x="510" y="163" width="1.25" height="1.25" fill="#0a860a"/>
<rect x="514" y="187" width="1.25" height="1.25" fill="#0a860a"/>
<rect x="512" y="167" width="1.25" height="1.25" fill="#0a860a"/>
<rect x="517" y="160" width="1.25" height="1.25" fill="#0a860a"/>
<rect x="518" y="159" width="1.25" height="1.25" fill="#0a860a"/>
<rect x="521" y="161" width="1.25" height="1.25" fill="#0a860a"/>
<rect x="514" y="182" width="1.25" height="1.25" fill="#0a860a"/>
<rect x="521" y="162" width="1.25" height="1.25" fill="#0a860a"/>
<rect x="508" y="165" width="1.25" height="1.25" fill="#0a860a"/>
<rect x="511" y="171" width="1.25" height="1.25" fill="#0a860a"/>
<rect x="506" y="182" width="1.25" height="1.25" fill="#0a860a"/>
<rect x="513" y="179" width="1.25" height="1.25" fill="#0a860a"/>
<rect x="524" y="162" width="1.25" height="1.25" fill="#0a860a"/>
<rect x="510" y="173" width="1.25" height="1.25" fill="#0a860a"/>
<rect x="512" y="166" width="1.25" height="1.25" fill="#0a860a"/>
<rect x="502" y="161" width="1.25" height="1.25" fill="#0a860a"/>
<rect x="515" y="165" width="1.25" height="1.25" fill="#0a860a"/>
<rect x="522" y="160" width="1.25" height="1.25" fill="#0a860a"/>
<rect x="521" y="177" width="1.25" height="1.25" fill="#0a860a"/>
<rect x="518" y="168" width="1.25" height="1.25" fill="#0a860a"/>
<rect x="516" y="162" width="1.25" height="1.25" fill="#0a860a"/>
<rect x="512" y="159" width="1.25" height="1.25" fill="#0a860a"/>
<rect x="510" y="174" width="1.25" height="1.25" fill="#0a860a"/>
<rect x="512" y="187" width="1.25" height="1.25" fill="#0a860a"/>
<rect x="514" y="169" width="1.25" height="1.25" fill="#0a860a"/>
<rect x="515" y="178" width="1.25" height="1.25" fill="#0a860a"/>
<rect x="506" y="176" width="1.25" height="1.25" fill="#0a860a"/>
<rect x="505" y="170" width="1.25" height="1.25" fill="#0a860a"/>
<rect x="517" y="174" width="1.25" height="1.25" fill="#0a860a"/>
<rect x="479" y="181" width="1.25" height="1.25" fill="#0a860a"/>
<rect x="487" y="175" width="1.25" height="1.25" fill="#0a860a"/>
<rect x="467" y="187" width="1.25" height="1.25" fill="#0a860a"/>
<rect x="487" y="184" width="1.25" height="1.25" fill="#0a860a"/>
<rect x="423" y="230" width="1.25" height="1.25" fill="#0a860a"/>
<rect x="477" y="187" width="1.25" height="1.25" fill="#0a860a"/>
<rect x="507" y="178" width="1.25" height="1.25" fill="#0a860a"/>
<rect x="517" y="164" width="1.25" height="1.25" fill="#0a860a"/>
<rect x="446" y="225" width="1.25" height="1.25" fill="#0a860a"/>
<rect x="485" y="182" width="1.25" height="1.25" fill="#0a860a"/>
<rect x="473" y="222" width="1.25" height="1.25" fill="#0a860a"/>
<rect x="494" y="199" width="1.25" height="1.25" fill="#0a860a"/>
<rect x="515" y="170" width="1.25" height="1.25" fill="#0a860a"/>
<rect x="514" y="174" width="1.25" height="1.25" fill="#0a860a"/>
<rect x="479" y="182" width="1.25" height="1.25" fill="#0a860a"/>
<rect x="464" y="198" width="1.25" height="1.25" fill="#0a860a"/>
<rect x="486" y="165" width="1.25" height="1.25" fill="#0a860a"/>
<rect x="530" y="141" width="1.25" height="1.25" fill="#0a860a"/>
<rect x="521" y="144" width="1.25" height="1.25" fill="#0a860a"/>
<rect x="468" y="188" width="1.25" height="1.25" fill="#0a860a"/>
<rect x="487" y="179" width="1.25" height="1.25" fill="#0a860a"/>
<rect x="495" y="175" width="1.25" height="1.25" fill="#0a860a"/>
<rect x="518" y="165" width="1.25" height="1.25" fill="#0a860a"/>
<rect x="487" y="171" width="1.25" height="1.25" fill="#0a860a"/>
<rect x="492" y="175" width="1.25" height="1.25" fill="#0a860a"/>
<rect x="453" y="213" width="1.25" height="1.25" fill="#0a860a"/>
<rect x="522" y="181" width="1.25" height="1.25" fill="#0a860a"/>
<rect x="525" y="156" width="1.25" height="1.25" fill="#0a860a"/>
<rect x="492" y="197" width="1.25" height="1.25" fill="#0a860a"/>
<rect x="495" y="169" width="1.25" height="1.25" fill="#0a860a"/>
<rect x="521" y="174" width="1.25" height="1.25" fill="#0a860a"/>
<rect x="465" y="198" width="1.25" height="1.25" fill="#0a860a"/>
<rect x="479" y="184" width="1.25" height="1.25" fill="#0a860a"/>
<rect x="525" y="167" width="1.25" height="1.25" fill="#0a860a"/>
<rect x="457" y="222" width="1.25" height="1.25" fill="#0a860a"/>
<rect x="519" y="176" width="1.25" height="1.25" fill="#0a860a"/>
<rect x="490" y="203" width="1.25" height="1.25" fill="#0a860a"/>
<rect x="500" y="169" width="1.25" height="1.25" fill="#0a860a"/>
<rect x="488" y="200" width="1.25" height="1.25" fill="#0a860a"/>
<rect x="443" y="215" width="1.25" height="1.25" fill="#0a860a"/>
<rect x="442" y="231" width="1.25" height="1.25" fill="#0a860a"/>
<rect x="473" y="172" width="1.25" height="1.25" fill="#0a860a"/>
<rect x="471" y="190" width="1.25" height="1.25" fill="#0a860a"/>
<rect x="457" y="201" width="1.25" height="1.25" fill="#0a860a"/>
<rect x="477" y="208" width="1.25" height="1.25" fill="#0a860a"/>
<rect x="517" y="182" width="1.25" height="1.25" fill="#0a860a"/>
<rect x="499" y="187" width="1.25" height="1.25" fill="#0a860a"/>
<rect x="513" y="161" width="1.25" height="1.25" fill="#0a860a"/>
<rect x="496" y="166" width="1.25" height="1.25" fill="#0a860a"/>
<rect x="492" y="179" width="1.25" height="1.25" fill="#0a860a"/>
<rect x="486" y="203" width="1.25" height="1.25" fill="#0a860a"/>
<rect x="462" y="209" width="1.25" height="1.25" fill="#0a860a"/>
<rect x="459" y="219" width="1.25" height="1.25" fill="#0a860a"/>
<rect x="472" y="189" width="1.25" height="1.25" fill="#0a860a"/>
<rect x="494" y="179" width="1.25" height="1.25" fill="#0a860a"/>
<rect x="458" y="206" width="1.25" height="1.25" fill="#0a860a"/>
<rect x="496" y="190" width="1.25" height="1.25" fill="#0a860a"/>
<rect x="494" y="181" width="1.25" height="1.25" fill="#0a860a"/>
<rect x="496" y="172" width="1.25" height="1.25" fill="#0a860a"/>
<rect x="475" y="193" width="1.25" height="1.25" fill="#0a860a"/>
<rect x="487" y="201" width="1.25" height="1.25" fill="#0a860a"/>
<rect x="524" y="156" width="1.25" height="1.25" fill="#0a860a"/>
<rect x="506" y="193" width="1.25" height="1.25" fill="#0a860a"/>
<rect x="453" y="212" width="1.25" height="1.25" fill="#0a860a"/>
<rect x="447" y="214" width="1.25" height="1.25" fill="#0a860a"/>
<rect x="442" y="234" width="1.25" height="1.25" fill="#0a860a"/>
<rect x="465" y="184" width="1.25" height="1.25" fill="#0a860a"/>
<rect x="516" y="156" width="1.25" height="1.25" fill="#0a860a"/>
<rect x="480" y="218" width="1.25" height="1.25" fill="#0a860a"/>
<rect x="484" y="181" width="1.25" height="1.25" fill="#0a860a"/>
<rect x="506" y="180" width="1.25" height="1.25" fill="#0a860a"/>
<rect x="453" y="208" width="1.25" height="1.25" fill="#0a860a"/>
<rect x="479" y="185" width="1.25" height="1.25" fill="#0a860a"/>
<rect x="481" y="177" width="1.25" height="1.25" fill="#0a860a"/>
<rect x="503" y="178" width="1.25" height="1.25" fill="#0a860a"/>
<rect x="494" y="158" width="1.25" height="1.25" fill="#0a860a"/>
<rect x="445" y="213" width="1.25" height="1.25" fill="#0a860a"/>
<rect x="434" y="233" width="1.25" height="1.25" fill="#0a860a"/>
<rect x="427" y="241" width="1.25" height="1.25" fill="#0a860a"/>
<rect x="458" y="200" width="1.25" height="1.25" fill="#0a860a"/>
<rect x="479" y="179" width="1.25" height="1.25" fill="#0a860a"/>
<rect x="476" y="188" width="1.25" height="1.25" fill="#0a860a"/>
<rect x="470" y="220" width="1.25" height="1.25" fill="#0a860a"/>
<rect x="445" y="228" width="1.25" height="1.25" fill="#0a860a"/>
<rect x="485" y="189" width="1.25" height="1.25" fill="#0a860a"/>
<rect x="490" y="205" width="1.25" height="1.25" fill="#0a860a"/>
<rect x="481" y="183" width="1.25" height="1.25" fill="#0a860a"/>
<rect x="497" y="186" width="1.25" height="1.25" fill="#0a860a"/>
<rect x="505" y="165" width="1.25" height="1.25" fill="#0a860a"/>
<rect x="452" y="207" width="1.25" height="1.25" fill="#0a860a"/>
<rect x="491" y="175" width="1.25" height="1.25" fill="#0a860a"/>
<rect x="498" y="164" width="1.25" height="1.25" fill="#0a860a"/>
<rect x="465" y="196" width="1.25" height="1.25" fill="#0a860a"/>
<rect x="484" y="188" width="1.25" height="1.25" fill="#0a860a"/>
<rect x="487" y="204" width="1.25" height="1.25" fill="#0a860a"/>
<rect x="466" y="199" width="1.25" height="1.25" fill="#0a860a"/>
<rect x="512" y="178" width="1.25" height="1.25" fill="#0a860a"/>
<rect x="478" y="215" width="1.25" height="1.25" fill="#0a860a"/>
<rect x="456" y="218" width="1.25" height="1.25" fill="#0a860a"/>
<rect x="488" y="169" width="1.25" height="1.25" fill="#0a860a"/>
<rect x="472" y="198" width="1.25" height="1.25" fill="#0a860a"/>
<rect x="484" y="179" width="1.25" height="1.25" fill="#0a860a"/>
<rect x="501" y="187" width="1.25" height="1.25" fill="#0a860a"/>
<rect x="501" y="184" width="1.25" height="1.25" fill="#0a860a"/>
<rect x="485" y="203" width="1.25" height="1.25" fill="#0a860a"/>
<rect x="491" y="159" width="1.25" height="1.25" fill="#0a860a"/>
<rect x="451" y="218" width="1.25" height="1.25" fill="#0a860a"/>
<rect x="504" y="168" width="1.25" height="1.25" fill="#0a860a"/>
<rect x="486" y="179" width="1.25" height="1.25" fill="#0a860a"/>
<rect x="509" y="175" width="1.25" height="1.25" fill="#0a860a"/>
<rect x="485" y="199" width="1.25" height="1.25" fill="#0a860a"/>
<rect x="497" y="188" width="1.25" height="1.25" fill="#0a860a"/>
<rect x="478" y="207" width="1.25" height="1.25" fill="#0a860a"/>
<rect x="499" y="166" width="1.25" height="1.25" fill="#0a860a"/>
<rect x="452" y="220" width="1.25" height="1.25" fill="#0a860a"/>
<rect x="455" y="222" width="1.25" height="1.25" fill="#0a860a"/>
<rect x="508" y="184" width="1.25" height="1.25" fill="#0a860a"/>
<rect x="484" y="173" width="1.25" height="1.25" fill="#0a860a"/>
<rect x="487" y="198" width="1.25" height="1.25" fill="#0a860a"/>
<rect x="485" y="98" width="1.25" height="1.25" fill="#0a860a"/>
<rect x="508" y="92" width="1.25" height="1.25" fill="#0a860a"/>
<rect x="514" y="94" width="1.25" height="1.25" fill="#0a860a"/>
<rect x="520" y="104" width="1.25" height="1.25" fill="#0a860a"/>
<rect x="499" y="110" width="1.25" height="1.25" fill="#0a860a"/>
<rect x="497" y="118" width="1.25" height="1.25" fill="#0a860a"/>
<rect x="507" y="114" width="1.25" height="1.25" fill="#0a860a"/>
<rect x="516" y="109" width="1.25" height="1.25" fill="#0a860a"/>
<rect x="490" y="126" width="1.25" height="1.25" fill="#0a860a"/>
<rect x="485" y="134" width="1.25" height="1.25" fill="#0a860a"/>
<rect x="512" y="139" width="1.25" height="1.25" fill="#0a860a"/>
<rect x="518" y="134" width="1.25" height="1.25" fill="#0a860a"/>
<rect x="526" y="139" width="1.25" height="1.25" fill="#0a860a"/>
<rect x="502" y="146" width="1.25" height="1.25" fill="#0a860a"/>
<rect x="491" y="150" width="1.25" height="1.25" fill="#0a860a"/>
<rect x="533" y="132" width="1.25" height="1.25" fill="#0a860a"/>
<rect x="532" y="98" width="1.25" height="1.25" fill="#0a860a"/>
<rect x="534" y="96" width="1.25" height="1.25" fill="#0a860a"/>
<rect x="536" y="90" width="1.25" height="1.25" fill="#0a860a"/>
<rect x="539" y="106" width="1.25" height="1.25" fill="#0a860a"/>
<rect x="543" y="104" width="1.25" height="1.25" fill="#0a860a"/>
<rect x="543" y="106" width="1.25" height="1.25" fill="#0a860a"/>
<rect x="545" y="95" width="1.25" height="1.25" fill="#0a860a"/>
<rect x="550" y="94" width="1.25" height="1.25" fill="#0a860a"/>
<rect x="553" y="92" width="1.25" height="1.25" fill="#0a860a"/>
<rect x="555" y="90" width="1.25" height="1.25" fill="#0a860a"/>
<rect x="554" y="94" width="1.25" height="1.25" fill="#0a860a"/>
<rect x="558" y="94" width="1.25" height="1.25" fill="#0a860a"/>
<rect x="562" y="93" width="1.25" height="1.25" fill="#0a860a"/>
<rect x="566" y="90" width="1.25" height="1.25" fill="#0a860a"/>
<rect x="562" y="100" width="1.25" height="1.25" fill="#0a860a"/>
<rect x="569" y="100" width="1.25" height="1.25" fill="#0a860a"/>
<rect x="572" y="102" width="1.25" height="1.25" fill="#0a860a"/>
<rect x="573" y="95" width="1.25" height="1.25" fill="#0a860a"/>
<rect x="549" y="111" width="1.25" height="1.25" fill="#0a860a"/>
<rect x="550" y="119" width="1.25" height="1.25" fill="#0a860a"/>
<rect x="560" y="123" width="1.25" height="1.25" fill="#0a860a"/>
<rect x="564" y="129" width="1.25" height="1.25" fill="#0a860a"/>
<rect x="576" y="116" width="1.25" height="1.25" fill="#0a860a"/>
<rect x="584" y="115" width="1.25" height="1.25" fill="#0a860a"/>
<rect x="590" y="116" width="1.25" height="1.25" fill="#0a860a"/>
<rect x="588" y="90" width="1.25" height="1.25" fill="#0a860a"/>
<rect x="590" y="96" width="1.25" height="1.25" fill="#0a860a"/>
<rect x="594" y="95" width="1.25" height="1.25" fill="#0a860a"/>
<rect x="596" y="80" width="1.25" height="1.25" fill="#0a860a"/>
<rect x="599" y="87" width="1.25" height="1.25" fill="#0a860a"/>
<rect x="581" y="122" width="1.25" height="1.25" fill="#0a860a"/>
<rect x="583" y="124" width="1.25" height="1.25" fill="#0a860a"/>
<rect x="580" y="128" width="1.25" height="1.25" fill="#0a860a"/>
<rect x="588" y="128" width="1.25" height="1.25" fill="#0a860a"/>
<rect x="574" y="133" width="1.25" height="1.25" fill="#0a860a"/>
<rect x="569" y="135" width="1.25" height="1.25" fill="#0a860a"/>
<rect x="576" y="134" width="1.25" height="1.25" fill="#0a860a"/>
<rect x="582" y="135" width="1.25" height="1.25" fill="#0a860a"/>
<rect x="586" y="140" width="1.25" height="1.25" fill="#0a860a"/>
<rect x="572" y="141" width="1.25" height="1.25" fill="#0a860a"/>
<rect x="574" y="142" width="1.25" height="1.25" fill="#0a860a"/>
<rect x="569" y="142" width="1.25" height="1.25" fill="#0a860a"/>
<rect x="564" y="142" width="1.25" height="1.25" fill="#0a860a"/>
<rect x="561" y="144" width="1.25" height="1.25" fill="#0a860a"/>
<rect x="566" y="146" width="1.25" height="1.25" fill="#0a860a"/>
<rect x="549" y="134" width="1.25" height="1.25" fill="#0a860a"/>
<rect x="551" y="136" width="1.25" height="1.25" fill="#0a860a"/>
<rect x="554" y="138" width="1.25" height="1.25" fill="#0a860a"/>
<rect x="547" y="141" width="1.25" height="1.25" fill="#0a860a"/>
<rect x="548" y="145" width="1.25" height="1.25" fill="#0a860a"/>
<rect x="544" y="146" width="1.25" height="1.25" fill="#0a860a"/>
<rect x="541" y="148" width="1.25" height="1.25" fill="#0a860a"/>
<rect x="547" y="152" width="1.25" height="1.25" fill="#0a860a"/>
<rect x="555" y="146" width="1.25" height="1.25" fill="#0a860a"/>
<rect x="540" y="159" width="1.25" height="1.25" fill="#0a860a"/>
<text x="405.2" y="49.7" font-family='"Liberation Sans", sans-serif' font-size="16.4" fill="#1c1c1c" stroke="#1c1c1c" stroke-width="0.3" style="font-kerning:none">Q2- </text><path d="M515 0V1237L197 1010V1180L530 1409H696V0Z" transform="translate(432.54,49.7) scale(0.00801,-0.00801)" fill="#1c1c1c" stroke="#1c1c1c" stroke-width="37.5"/>
<text x="405.2" y="68" font-family='"Liberation Sans", sans-serif' font-size="16.4" fill="#1c1c1c" stroke="#1c1c1c" stroke-width="0.3" style="font-kerning:none">3.  %</text><path d="M515 0V1237L197 1010V1180L530 1409H696V0Z" transform="translate(418.88,68) scale(0.00801,-0.00801)" fill="#1c1c1c" stroke="#1c1c1c" stroke-width="37.5"/><path d="M515 0V1237L197 1010V1180L530 1409H696V0Z" transform="translate(428,68) scale(0.00801,-0.00801)" fill="#1c1c1c" stroke="#1c1c1c" stroke-width="37.5"/>
<text x="605.2" y="49.7" font-family='"Liberation Sans", sans-serif' font-size="16.4" fill="#1c1c1c" stroke="#1c1c1c" stroke-width="0.3" style="font-kerning:none">Q2-2</text>
<text x="605.2" y="68" font-family='"Liberation Sans", sans-serif' font-size="16.4" fill="#1c1c1c" stroke="#1c1c1c" stroke-width="0.3" style="font-kerning:none">7.03%</text>
<text x="405.2" y="264.2" font-family='"Liberation Sans", sans-serif' font-size="16.4" fill="#1c1c1c" stroke="#1c1c1c" stroke-width="0.3" style="font-kerning:none">Q2-3</text>
<text x="405.2" y="282.5" font-family='"Liberation Sans", sans-serif' font-size="16.4" fill="#1c1c1c" stroke="#1c1c1c" stroke-width="0.3" style="font-kerning:none">89.76%</text>
<text x="605.2" y="264.2" font-family='"Liberation Sans", sans-serif' font-size="16.4" fill="#1c1c1c" stroke="#1c1c1c" stroke-width="0.3" style="font-kerning:none">Q2-4</text>
<text x="605.2" y="282.5" font-family='"Liberation Sans", sans-serif' font-size="16.4" fill="#1c1c1c" stroke="#1c1c1c" stroke-width="0.3" style="font-kerning:none">0. 0%</text><path d="M515 0V1237L197 1010V1180L530 1409H696V0Z" transform="translate(618.88,282.5) scale(0.00801,-0.00801)" fill="#1c1c1c" stroke="#1c1c1c" stroke-width="37.5"/>
<text x="389.6" y="318.2" font-family='"Liberation Sans", sans-serif' font-size="15" fill="#1c1c1c" stroke="#1c1c1c" stroke-width="0.3" style="font-kerning:none"> 0</text><path d="M515 0V1237L197 1010V1180L530 1409H696V0Z" transform="translate(389.6,318.2) scale(0.00732,-0.00732)" fill="#1c1c1c" stroke="#1c1c1c" stroke-width="41.0"/>
<text x="407.8" y="310.9" font-family='"Liberation Sans", sans-serif' font-size="13.3" fill="#1c1c1c" stroke="#1c1c1c" stroke-width="0.3" style="font-kerning:none">3</text>
<text x="449.8" y="318.2" font-family='"Liberation Sans", sans-serif' font-size="15" fill="#1c1c1c" stroke="#1c1c1c" stroke-width="0.3" style="font-kerning:none"> 0</text><path d="M515 0V1237L197 1010V1180L530 1409H696V0Z" transform="translate(449.8,318.2) scale(0.00732,-0.00732)" fill="#1c1c1c" stroke="#1c1c1c" stroke-width="41.0"/>
<text x="467.3" y="310.9" font-family='"Liberation Sans", sans-serif' font-size="13.3" fill="#1c1c1c" stroke="#1c1c1c" stroke-width="0.3" style="font-kerning:none">4</text>
<text x="510.2" y="318.2" font-family='"Liberation Sans", sans-serif' font-size="15" fill="#1c1c1c" stroke="#1c1c1c" stroke-width="0.3" style="font-kerning:none"> 0</text><path d="M515 0V1237L197 1010V1180L530 1409H696V0Z" transform="translate(510.2,318.2) scale(0.00732,-0.00732)" fill="#1c1c1c" stroke="#1c1c1c" stroke-width="41.0"/>
<text x="529.2" y="310.9" font-family='"Liberation Sans", sans-serif' font-size="13.3" fill="#1c1c1c" stroke="#1c1c1c" stroke-width="0.3" style="font-kerning:none">5</text>
<text x="571.7" y="318.2" font-family='"Liberation Sans", sans-serif' font-size="15" fill="#1c1c1c" stroke="#1c1c1c" stroke-width="0.3" style="font-kerning:none"> 0</text><path d="M515 0V1237L197 1010V1180L530 1409H696V0Z" transform="translate(571.7,318.2) scale(0.00732,-0.00732)" fill="#1c1c1c" stroke="#1c1c1c" stroke-width="41.0"/>
<text x="590" y="310.9" font-family='"Liberation Sans", sans-serif' font-size="13.3" fill="#1c1c1c" stroke="#1c1c1c" stroke-width="0.3" style="font-kerning:none">6</text>
<text x="639.5" y="318.2" font-family='"Liberation Sans", sans-serif' font-size="15" fill="#1c1c1c" stroke="#1c1c1c" stroke-width="0.3" style="font-kerning:none"> 0</text><path d="M515 0V1237L197 1010V1180L530 1409H696V0Z" transform="translate(639.5,318.2) scale(0.00732,-0.00732)" fill="#1c1c1c" stroke="#1c1c1c" stroke-width="41.0"/>
<text x="658.4" y="310.9" font-family='"Liberation Sans", sans-serif' font-size="13.3" fill="#1c1c1c" stroke="#1c1c1c" stroke-width="0.3" style="font-kerning:none">7.2</text>
<g transform="translate(384.7,299) rotate(-90)"><text x="-1" y="0" font-family='"Liberation Sans", sans-serif' font-size="15" fill="#1c1c1c" stroke="#1c1c1c" stroke-width="0.3" style="font-kerning:none"> 0</text><path d="M515 0V1237L197 1010V1180L530 1409H696V0Z" transform="translate(-1,0) scale(0.00732,-0.00732)" fill="#1c1c1c" stroke="#1c1c1c" stroke-width="41.0"/><text x="17.5" y="-7.3" font-family='"Liberation Sans", sans-serif' font-size="13.3" fill="#1c1c1c" stroke="#1c1c1c" stroke-width="0.3" style="font-kerning:none">2</text></g>
<g transform="translate(384.7,251.2) rotate(-90)"><text x="-1" y="0" font-family='"Liberation Sans", sans-serif' font-size="15" fill="#1c1c1c" stroke="#1c1c1c" stroke-width="0.3" style="font-kerning:none"> 0</text><path d="M515 0V1237L197 1010V1180L530 1409H696V0Z" transform="translate(-1,0) scale(0.00732,-0.00732)" fill="#1c1c1c" stroke="#1c1c1c" stroke-width="41.0"/><text x="17.5" y="-7.3" font-family='"Liberation Sans", sans-serif' font-size="13.3" fill="#1c1c1c" stroke="#1c1c1c" stroke-width="0.3" style="font-kerning:none">3</text></g>
<g transform="translate(384.7,202.1) rotate(-90)"><text x="-1" y="0" font-family='"Liberation Sans", sans-serif' font-size="15" fill="#1c1c1c" stroke="#1c1c1c" stroke-width="0.3" style="font-kerning:none"> 0</text><path d="M515 0V1237L197 1010V1180L530 1409H696V0Z" transform="translate(-1,0) scale(0.00732,-0.00732)" fill="#1c1c1c" stroke="#1c1c1c" stroke-width="41.0"/><text x="17.5" y="-7.3" font-family='"Liberation Sans", sans-serif' font-size="13.3" fill="#1c1c1c" stroke="#1c1c1c" stroke-width="0.3" style="font-kerning:none">4</text></g>
<g transform="translate(384.7,152.7) rotate(-90)"><text x="-1" y="0" font-family='"Liberation Sans", sans-serif' font-size="15" fill="#1c1c1c" stroke="#1c1c1c" stroke-width="0.3" style="font-kerning:none"> 0</text><path d="M515 0V1237L197 1010V1180L530 1409H696V0Z" transform="translate(-1,0) scale(0.00732,-0.00732)" fill="#1c1c1c" stroke="#1c1c1c" stroke-width="41.0"/><text x="17.5" y="-7.3" font-family='"Liberation Sans", sans-serif' font-size="13.3" fill="#1c1c1c" stroke="#1c1c1c" stroke-width="0.3" style="font-kerning:none">5</text></g>
<g transform="translate(384.7,103.4) rotate(-90)"><text x="-1" y="0" font-family='"Liberation Sans", sans-serif' font-size="15" fill="#1c1c1c" stroke="#1c1c1c" stroke-width="0.3" style="font-kerning:none"> 0</text><path d="M515 0V1237L197 1010V1180L530 1409H696V0Z" transform="translate(-1,0) scale(0.00732,-0.00732)" fill="#1c1c1c" stroke="#1c1c1c" stroke-width="41.0"/><text x="17.5" y="-7.3" font-family='"Liberation Sans", sans-serif' font-size="13.3" fill="#1c1c1c" stroke="#1c1c1c" stroke-width="0.3" style="font-kerning:none">6</text></g>
<g transform="translate(384.7,57) rotate(-90)"><text x="-1" y="0" font-family='"Liberation Sans", sans-serif' font-size="15" fill="#1c1c1c" stroke="#1c1c1c" stroke-width="0.3" style="font-kerning:none"> 0</text><path d="M515 0V1237L197 1010V1180L530 1409H696V0Z" transform="translate(-1,0) scale(0.00732,-0.00732)" fill="#1c1c1c" stroke="#1c1c1c" stroke-width="41.0"/><text x="17.5" y="-7.3" font-family='"Liberation Sans", sans-serif' font-size="13.3" fill="#1c1c1c" stroke="#1c1c1c" stroke-width="0.3" style="font-kerning:none">7.2</text></g>
<text x="503.8" y="341.8" font-family='"Liberation Sans", sans-serif' font-size="15.5" text-anchor="start" fill="#1c1c1c" font-weight="normal" stroke="#1c1c1c" stroke-width="0.3" >FITC-A</text>
<g transform="translate(358.6,162.1) rotate(-90)"><text x="0" y="0" font-family='"Liberation Sans", sans-serif' font-size="15.5" fill="#1c1c1c" stroke="#1c1c1c" stroke-width="0.3" text-anchor="middle">PE-Texas Red-A</text></g>
<defs><linearGradient id="gr" x1="0" y1="0" x2="0" y2="1"><stop offset="0" stop-color="#f74a4b"/><stop offset="0.4" stop-color="#ea4244"/><stop offset="1" stop-color="#962d30"/></linearGradient><linearGradient id="gb" x1="0" y1="0" x2="0" y2="1"><stop offset="0" stop-color="#057ad8"/><stop offset="0.4" stop-color="#0672c8"/><stop offset="1" stop-color="#07477a"/></linearGradient></defs>
<rect x="99.5" y="355.5" width="516.2" height="340.9" fill="none" stroke="#404040" stroke-width="1.35"/>
<line x1="162.4" y1="369.2" x2="162.4" y2="647.6" stroke="#2a2a2a" stroke-width="1.6"/>
<line x1="162.4" y1="647.6" x2="604.7" y2="647.6" stroke="#2a2a2a" stroke-width="1.8"/>
<text x="152" y="652.6" font-family='"Liberation Serif", serif' font-size="15" text-anchor="end" fill="#111" font-weight="bold" >0</text>
<text x="152" y="617.85" font-family='"Liberation Serif", serif' font-size="15" text-anchor="end" fill="#111" font-weight="bold" >1</text>
<text x="152" y="583.1" font-family='"Liberation Serif", serif' font-size="15" text-anchor="end" fill="#111" font-weight="bold" >2</text>
<text x="152" y="548.35" font-family='"Liberation Serif", serif' font-size="15" text-anchor="end" fill="#111" font-weight="bold" >3</text>
<text x="152" y="513.6" font-family='"Liberation Serif", serif' font-size="15" text-anchor="end" fill="#111" font-weight="bold" >4</text>
<text x="152" y="478.85" font-family='"Liberation Serif", serif' font-size="15" text-anchor="end" fill="#111" font-weight="bold" >5</text>
<text x="152" y="444.1" font-family='"Liberation Serif", serif' font-size="15" text-anchor="end" fill="#111" font-weight="bold" >6</text>
<text x="152" y="409.35" font-family='"Liberation Serif", serif' font-size="15" text-anchor="end" fill="#111" font-weight="bold" >7</text>
<text x="152" y="374.6" font-family='"Liberation Serif", serif' font-size="15" text-anchor="end" fill="#111" font-weight="bold" >8</text>
<rect x="187.6" y="629.11" width="34" height="18.49" fill="url(#gr)"/>
<rect x="225.5" y="540.08" width="34" height="107.52" fill="url(#gb)"/>
<rect x="348" y="610.1" width="34" height="37.5" fill="url(#gr)"/>
<rect x="386" y="644.3" width="34" height="3.3" fill="url(#gb)"/>
<rect x="508" y="553.18" width="34" height="94.42" fill="url(#gr)"/>
<rect x="546" y="402.79" width="34" height="244.81" fill="url(#gb)"/>
<line x1="204.6" y1="628.42" x2="204.6" y2="629.81" stroke="#444" stroke-width="0.8"/>
<line x1="202.1" y1="628.42" x2="207.1" y2="628.42" stroke="#444" stroke-width="0.8"/>
<line x1="242.5" y1="537.65" x2="242.5" y2="542.52" stroke="#444" stroke-width="0.8"/>
<line x1="240" y1="537.65" x2="245" y2="537.65" stroke="#444" stroke-width="0.8"/>
<line x1="365" y1="608.71" x2="365" y2="611.49" stroke="#444" stroke-width="0.8"/>
<line x1="362.5" y1="608.71" x2="367.5" y2="608.71" stroke="#444" stroke-width="0.8"/>
<line x1="403" y1="642.21" x2="403" y2="646.38" stroke="#444" stroke-width="0.8"/>
<line x1="400.5" y1="642.21" x2="405.5" y2="642.21" stroke="#444" stroke-width="0.8"/>
<line x1="525" y1="552.66" x2="525" y2="553.71" stroke="#444" stroke-width="0.8"/>
<line x1="522.5" y1="552.66" x2="527.5" y2="552.66" stroke="#444" stroke-width="0.8"/>
<line x1="563" y1="402.09" x2="563" y2="403.48" stroke="#444" stroke-width="0.8"/>
<line x1="560.5" y1="402.09" x2="565.5" y2="402.09" stroke="#444" stroke-width="0.8"/>
<g transform="translate(244.5,532.2) scale(1,0.8)"><text x="0" y="10" font-family='"Liberation Serif", serif' font-size="18" text-anchor="middle" fill="#1a1a1a" stroke="#1a1a1a" stroke-width="0.45">***</text></g>
<g transform="translate(402.3,637.6) scale(1,0.8)"><text x="0" y="10" font-family='"Liberation Serif", serif' font-size="18" text-anchor="middle" fill="#1a1a1a" stroke="#1a1a1a" stroke-width="0.45">***</text></g>
<g transform="translate(561.9,397.2) scale(1,0.8)"><text x="0" y="10" font-family='"Liberation Serif", serif' font-size="18" text-anchor="middle" fill="#1a1a1a" stroke="#1a1a1a" stroke-width="0.45">***</text></g>
<rect x="173.4" y="377" width="10.3" height="9.7" fill="url(#gr)"/>
<rect x="173.4" y="400" width="10.3" height="9.7" fill="url(#gb)"/>
<text x="188.9" y="387.2" font-family='"Liberation Serif", serif' font-size="15.8" text-anchor="start" fill="#111" font-weight="bold" >Untreated PANC-1 cells</text>
<text x="189.4" y="410" font-family='"Liberation Serif", serif' font-size="15.8" text-anchor="start" fill="#111" font-weight="bold" >Treated PANC-1 cells</text>
<text x="189.8" y="672.9" font-family='"Liberation Serif", serif' font-size="15.8" text-anchor="start" fill="#111" font-weight="bold" >Necrotic cells</text>
<text x="313.3" y="672.9" font-family='"Liberation Serif", serif' font-size="15.8" text-anchor="start" fill="#111" font-weight="bold" >Early apoptotic cells</text>
<text x="465.2" y="672.9" font-family='"Liberation Serif", serif' font-size="15.8" text-anchor="start" fill="#111" font-weight="bold" >Late apoptotic cells</text>
<g transform="translate(128.4,516.3) rotate(-90)"><text x="0" y="0" font-family='"Liberation Serif", serif' font-size="16.3" font-weight="bold" fill="#111" text-anchor="middle">Cells count %</text></g>
<path d="M339 320.6 L342.6 318.6 L342.6 320 L339 322 Z" fill="#6a6a6a"/><path d="M339 324.9 L342.7 322.8 L342.7 326 L339 326 Z" fill="#404040"/>
</svg></body></html>
